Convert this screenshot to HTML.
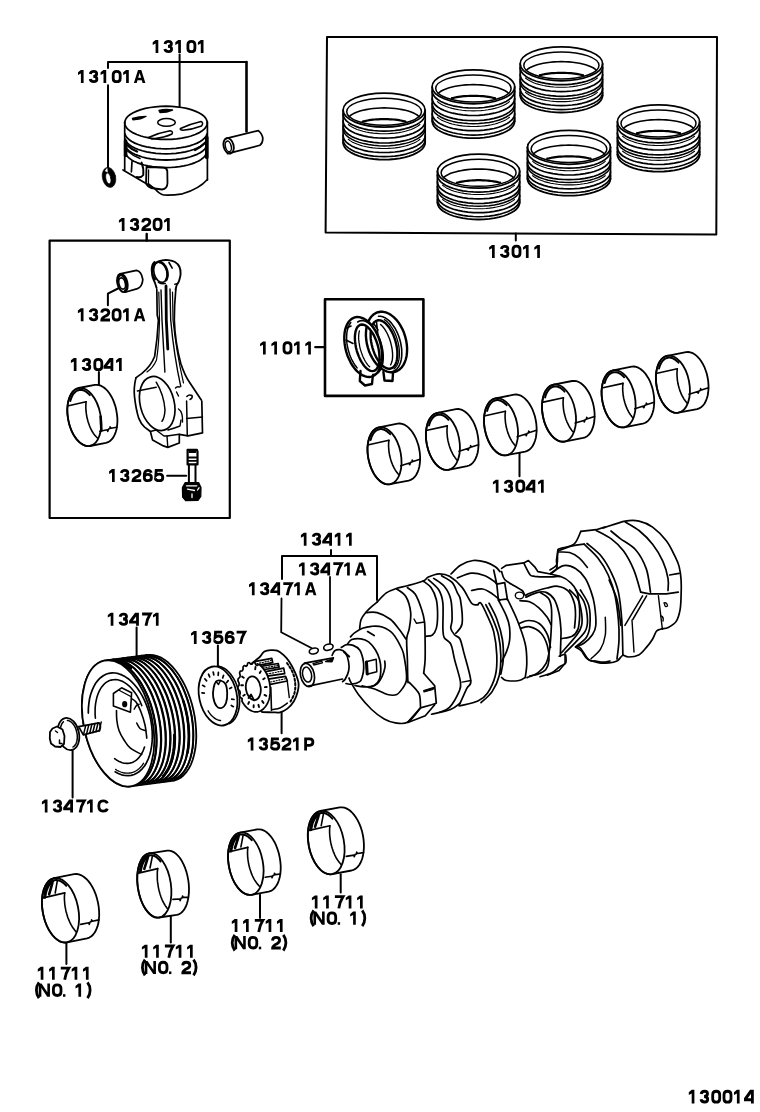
<!DOCTYPE html>
<html><head><meta charset="utf-8"><style>
html,body{margin:0;padding:0;background:#fff;width:760px;height:1112px;overflow:hidden}
svg{display:block}
</style></head><body>
<svg width="760" height="1112" viewBox="0 0 760 1112">
<rect width="760" height="1112" fill="#fff"/>
<g fill="none" fill-rule="evenodd" stroke="#000" stroke-width="1.7" stroke-linecap="round" stroke-linejoin="round">
<path d="M108,68 L108,62 L246.5,62" stroke-width="2"/>
<path d="M246.5,62 L246.5,131.5" stroke-width="2.6"/>
<path d="M108,85.2 L108,168" stroke-width="2"/>
<path d="M179.6,54.5 L179.6,106.6" stroke-width="2"/>
<path d="M327,37 L717,37 L716.3,234.5 L325.6,232.4 Z" stroke-width="2"/>
<path d="M515.8,233.5 L515.8,240.5" stroke-width="2"/>
<path d="M49.6,240.6 L229.8,240.6 L229.8,518 L49.6,518 Z" stroke-width="2.2"/>
<path d="M146.7,234 L146.7,240.5" stroke-width="2.4"/>
<path d="M325,299.3 L423.4,299.3 L423.4,395.9 L325,395.9 Z" stroke-width="2.6"/>
<path d="M315.3,347.2 L325,347.2" stroke-width="2.3"/>
<path d="M107.9,305.3 L107.9,293.6 L119,288" stroke-width="2"/>
<path d="M98.9,372 L98.9,387.3" stroke-width="2"/>
<path d="M167.1,475.7 L186.2,475.7" stroke-width="2"/>
<path d="M519.5,453.2 L519.5,476.3" stroke-width="2"/>
<path d="M331,550 L331,556" stroke-width="2"/>
<path d="M282,579 L282,556 L377,556 L377,600" stroke-width="2"/>
<path d="M281.5,598.5 L281.2,632.2 L311.4,648" stroke-width="1.8"/>
<path d="M330,577 L330,643.3" stroke-width="1.8"/>
<path d="M136.6,627.6 L136.6,655.3" stroke-width="2"/>
<path d="M217.9,645.4 L217.9,668" stroke-width="2"/>
<path d="M281.6,712.6 L281.6,733.3" stroke-width="2"/>
<path d="M72.6,750 L72.6,797.4" stroke-width="2"/>
<path d="M66.4,943 L66.4,963.9" stroke-width="2"/>
<path d="M170.8,916.3 L170.8,942.6" stroke-width="2"/>
<path d="M260,894.7 L260,918" stroke-width="2"/>
<path d="M340.7,874.2 L340.7,892.6" stroke-width="2"/>
<ellipse cx="384.1" cy="110.1" rx="41.0" ry="17.0"/>
<ellipse cx="384.1" cy="111.7" rx="37.4" ry="13.5" stroke-width="1.5"/>
<path d="M349.2,116.6 L350.7,115.3 L352.6,114.1 L354.7,113.0 L357.2,112.0 L360.0,111.1 L362.9,110.3 L366.1,109.6 L369.5,109.0 L373.0,108.5 L376.7,108.2 L380.4,108.0 L384.1,107.9 L387.9,108.0 L391.6,108.2 L395.3,108.5 L398.8,109.0 L402.2,109.6 L405.4,110.3 L408.3,111.1 L411.1,112.0 L413.6,113.0 L415.7,114.1 L417.6,115.3 L419.1,116.6" stroke-width="1.6"/>
<path d="M362.7,121.5 L364.3,121.2 L365.9,120.8 L367.6,120.5 L369.3,120.2 L371.1,119.9 L372.9,119.7 L374.7,119.5 L376.6,119.4 L378.5,119.3 L380.3,119.2 L382.2,119.1 L384.1,119.1 L386.1,119.1 L388.0,119.2 L389.8,119.3 L391.7,119.4 L393.6,119.5 L395.4,119.7 L397.2,119.9 L399.0,120.2 L400.7,120.5 L402.4,120.8 L404.0,121.2 L405.6,121.5" stroke-width="2.2"/>
<path d="M425.2,114.1 L424.8,116.3 L423.8,118.5 L422.1,120.6 L419.7,122.6 L416.7,124.5 L413.2,126.1 L409.1,127.6 L404.7,128.8 L399.9,129.8 L394.8,130.5 L389.5,131.0 L384.1,131.1 L378.8,131.0 L373.5,130.5 L368.4,129.8 L363.6,128.8 L359.2,127.6 L355.1,126.1 L351.6,124.5 L348.6,122.6 L346.2,120.6 L344.5,118.5 L343.5,116.3 L343.1,114.1" stroke-width="1.7"/>
<path d="M425.2,121.2 L424.8,123.4 L423.8,125.6 L422.1,127.7 L419.7,129.7 L416.7,131.5 L413.2,133.2 L409.1,134.6 L404.7,135.9 L399.9,136.9 L394.8,137.6 L389.5,138.0 L384.1,138.2 L378.8,138.0 L373.5,137.6 L368.4,136.9 L363.6,135.9 L359.2,134.6 L355.1,133.2 L351.6,131.5 L348.6,129.7 L346.2,127.7 L344.5,125.6 L343.5,123.4 L343.1,121.2" stroke-width="1.7"/>
<path d="M425.2,126.0 L424.8,128.2 L423.8,130.4 L422.1,132.5 L419.7,134.5 L416.7,136.4 L413.2,138.0 L409.1,139.5 L404.7,140.7 L399.9,141.7 L394.8,142.4 L389.5,142.9 L384.1,143.0 L378.8,142.9 L373.5,142.4 L368.4,141.7 L363.6,140.7 L359.2,139.5 L355.1,138.0 L351.6,136.4 L348.6,134.5 L346.2,132.5 L344.5,130.4 L343.5,128.2 L343.1,126.0" stroke-width="1.7"/>
<path d="M425.2,128.9 L424.8,131.1 L423.8,133.3 L422.1,135.4 L419.7,137.4 L416.7,139.2 L413.2,140.9 L409.1,142.4 L404.7,143.6 L399.9,144.6 L394.8,145.3 L389.5,145.7 L384.1,145.9 L378.8,145.7 L373.5,145.3 L368.4,144.6 L363.6,143.6 L359.2,142.4 L355.1,140.9 L351.6,139.2 L348.6,137.4 L346.2,135.4 L344.5,133.3 L343.5,131.1 L343.1,128.9" stroke-width="1.5"/>
<path d="M425.2,135.5 L424.8,137.8 L423.8,139.9 L422.1,142.1 L419.7,144.0 L416.7,145.9 L413.2,147.6 L409.1,149.0 L404.7,150.3 L399.9,151.3 L394.8,152.0 L389.5,152.4 L384.1,152.5 L378.8,152.4 L373.5,152.0 L368.4,151.3 L363.6,150.3 L359.2,149.0 L355.1,147.6 L351.6,145.9 L348.6,144.0 L346.2,142.1 L344.5,139.9 L343.5,137.8 L343.1,135.5" stroke-width="1.7"/>
<path d="M425.2,139.6 L424.8,141.9 L423.8,144.0 L422.1,146.2 L419.7,148.1 L416.7,150.0 L413.2,151.7 L409.1,153.1 L404.7,154.4 L399.9,155.4 L394.8,156.1 L389.5,156.5 L384.1,156.6 L378.8,156.5 L373.5,156.1 L368.4,155.4 L363.6,154.4 L359.2,153.1 L355.1,151.7 L351.6,150.0 L348.6,148.1 L346.2,146.2 L344.5,144.0 L343.5,141.9 L343.1,139.6" stroke-width="1.6"/>
<path d="M425.2,142.6 L424.8,144.8 L423.8,147.0 L422.1,149.1 L419.7,151.1 L416.7,152.9 L413.2,154.6 L409.1,156.1 L404.7,157.3 L399.9,158.3 L394.8,159.0 L389.5,159.5 L384.1,159.6 L378.8,159.5 L373.5,159.0 L368.4,158.3 L363.6,157.3 L359.2,156.1 L355.1,154.6 L351.6,152.9 L348.6,151.1 L346.2,149.1 L344.5,147.0 L343.5,144.8 L343.1,142.6" stroke-width="1.8"/>
<path d="M420.0,124.5 L418.3,125.8 L416.2,127.1 L413.9,128.3 L411.3,129.4 L408.5,130.3 L405.4,131.2 L402.2,132.0 L398.8,132.6 L395.2,133.1 L391.6,133.4 L387.9,133.7 L384.1,133.7 L380.4,133.7 L376.7,133.4 L373.1,133.1 L369.5,132.6 L366.1,132.0 L362.9,131.2 L359.8,130.3 L357.0,129.4 L354.4,128.3 L352.1,127.1 L350.0,125.8 L348.3,124.5" stroke-width="1.1"/>
<path d="M420.0,139.3 L418.3,140.6 L416.2,141.9 L413.9,143.0 L411.3,144.1 L408.5,145.1 L405.4,146.0 L402.2,146.7 L398.8,147.4 L395.2,147.9 L391.6,148.2 L387.9,148.4 L384.1,148.5 L380.4,148.4 L376.7,148.2 L373.1,147.9 L369.5,147.4 L366.1,146.7 L362.9,146.0 L359.8,145.1 L357.0,144.1 L354.4,143.0 L352.1,141.9 L350.0,140.6 L348.3,139.3" stroke-width="1.1"/>
<path d="M343.09999999999997,110.1 L343.09999999999997,142.6"/>
<path d="M425.2,110.1 L425.2,142.6"/>
<ellipse cx="473.4" cy="86.8" rx="41.3" ry="17.0"/>
<ellipse cx="473.4" cy="88.4" rx="37.7" ry="13.5" stroke-width="1.5"/>
<path d="M438.3,93.3 L439.8,92.0 L441.7,90.8 L443.9,89.7 L446.4,88.7 L449.1,87.8 L452.1,87.0 L455.3,86.3 L458.7,85.7 L462.3,85.2 L465.9,84.9 L469.7,84.7 L473.4,84.6 L477.2,84.7 L481.0,84.9 L484.6,85.2 L488.2,85.7 L491.6,86.3 L494.8,87.0 L497.8,87.8 L500.5,88.7 L503.0,89.7 L505.2,90.8 L507.1,92.0 L508.6,93.3" stroke-width="1.6"/>
<path d="M451.9,98.2 L453.5,97.9 L455.1,97.5 L456.8,97.2 L458.5,96.9 L460.3,96.6 L462.1,96.4 L464.0,96.2 L465.8,96.1 L467.7,96.0 L469.6,95.9 L471.5,95.8 L473.4,95.8 L475.4,95.8 L477.3,95.9 L479.2,96.0 L481.1,96.1 L482.9,96.2 L484.8,96.4 L486.6,96.6 L488.4,96.9 L490.1,97.2 L491.8,97.5 L493.4,97.9 L495.0,98.2" stroke-width="2.2"/>
<path d="M514.7,91.0 L514.3,93.3 L513.3,95.4 L511.6,97.5 L509.2,99.5 L506.2,101.4 L502.6,103.1 L498.6,104.5 L494.1,105.8 L489.2,106.7 L484.1,107.5 L478.8,107.9 L473.4,108.0 L468.1,107.9 L462.8,107.5 L457.7,106.7 L452.8,105.8 L448.3,104.5 L444.3,103.1 L440.7,101.4 L437.7,99.5 L435.3,97.5 L433.6,95.4 L432.6,93.3 L432.2,91.0" stroke-width="1.7"/>
<path d="M514.7,98.5 L514.3,100.7 L513.3,102.9 L511.6,105.0 L509.2,107.0 L506.2,108.9 L502.6,110.5 L498.6,112.0 L494.1,113.2 L489.2,114.2 L484.1,114.9 L478.8,115.4 L473.4,115.5 L468.1,115.4 L462.8,114.9 L457.7,114.2 L452.8,113.2 L448.3,112.0 L444.3,110.5 L440.7,108.9 L437.7,107.0 L435.3,105.0 L433.6,102.9 L432.6,100.7 L432.2,98.5" stroke-width="1.7"/>
<path d="M514.7,103.6 L514.3,105.9 L513.3,108.0 L511.6,110.2 L509.2,112.1 L506.2,114.0 L502.6,115.7 L498.6,117.1 L494.1,118.4 L489.2,119.4 L484.1,120.1 L478.8,120.5 L473.4,120.6 L468.1,120.5 L462.8,120.1 L457.7,119.4 L452.8,118.4 L448.3,117.1 L444.3,115.7 L440.7,114.0 L437.7,112.1 L435.3,110.2 L433.6,108.0 L432.6,105.9 L432.2,103.6" stroke-width="1.7"/>
<path d="M514.7,106.7 L514.3,108.9 L513.3,111.1 L511.6,113.2 L509.2,115.2 L506.2,117.0 L502.6,118.7 L498.6,120.2 L494.1,121.4 L489.2,122.4 L484.1,123.1 L478.8,123.5 L473.4,123.7 L468.1,123.5 L462.8,123.1 L457.7,122.4 L452.8,121.4 L448.3,120.2 L444.3,118.7 L440.7,117.0 L437.7,115.2 L435.3,113.2 L433.6,111.1 L432.6,108.9 L432.2,106.7" stroke-width="1.5"/>
<path d="M514.7,113.7 L514.3,116.0 L513.3,118.1 L511.6,120.2 L509.2,122.2 L506.2,124.1 L502.6,125.8 L498.6,127.2 L494.1,128.5 L489.2,129.4 L484.1,130.2 L478.8,130.6 L473.4,130.7 L468.1,130.6 L462.8,130.2 L457.7,129.4 L452.8,128.5 L448.3,127.2 L444.3,125.8 L440.7,124.1 L437.7,122.2 L435.3,120.2 L433.6,118.1 L432.6,116.0 L432.2,113.7" stroke-width="1.7"/>
<path d="M514.7,118.1 L514.3,120.3 L513.3,122.5 L511.6,124.6 L509.2,126.6 L506.2,128.4 L502.6,130.1 L498.6,131.6 L494.1,132.8 L489.2,133.8 L484.1,134.5 L478.8,134.9 L473.4,135.1 L468.1,134.9 L462.8,134.5 L457.7,133.8 L452.8,132.8 L448.3,131.6 L444.3,130.1 L440.7,128.4 L437.7,126.6 L435.3,124.6 L433.6,122.5 L432.6,120.3 L432.2,118.1" stroke-width="1.6"/>
<path d="M514.7,121.2 L514.3,123.4 L513.3,125.6 L511.6,127.7 L509.2,129.7 L506.2,131.5 L502.6,133.2 L498.6,134.7 L494.1,135.9 L489.2,136.9 L484.1,137.6 L478.8,138.1 L473.4,138.2 L468.1,138.1 L462.8,137.6 L457.7,136.9 L452.8,135.9 L448.3,134.7 L444.3,133.2 L440.7,131.5 L437.7,129.7 L435.3,127.7 L433.6,125.6 L432.6,123.4 L432.2,121.2" stroke-width="1.8"/>
<path d="M509.5,101.6 L507.7,103.0 L505.7,104.2 L503.3,105.4 L500.7,106.5 L497.9,107.5 L494.8,108.4 L491.5,109.1 L488.1,109.7 L484.6,110.2 L480.9,110.6 L477.2,110.8 L473.4,110.9 L469.7,110.8 L466.0,110.6 L462.3,110.2 L458.8,109.7 L455.4,109.1 L452.1,108.4 L449.0,107.5 L446.2,106.5 L443.6,105.4 L441.2,104.2 L439.2,103.0 L437.4,101.6" stroke-width="1.1"/>
<path d="M509.5,117.3 L507.7,118.6 L505.7,119.9 L503.3,121.1 L500.7,122.1 L497.9,123.1 L494.8,124.0 L491.5,124.8 L488.1,125.4 L484.6,125.9 L480.9,126.2 L477.2,126.4 L473.4,126.5 L469.7,126.4 L466.0,126.2 L462.3,125.9 L458.8,125.4 L455.4,124.8 L452.1,124.0 L449.0,123.1 L446.2,122.1 L443.6,121.1 L441.2,119.9 L439.2,118.6 L437.4,117.3" stroke-width="1.1"/>
<path d="M432.2,86.8 L432.2,121.19999999999999"/>
<path d="M514.7,86.8 L514.7,121.19999999999999"/>
<ellipse cx="561.4" cy="63.8" rx="41.2" ry="17.0"/>
<ellipse cx="561.4" cy="65.4" rx="37.6" ry="13.5" stroke-width="1.5"/>
<path d="M526.3,70.3 L527.8,69.0 L529.7,67.8 L531.9,66.7 L534.4,65.7 L537.1,64.8 L540.1,64.0 L543.3,63.3 L546.7,62.7 L550.3,62.2 L553.9,61.9 L557.6,61.7 L561.4,61.6 L565.2,61.7 L568.9,61.9 L572.5,62.2 L576.1,62.7 L579.5,63.3 L582.7,64.0 L585.7,64.8 L588.4,65.7 L590.9,66.7 L593.1,67.8 L595.0,69.0 L596.5,70.3" stroke-width="1.6"/>
<path d="M539.8,75.2 L541.4,74.9 L543.1,74.5 L544.8,74.2 L546.5,73.9 L548.3,73.6 L550.1,73.4 L551.9,73.2 L553.8,73.1 L555.7,73.0 L557.6,72.9 L559.5,72.8 L561.4,72.8 L563.3,72.8 L565.2,72.9 L567.1,73.0 L569.0,73.1 L570.9,73.2 L572.7,73.4 L574.5,73.6 L576.3,73.9 L578.0,74.2 L579.7,74.5 L581.4,74.9 L583.0,75.2" stroke-width="2.2"/>
<path d="M602.6,67.7 L602.2,69.9 L601.2,72.1 L599.5,74.2 L597.1,76.2 L594.1,78.1 L590.5,79.7 L586.5,81.2 L582.0,82.4 L577.2,83.4 L572.1,84.1 L566.8,84.6 L561.4,84.7 L556.0,84.6 L550.7,84.1 L545.6,83.4 L540.8,82.4 L536.3,81.2 L532.3,79.7 L528.7,78.1 L525.7,76.2 L523.3,74.2 L521.6,72.1 L520.6,69.9 L520.2,67.7" stroke-width="1.7"/>
<path d="M602.6,74.6 L602.2,76.8 L601.2,79.0 L599.5,81.1 L597.1,83.1 L594.1,84.9 L590.5,86.6 L586.5,88.1 L582.0,89.3 L577.2,90.3 L572.1,91.0 L566.8,91.4 L561.4,91.6 L556.0,91.4 L550.7,91.0 L545.6,90.3 L540.8,89.3 L536.3,88.1 L532.3,86.6 L528.7,84.9 L525.7,83.1 L523.3,81.1 L521.6,79.0 L520.6,76.8 L520.2,74.6" stroke-width="1.7"/>
<path d="M602.6,79.3 L602.2,81.5 L601.2,83.7 L599.5,85.8 L597.1,87.8 L594.1,89.7 L590.5,91.3 L586.5,92.8 L582.0,94.0 L577.2,95.0 L572.1,95.7 L566.8,96.2 L561.4,96.3 L556.0,96.2 L550.7,95.7 L545.6,95.0 L540.8,94.0 L536.3,92.8 L532.3,91.3 L528.7,89.7 L525.7,87.8 L523.3,85.8 L521.6,83.7 L520.6,81.5 L520.2,79.3" stroke-width="1.7"/>
<path d="M602.6,82.1 L602.2,84.3 L601.2,86.5 L599.5,88.6 L597.1,90.6 L594.1,92.5 L590.5,94.1 L586.5,95.6 L582.0,96.8 L577.2,97.8 L572.1,98.5 L566.8,99.0 L561.4,99.1 L556.0,99.0 L550.7,98.5 L545.6,97.8 L540.8,96.8 L536.3,95.6 L532.3,94.1 L528.7,92.5 L525.7,90.6 L523.3,88.6 L521.6,86.5 L520.6,84.3 L520.2,82.1" stroke-width="1.5"/>
<path d="M602.6,88.6 L602.2,90.8 L601.2,93.0 L599.5,95.1 L597.1,97.1 L594.1,99.0 L590.5,100.6 L586.5,102.1 L582.0,103.3 L577.2,104.3 L572.1,105.0 L566.8,105.5 L561.4,105.6 L556.0,105.5 L550.7,105.0 L545.6,104.3 L540.8,103.3 L536.3,102.1 L532.3,100.6 L528.7,99.0 L525.7,97.1 L523.3,95.1 L521.6,93.0 L520.6,90.8 L520.2,88.6" stroke-width="1.7"/>
<path d="M602.6,92.6 L602.2,94.8 L601.2,97.0 L599.5,99.1 L597.1,101.1 L594.1,103.0 L590.5,104.6 L586.5,106.1 L582.0,107.3 L577.2,108.3 L572.1,109.0 L566.8,109.5 L561.4,109.6 L556.0,109.5 L550.7,109.0 L545.6,108.3 L540.8,107.3 L536.3,106.1 L532.3,104.6 L528.7,103.0 L525.7,101.1 L523.3,99.1 L521.6,97.0 L520.6,94.8 L520.2,92.6" stroke-width="1.6"/>
<path d="M602.6,95.5 L602.2,97.7 L601.2,99.9 L599.5,102.0 L597.1,104.0 L594.1,105.8 L590.5,107.5 L586.5,109.0 L582.0,110.2 L577.2,111.2 L572.1,111.9 L566.8,112.4 L561.4,112.5 L556.0,112.4 L550.7,111.9 L545.6,111.2 L540.8,110.2 L536.3,109.0 L532.3,107.5 L528.7,105.8 L525.7,104.0 L523.3,102.0 L521.6,99.9 L520.6,97.7 L520.2,95.5" stroke-width="1.8"/>
<path d="M597.4,78.0 L595.6,79.3 L593.6,80.6 L591.2,81.8 L588.6,82.9 L585.8,83.9 L582.7,84.7 L579.5,85.5 L576.1,86.1 L572.5,86.6 L568.9,87.0 L565.1,87.2 L561.4,87.2 L557.7,87.2 L553.9,87.0 L550.3,86.6 L546.7,86.1 L543.3,85.5 L540.1,84.7 L537.0,83.9 L534.2,82.9 L531.6,81.8 L529.2,80.6 L527.2,79.3 L525.4,78.0" stroke-width="1.1"/>
<path d="M597.4,92.4 L595.6,93.7 L593.6,95.0 L591.2,96.2 L588.6,97.3 L585.8,98.3 L582.7,99.1 L579.5,99.9 L576.1,100.5 L572.5,101.0 L568.9,101.4 L565.1,101.6 L561.4,101.6 L557.7,101.6 L553.9,101.4 L550.3,101.0 L546.7,100.5 L543.3,99.9 L540.1,99.1 L537.0,98.3 L534.2,97.3 L531.6,96.2 L529.2,95.0 L527.2,93.7 L525.4,92.4" stroke-width="1.1"/>
<path d="M520.1999999999999,63.8 L520.1999999999999,95.5"/>
<path d="M602.6,63.8 L602.6,95.5"/>
<ellipse cx="658.5" cy="121.8" rx="41.1" ry="17.0"/>
<ellipse cx="658.5" cy="123.4" rx="37.5" ry="13.5" stroke-width="1.5"/>
<path d="M623.5,128.3 L625.0,127.0 L626.9,125.8 L629.1,124.7 L631.5,123.7 L634.3,122.8 L637.3,122.0 L640.5,121.3 L643.9,120.7 L647.4,120.2 L651.1,119.9 L654.8,119.7 L658.5,119.6 L662.3,119.7 L666.0,119.9 L669.7,120.2 L673.2,120.7 L676.6,121.3 L679.8,122.0 L682.8,122.8 L685.6,123.7 L688.0,124.7 L690.2,125.8 L692.1,127.0 L693.6,128.3" stroke-width="1.6"/>
<path d="M637.0,133.2 L638.6,132.9 L640.2,132.5 L641.9,132.2 L643.7,131.9 L645.5,131.6 L647.3,131.4 L649.1,131.2 L651.0,131.1 L652.8,131.0 L654.7,130.9 L656.6,130.8 L658.5,130.8 L660.5,130.8 L662.4,130.9 L664.3,131.0 L666.1,131.1 L668.0,131.2 L669.8,131.4 L671.6,131.6 L673.4,131.9 L675.2,132.2 L676.9,132.5 L678.5,132.9 L680.1,133.2" stroke-width="2.2"/>
<path d="M699.7,125.8 L699.3,128.1 L698.3,130.2 L696.6,132.3 L694.2,134.3 L691.2,136.2 L687.6,137.9 L683.6,139.3 L679.1,140.6 L674.3,141.5 L669.2,142.3 L663.9,142.7 L658.5,142.8 L653.2,142.7 L647.9,142.3 L642.8,141.5 L638.0,140.6 L633.5,139.3 L629.5,137.9 L625.9,136.2 L622.9,134.3 L620.5,132.3 L618.8,130.2 L617.8,128.1 L617.4,125.8" stroke-width="1.7"/>
<path d="M699.7,133.0 L699.3,135.2 L698.3,137.4 L696.6,139.5 L694.2,141.5 L691.2,143.3 L687.6,145.0 L683.6,146.4 L679.1,147.7 L674.3,148.7 L669.2,149.4 L663.9,149.8 L658.5,150.0 L653.2,149.8 L647.9,149.4 L642.8,148.7 L638.0,147.7 L633.5,146.4 L629.5,145.0 L625.9,143.3 L622.9,141.5 L620.5,139.5 L618.8,137.4 L617.8,135.2 L617.4,133.0" stroke-width="1.7"/>
<path d="M699.7,137.9 L699.3,140.1 L698.3,142.3 L696.6,144.4 L694.2,146.4 L691.2,148.2 L687.6,149.9 L683.6,151.4 L679.1,152.6 L674.3,153.6 L669.2,154.3 L663.9,154.7 L658.5,154.9 L653.2,154.7 L647.9,154.3 L642.8,153.6 L638.0,152.6 L633.5,151.4 L629.5,149.9 L625.9,148.2 L622.9,146.4 L620.5,144.4 L618.8,142.3 L617.8,140.1 L617.4,137.9" stroke-width="1.7"/>
<path d="M699.7,140.7 L699.3,143.0 L698.3,145.1 L696.6,147.3 L694.2,149.2 L691.2,151.1 L687.6,152.8 L683.6,154.2 L679.1,155.5 L674.3,156.5 L669.2,157.2 L663.9,157.6 L658.5,157.7 L653.2,157.6 L647.9,157.2 L642.8,156.5 L638.0,155.5 L633.5,154.2 L629.5,152.8 L625.9,151.1 L622.9,149.2 L620.5,147.3 L618.8,145.1 L617.8,143.0 L617.4,140.7" stroke-width="1.5"/>
<path d="M699.7,147.5 L699.3,149.7 L698.3,151.9 L696.6,154.0 L694.2,156.0 L691.2,157.8 L687.6,159.5 L683.6,161.0 L679.1,162.2 L674.3,163.2 L669.2,163.9 L663.9,164.3 L658.5,164.5 L653.2,164.3 L647.9,163.9 L642.8,163.2 L638.0,162.2 L633.5,161.0 L629.5,159.5 L625.9,157.8 L622.9,156.0 L620.5,154.0 L618.8,151.9 L617.8,149.7 L617.4,147.5" stroke-width="1.7"/>
<path d="M699.7,151.6 L699.3,153.8 L698.3,156.0 L696.6,158.1 L694.2,160.1 L691.2,162.0 L687.6,163.6 L683.6,165.1 L679.1,166.3 L674.3,167.3 L669.2,168.0 L663.9,168.5 L658.5,168.6 L653.2,168.5 L647.9,168.0 L642.8,167.3 L638.0,166.3 L633.5,165.1 L629.5,163.6 L625.9,162.0 L622.9,160.1 L620.5,158.1 L618.8,156.0 L617.8,153.8 L617.4,151.6" stroke-width="1.6"/>
<path d="M699.7,154.6 L699.3,156.8 L698.3,159.0 L696.6,161.1 L694.2,163.1 L691.2,164.9 L687.6,166.6 L683.6,168.1 L679.1,169.3 L674.3,170.3 L669.2,171.0 L663.9,171.5 L658.5,171.6 L653.2,171.5 L647.9,171.0 L642.8,170.3 L638.0,169.3 L633.5,168.1 L629.5,166.6 L625.9,164.9 L622.9,163.1 L620.5,161.1 L618.8,159.0 L617.8,156.8 L617.4,154.6" stroke-width="1.8"/>
<path d="M694.5,136.3 L692.7,137.6 L690.7,138.9 L688.4,140.0 L685.8,141.1 L682.9,142.1 L679.9,143.0 L676.6,143.7 L673.2,144.4 L669.6,144.9 L666.0,145.2 L662.3,145.4 L658.5,145.5 L654.8,145.4 L651.1,145.2 L647.5,144.9 L643.9,144.4 L640.5,143.7 L637.2,143.0 L634.2,142.1 L631.3,141.1 L628.7,140.0 L626.4,138.9 L624.4,137.6 L622.6,136.3" stroke-width="1.1"/>
<path d="M694.5,151.2 L692.7,152.5 L690.7,153.8 L688.4,155.0 L685.8,156.0 L682.9,157.0 L679.9,157.9 L676.6,158.6 L673.2,159.3 L669.6,159.8 L666.0,160.1 L662.3,160.3 L658.5,160.4 L654.8,160.3 L651.1,160.1 L647.5,159.8 L643.9,159.3 L640.5,158.6 L637.2,157.9 L634.2,157.0 L631.3,156.0 L628.7,155.0 L626.4,153.8 L624.4,152.5 L622.6,151.2" stroke-width="1.1"/>
<path d="M617.4,121.8 L617.4,154.6"/>
<path d="M699.6999999999999,121.8 L699.6999999999999,154.6"/>
<ellipse cx="478.6" cy="171.2" rx="41.1" ry="17.0"/>
<ellipse cx="478.6" cy="172.8" rx="37.5" ry="13.5" stroke-width="1.5"/>
<path d="M443.5,177.7 L445.0,176.4 L446.9,175.2 L449.1,174.1 L451.5,173.1 L454.3,172.2 L457.3,171.4 L460.5,170.7 L463.9,170.1 L467.4,169.6 L471.1,169.3 L474.8,169.1 L478.6,169.0 L482.3,169.1 L486.0,169.3 L489.7,169.6 L493.2,170.1 L496.6,170.7 L499.8,171.4 L502.8,172.2 L505.6,173.1 L508.0,174.1 L510.2,175.2 L512.1,176.4 L513.6,177.7" stroke-width="1.6"/>
<path d="M457.0,182.6 L458.6,182.3 L460.2,181.9 L461.9,181.6 L463.7,181.3 L465.5,181.0 L467.3,180.8 L469.1,180.6 L471.0,180.5 L472.8,180.4 L474.7,180.3 L476.6,180.2 L478.6,180.2 L480.5,180.2 L482.4,180.3 L484.3,180.4 L486.1,180.5 L488.0,180.6 L489.8,180.8 L491.6,181.0 L493.4,181.3 L495.2,181.6 L496.9,181.9 L498.5,182.3 L500.1,182.6" stroke-width="2.2"/>
<path d="M519.7,175.1 L519.3,177.3 L518.3,179.5 L516.6,181.6 L514.2,183.6 L511.2,185.4 L507.6,187.1 L503.6,188.5 L499.1,189.8 L494.3,190.8 L489.2,191.5 L483.9,191.9 L478.6,192.1 L473.2,191.9 L467.9,191.5 L462.8,190.8 L458.0,189.8 L453.5,188.5 L449.5,187.1 L445.9,185.4 L442.9,183.6 L440.5,181.6 L438.8,179.5 L437.8,177.3 L437.4,175.1" stroke-width="1.7"/>
<path d="M519.7,181.8 L519.3,184.1 L518.3,186.2 L516.6,188.4 L514.2,190.3 L511.2,192.2 L507.6,193.9 L503.6,195.3 L499.1,196.6 L494.3,197.6 L489.2,198.3 L483.9,198.7 L478.6,198.8 L473.2,198.7 L467.9,198.3 L462.8,197.6 L458.0,196.6 L453.5,195.3 L449.5,193.9 L445.9,192.2 L442.9,190.3 L440.5,188.4 L438.8,186.2 L437.8,184.1 L437.4,181.8" stroke-width="1.7"/>
<path d="M519.7,186.5 L519.3,188.7 L518.3,190.9 L516.6,193.0 L514.2,195.0 L511.2,196.9 L507.6,198.5 L503.6,200.0 L499.1,201.3 L494.3,202.2 L489.2,202.9 L483.9,203.4 L478.6,203.5 L473.2,203.4 L467.9,202.9 L462.8,202.2 L458.0,201.3 L453.5,200.0 L449.5,198.5 L445.9,196.9 L442.9,195.0 L440.5,193.0 L438.8,190.9 L437.8,188.7 L437.4,186.5" stroke-width="1.7"/>
<path d="M519.7,189.3 L519.3,191.5 L518.3,193.7 L516.6,195.8 L514.2,197.8 L511.2,199.6 L507.6,201.3 L503.6,202.8 L499.1,204.0 L494.3,205.0 L489.2,205.7 L483.9,206.1 L478.6,206.3 L473.2,206.1 L467.9,205.7 L462.8,205.0 L458.0,204.0 L453.5,202.8 L449.5,201.3 L445.9,199.6 L442.9,197.8 L440.5,195.8 L438.8,193.7 L437.8,191.5 L437.4,189.3" stroke-width="1.5"/>
<path d="M519.7,195.7 L519.3,197.9 L518.3,200.1 L516.6,202.2 L514.2,204.2 L511.2,206.1 L507.6,207.7 L503.6,209.2 L499.1,210.4 L494.3,211.4 L489.2,212.1 L483.9,212.6 L478.6,212.7 L473.2,212.6 L467.9,212.1 L462.8,211.4 L458.0,210.4 L453.5,209.2 L449.5,207.7 L445.9,206.1 L442.9,204.2 L440.5,202.2 L438.8,200.1 L437.8,197.9 L437.4,195.7" stroke-width="1.7"/>
<path d="M519.7,199.7 L519.3,201.9 L518.3,204.1 L516.6,206.2 L514.2,208.2 L511.2,210.0 L507.6,211.7 L503.6,213.1 L499.1,214.4 L494.3,215.4 L489.2,216.1 L483.9,216.5 L478.6,216.7 L473.2,216.5 L467.9,216.1 L462.8,215.4 L458.0,214.4 L453.5,213.1 L449.5,211.7 L445.9,210.0 L442.9,208.2 L440.5,206.2 L438.8,204.1 L437.8,201.9 L437.4,199.7" stroke-width="1.6"/>
<path d="M519.7,202.5 L519.3,204.7 L518.3,206.9 L516.6,209.0 L514.2,211.0 L511.2,212.8 L507.6,214.5 L503.6,216.0 L499.1,217.2 L494.3,218.2 L489.2,218.9 L483.9,219.4 L478.6,219.5 L473.2,219.4 L467.9,218.9 L462.8,218.2 L458.0,217.2 L453.5,216.0 L449.5,214.5 L445.9,212.8 L442.9,211.0 L440.5,209.0 L438.8,206.9 L437.8,204.7 L437.4,202.5" stroke-width="1.8"/>
<path d="M514.5,185.3 L512.7,186.6 L510.7,187.9 L508.4,189.1 L505.8,190.2 L502.9,191.2 L499.9,192.0 L496.6,192.8 L493.2,193.4 L489.6,193.9 L486.0,194.3 L482.3,194.5 L478.6,194.5 L474.8,194.5 L471.1,194.3 L467.5,193.9 L463.9,193.4 L460.5,192.8 L457.2,192.0 L454.2,191.2 L451.3,190.2 L448.7,189.1 L446.4,187.9 L444.4,186.6 L442.6,185.3" stroke-width="1.1"/>
<path d="M514.5,199.5 L512.7,200.9 L510.7,202.1 L508.4,203.3 L505.8,204.4 L502.9,205.4 L499.9,206.3 L496.6,207.0 L493.2,207.6 L489.6,208.1 L486.0,208.5 L482.3,208.7 L478.6,208.8 L474.8,208.7 L471.1,208.5 L467.5,208.1 L463.9,207.6 L460.5,207.0 L457.2,206.3 L454.2,205.4 L451.3,204.4 L448.7,203.3 L446.4,202.1 L444.4,200.9 L442.6,199.5" stroke-width="1.1"/>
<path d="M437.40000000000003,171.20000000000002 L437.40000000000003,202.5"/>
<path d="M519.7,171.20000000000002 L519.7,202.5"/>
<ellipse cx="569.0" cy="147.3" rx="41.5" ry="17.0"/>
<ellipse cx="569.0" cy="148.9" rx="37.9" ry="13.5" stroke-width="1.5"/>
<path d="M533.5,153.8 L535.1,152.5 L536.9,151.3 L539.1,150.2 L541.7,149.2 L544.4,148.3 L547.5,147.5 L550.7,146.8 L554.1,146.2 L557.7,145.7 L561.4,145.4 L565.1,145.2 L569.0,145.1 L572.8,145.2 L576.5,145.4 L580.2,145.7 L583.8,146.2 L587.2,146.8 L590.4,147.5 L593.5,148.3 L596.2,149.2 L598.8,150.2 L601.0,151.3 L602.8,152.5 L604.4,153.8" stroke-width="1.6"/>
<path d="M547.2,158.7 L548.8,158.4 L550.5,158.0 L552.2,157.7 L553.9,157.4 L555.7,157.1 L557.5,156.9 L559.4,156.7 L561.3,156.6 L563.2,156.5 L565.1,156.4 L567.0,156.3 L569.0,156.3 L570.9,156.3 L572.8,156.4 L574.7,156.5 L576.6,156.6 L578.5,156.7 L580.4,156.9 L582.2,157.1 L584.0,157.4 L585.7,157.7 L587.4,158.0 L589.1,158.4 L590.7,158.7" stroke-width="2.2"/>
<path d="M610.5,151.2 L610.1,153.4 L609.1,155.6 L607.3,157.7 L604.9,159.7 L601.9,161.5 L598.3,163.2 L594.2,164.7 L589.7,165.9 L584.9,166.9 L579.7,167.6 L574.4,168.0 L569.0,168.2 L563.5,168.0 L558.2,167.6 L553.0,166.9 L548.2,165.9 L543.7,164.7 L539.6,163.2 L536.0,161.5 L533.0,159.7 L530.6,157.7 L528.8,155.6 L527.8,153.4 L527.4,151.2" stroke-width="1.7"/>
<path d="M610.5,158.0 L610.1,160.2 L609.1,162.4 L607.3,164.5 L604.9,166.5 L601.9,168.3 L598.3,170.0 L594.2,171.5 L589.7,172.7 L584.9,173.7 L579.7,174.4 L574.4,174.8 L569.0,175.0 L563.5,174.8 L558.2,174.4 L553.0,173.7 L548.2,172.7 L543.7,171.5 L539.6,170.0 L536.0,168.3 L533.0,166.5 L530.6,164.5 L528.8,162.4 L527.8,160.2 L527.4,158.0" stroke-width="1.7"/>
<path d="M610.5,162.7 L610.1,164.9 L609.1,167.1 L607.3,169.2 L604.9,171.2 L601.9,173.0 L598.3,174.7 L594.2,176.2 L589.7,177.4 L584.9,178.4 L579.7,179.1 L574.4,179.5 L569.0,179.7 L563.5,179.5 L558.2,179.1 L553.0,178.4 L548.2,177.4 L543.7,176.2 L539.6,174.7 L536.0,173.0 L533.0,171.2 L530.6,169.2 L528.8,167.1 L527.8,164.9 L527.4,162.7" stroke-width="1.7"/>
<path d="M610.5,165.4 L610.1,167.7 L609.1,169.8 L607.3,171.9 L604.9,173.9 L601.9,175.8 L598.3,177.5 L594.2,178.9 L589.7,180.2 L584.9,181.1 L579.7,181.9 L574.4,182.3 L569.0,182.4 L563.5,182.3 L558.2,181.9 L553.0,181.1 L548.2,180.2 L543.7,178.9 L539.6,177.5 L536.0,175.8 L533.0,173.9 L530.6,171.9 L528.8,169.8 L527.8,167.7 L527.4,165.4" stroke-width="1.5"/>
<path d="M610.5,171.9 L610.1,174.1 L609.1,176.3 L607.3,178.4 L604.9,180.4 L601.9,182.2 L598.3,183.9 L594.2,185.4 L589.7,186.6 L584.9,187.6 L579.7,188.3 L574.4,188.7 L569.0,188.9 L563.5,188.7 L558.2,188.3 L553.0,187.6 L548.2,186.6 L543.7,185.4 L539.6,183.9 L536.0,182.2 L533.0,180.4 L530.6,178.4 L528.8,176.3 L527.8,174.1 L527.4,171.9" stroke-width="1.7"/>
<path d="M610.5,175.8 L610.1,178.1 L609.1,180.2 L607.3,182.4 L604.9,184.3 L601.9,186.2 L598.3,187.9 L594.2,189.3 L589.7,190.6 L584.9,191.6 L579.7,192.3 L574.4,192.7 L569.0,192.8 L563.5,192.7 L558.2,192.3 L553.0,191.6 L548.2,190.6 L543.7,189.3 L539.6,187.9 L536.0,186.2 L533.0,184.3 L530.6,182.4 L528.8,180.2 L527.8,178.1 L527.4,175.8" stroke-width="1.6"/>
<path d="M610.5,178.7 L610.1,180.9 L609.1,183.1 L607.3,185.2 L604.9,187.2 L601.9,189.0 L598.3,190.7 L594.2,192.2 L589.7,193.4 L584.9,194.4 L579.7,195.1 L574.4,195.6 L569.0,195.7 L563.5,195.6 L558.2,195.1 L553.0,194.4 L548.2,193.4 L543.7,192.2 L539.6,190.7 L536.0,189.0 L533.0,187.2 L530.6,185.2 L528.8,183.1 L527.8,180.9 L527.4,178.7" stroke-width="1.8"/>
<path d="M605.2,161.4 L603.5,162.8 L601.4,164.0 L599.1,165.2 L596.4,166.3 L593.6,167.3 L590.5,168.2 L587.2,168.9 L583.7,169.5 L580.2,170.0 L576.5,170.4 L572.7,170.6 L569.0,170.7 L565.2,170.6 L561.4,170.4 L557.7,170.0 L554.2,169.5 L550.7,168.9 L547.4,168.2 L544.3,167.3 L541.5,166.3 L538.8,165.2 L536.5,164.0 L534.4,162.8 L532.7,161.4" stroke-width="1.1"/>
<path d="M605.2,175.7 L603.5,177.0 L601.4,178.3 L599.1,179.5 L596.4,180.6 L593.6,181.6 L590.5,182.4 L587.2,183.2 L583.7,183.8 L580.2,184.3 L576.5,184.7 L572.7,184.9 L569.0,184.9 L565.2,184.9 L561.4,184.7 L557.7,184.3 L554.2,183.8 L550.7,183.2 L547.4,182.4 L544.3,181.6 L541.5,180.6 L538.8,179.5 L536.5,178.3 L534.4,177.0 L532.7,175.7" stroke-width="1.1"/>
<path d="M527.4000000000001,147.3 L527.4000000000001,178.7"/>
<path d="M610.5,147.3 L610.5,178.7"/>
<path d="M390.0,484.2 L387.9,484.4 L385.7,484.1 L383.5,483.2 L381.3,482.0 L379.1,480.2 L377.0,478.1 L375.1,475.6 L373.3,472.7 L371.8,469.5 L370.4,466.1 L369.3,462.6 L368.4,458.9 L367.8,455.1 L367.5,451.4 L367.5,447.7 L367.8,444.2 L368.4,440.9 L369.2,437.8 L370.3,435.1 L371.7,432.7 L373.2,430.6 L375.0,429.1 L376.9,427.9 L379.0,427.3 L397.6,423.7 L399.8,423.5 L402.0,423.8 L404.2,424.6 L406.4,425.9 L408.5,427.6 L410.6,429.8 L412.5,432.3 L414.3,435.2 L415.9,438.3 L417.2,441.7 L418.4,445.3 L419.2,449.0 L419.8,452.7 L420.1,456.5 L420.1,460.1 L419.8,463.7 L419.3,467.0 L418.4,470.0 L417.3,472.8 L416.0,475.2 L414.4,477.2 L412.7,478.8 L410.7,479.9 L408.7,480.6 Z" stroke-width="1.8" fill="#fff"/>
<ellipse cx="384.5" cy="455.8" rx="16.4" ry="29.0" transform="rotate(-11 384.5 455.75)" stroke-width="1.8"/>
<path d="M388.9,440.3 L388.8,441.4 L388.7,442.5 L388.6,443.6 L388.6,444.7 L388.6,445.9 L388.6,447.0 L388.7,448.2 L388.8,449.4 L388.9,450.6 L389.0,451.8 L389.2,452.9 L389.4,454.1 L389.6,455.3 L389.9,456.5 L390.2,457.6 L390.5,458.8 L390.8,459.9 L391.2,461.1 L391.5,462.2 L392.0,463.3 L392.4,464.3 L392.8,465.4 L393.3,466.4 L393.8,467.4 L394.3,468.3 L394.8,469.2 L395.3,470.1 L395.9,471.0 L396.5,471.8 L397.0,472.6 L397.6,473.3 L398.2,474.0 L398.9,474.7" stroke-width="1.6"/>
<path d="M370.6,440.1 L371.0,438.7 L371.4,437.4 L371.9,436.2 L372.5,435.0 L373.1,434.0 L373.8,433.0 L374.5,432.1 L375.2,431.4 L376.0,430.7 L376.9,430.2 L377.7,429.8 L378.6,429.4 L379.5,429.2 L380.5,429.1 L381.4,429.1 L382.4,429.3 L383.4,429.5 L384.4,429.9 L385.3,430.3 L386.3,430.9 L387.3,431.6 L388.2,432.4 L389.2,433.2 L390.1,434.2" stroke-width="2.0"/>
<path d="M368.8,444.8 L388.9,440.3" stroke-width="1.6"/>
<path d="M400.7,465.8 L409.4,463.1 L409.8,464.7 L410.7,462.3 L412.0,461.9 L412.2,460.1 L413.0,461.5 L420.1,459.2" stroke-width="1.6"/>
<path d="M448.4,469.8 L446.3,469.9 L444.1,469.6 L441.9,468.8 L439.7,467.5 L437.5,465.8 L435.4,463.6 L433.5,461.1 L431.7,458.2 L430.2,455.1 L428.8,451.7 L427.7,448.1 L426.8,444.4 L426.2,440.7 L425.9,437.0 L425.9,433.3 L426.2,429.8 L426.8,426.4 L427.6,423.4 L428.7,420.6 L430.1,418.2 L431.6,416.2 L433.4,414.6 L435.3,413.5 L437.4,412.8 L456.0,409.2 L458.2,409.0 L460.4,409.4 L462.6,410.2 L464.8,411.5 L466.9,413.2 L469.0,415.3 L470.9,417.9 L472.7,420.7 L474.3,423.9 L475.6,427.3 L476.8,430.9 L477.6,434.6 L478.2,438.3 L478.5,442.0 L478.5,445.7 L478.2,449.2 L477.7,452.5 L476.8,455.6 L475.7,458.4 L474.4,460.8 L472.8,462.8 L471.1,464.4 L469.1,465.5 L467.1,466.1 Z" stroke-width="1.8" fill="#fff"/>
<ellipse cx="442.9" cy="441.3" rx="16.4" ry="29.0" transform="rotate(-11 442.9 441.29999999999995)" stroke-width="1.8"/>
<path d="M447.3,425.9 L447.2,426.9 L447.1,428.0 L447.0,429.2 L447.0,430.3 L447.0,431.4 L447.0,432.6 L447.1,433.8 L447.2,434.9 L447.3,436.1 L447.4,437.3 L447.6,438.5 L447.8,439.7 L448.0,440.9 L448.3,442.0 L448.6,443.2 L448.9,444.3 L449.2,445.5 L449.6,446.6 L449.9,447.7 L450.4,448.8 L450.8,449.9 L451.2,450.9 L451.7,451.9 L452.2,452.9 L452.7,453.9 L453.2,454.8 L453.7,455.7 L454.3,456.5 L454.9,457.4 L455.4,458.1 L456.0,458.9 L456.6,459.6 L457.3,460.2" stroke-width="1.6"/>
<path d="M429.0,425.6 L429.4,424.2 L429.8,422.9 L430.3,421.7 L430.9,420.6 L431.5,419.5 L432.2,418.6 L432.9,417.7 L433.6,416.9 L434.4,416.3 L435.3,415.7 L436.1,415.3 L437.0,415.0 L437.9,414.8 L438.9,414.7 L439.8,414.7 L440.8,414.8 L441.8,415.0 L442.8,415.4 L443.7,415.9 L444.7,416.4 L445.7,417.1 L446.6,417.9 L447.6,418.8 L448.5,419.8" stroke-width="2.0"/>
<path d="M427.2,430.3 L447.3,425.9" stroke-width="1.6"/>
<path d="M459.1,451.3 L467.8,448.6 L468.2,450.2 L469.1,447.8 L470.4,447.4 L470.6,445.6 L471.4,447.0 L478.5,444.7" stroke-width="1.6"/>
<path d="M506.5,455.2 L504.4,455.4 L502.2,455.1 L500.0,454.2 L497.8,453.0 L495.6,451.2 L493.5,449.1 L491.6,446.6 L489.8,443.7 L488.3,440.5 L486.9,437.1 L485.8,433.6 L484.9,429.9 L484.3,426.1 L484.0,422.4 L484.0,418.7 L484.3,415.2 L484.9,411.9 L485.7,408.8 L486.8,406.1 L488.2,403.7 L489.7,401.6 L491.5,400.1 L493.4,398.9 L495.5,398.3 L514.1,394.7 L516.3,394.5 L518.5,394.8 L520.7,395.6 L522.9,396.9 L525.0,398.6 L527.1,400.8 L529.0,403.3 L530.8,406.2 L532.4,409.3 L533.7,412.7 L534.9,416.3 L535.7,420.0 L536.3,423.7 L536.6,427.5 L536.6,431.1 L536.3,434.7 L535.8,438.0 L534.9,441.0 L533.8,443.8 L532.5,446.2 L530.9,448.2 L529.2,449.8 L527.2,450.9 L525.2,451.6 Z" stroke-width="1.8" fill="#fff"/>
<ellipse cx="501.0" cy="426.8" rx="16.4" ry="29.0" transform="rotate(-11 501 426.75)" stroke-width="1.8"/>
<path d="M505.4,411.3 L505.3,412.4 L505.2,413.5 L505.1,414.6 L505.1,415.7 L505.1,416.9 L505.1,418.0 L505.2,419.2 L505.3,420.4 L505.4,421.6 L505.5,422.8 L505.7,423.9 L505.9,425.1 L506.1,426.3 L506.4,427.5 L506.7,428.6 L507.0,429.8 L507.3,430.9 L507.7,432.1 L508.0,433.2 L508.5,434.3 L508.9,435.3 L509.3,436.4 L509.8,437.4 L510.3,438.4 L510.8,439.3 L511.3,440.2 L511.8,441.1 L512.4,442.0 L513.0,442.8 L513.5,443.6 L514.1,444.3 L514.7,445.0 L515.4,445.7" stroke-width="1.6"/>
<path d="M487.1,411.1 L487.5,409.7 L487.9,408.4 L488.4,407.2 L489.0,406.0 L489.6,405.0 L490.3,404.0 L491.0,403.1 L491.7,402.4 L492.5,401.7 L493.4,401.2 L494.2,400.8 L495.1,400.4 L496.0,400.2 L497.0,400.1 L497.9,400.1 L498.9,400.3 L499.9,400.5 L500.9,400.9 L501.8,401.3 L502.8,401.9 L503.8,402.6 L504.7,403.4 L505.7,404.2 L506.6,405.2" stroke-width="2.0"/>
<path d="M485.3,415.8 L505.4,411.3" stroke-width="1.6"/>
<path d="M517.2,436.8 L525.9,434.1 L526.3,435.7 L527.2,433.3 L528.5,432.9 L528.7,431.1 L529.5,432.5 L536.6,430.2" stroke-width="1.6"/>
<path d="M564.5,441.6 L562.4,441.7 L560.2,441.4 L558.0,440.6 L555.8,439.3 L553.6,437.6 L551.5,435.4 L549.6,432.9 L547.8,430.0 L546.3,426.9 L544.9,423.5 L543.8,419.9 L542.9,416.2 L542.3,412.5 L542.0,408.8 L542.0,405.1 L542.3,401.6 L542.9,398.2 L543.7,395.2 L544.8,392.4 L546.2,390.0 L547.7,388.0 L549.5,386.4 L551.4,385.3 L553.5,384.6 L572.1,381.0 L574.3,380.8 L576.5,381.2 L578.7,382.0 L580.9,383.3 L583.0,385.0 L585.1,387.1 L587.0,389.7 L588.8,392.5 L590.4,395.7 L591.7,399.1 L592.9,402.7 L593.7,406.4 L594.3,410.1 L594.6,413.8 L594.6,417.5 L594.3,421.0 L593.8,424.3 L592.9,427.4 L591.8,430.2 L590.5,432.6 L588.9,434.6 L587.2,436.2 L585.2,437.3 L583.2,437.9 Z" stroke-width="1.8" fill="#fff"/>
<ellipse cx="559.0" cy="413.1" rx="16.4" ry="29.0" transform="rotate(-11 559 413.1)" stroke-width="1.8"/>
<path d="M563.4,397.7 L563.3,398.7 L563.2,399.8 L563.1,401.0 L563.1,402.1 L563.1,403.2 L563.1,404.4 L563.2,405.6 L563.3,406.7 L563.4,407.9 L563.5,409.1 L563.7,410.3 L563.9,411.5 L564.1,412.7 L564.4,413.8 L564.7,415.0 L565.0,416.1 L565.3,417.3 L565.7,418.4 L566.0,419.5 L566.5,420.6 L566.9,421.7 L567.3,422.7 L567.8,423.7 L568.3,424.7 L568.8,425.7 L569.3,426.6 L569.8,427.5 L570.4,428.3 L571.0,429.2 L571.5,429.9 L572.1,430.7 L572.7,431.4 L573.4,432.0" stroke-width="1.6"/>
<path d="M545.1,397.4 L545.5,396.0 L545.9,394.7 L546.4,393.5 L547.0,392.4 L547.6,391.3 L548.3,390.4 L549.0,389.5 L549.7,388.7 L550.5,388.1 L551.4,387.5 L552.2,387.1 L553.1,386.8 L554.0,386.6 L555.0,386.5 L555.9,386.5 L556.9,386.6 L557.9,386.8 L558.9,387.2 L559.8,387.7 L560.8,388.2 L561.8,388.9 L562.7,389.7 L563.7,390.6 L564.6,391.6" stroke-width="2.0"/>
<path d="M543.3,402.1 L563.4,397.7" stroke-width="1.6"/>
<path d="M575.2,423.1 L583.9,420.4 L584.3,422.0 L585.2,419.6 L586.5,419.2 L586.7,417.4 L587.5,418.8 L594.6,416.5" stroke-width="1.6"/>
<path d="M624.1,427.3 L622.0,427.4 L619.8,427.1 L617.6,426.3 L615.4,425.0 L613.2,423.3 L611.1,421.1 L609.2,418.6 L607.4,415.7 L605.9,412.6 L604.5,409.2 L603.4,405.6 L602.5,401.9 L601.9,398.2 L601.6,394.5 L601.6,390.8 L601.9,387.3 L602.5,383.9 L603.3,380.9 L604.4,378.1 L605.8,375.7 L607.3,373.7 L609.1,372.1 L611.0,371.0 L613.1,370.3 L631.7,366.7 L633.9,366.5 L636.1,366.9 L638.3,367.7 L640.5,369.0 L642.6,370.7 L644.7,372.8 L646.6,375.4 L648.4,378.2 L650.0,381.4 L651.3,384.8 L652.5,388.4 L653.3,392.1 L653.9,395.8 L654.2,399.5 L654.2,403.2 L653.9,406.7 L653.4,410.0 L652.5,413.1 L651.4,415.9 L650.1,418.3 L648.5,420.3 L646.8,421.9 L644.8,423.0 L642.8,423.6 Z" stroke-width="1.8" fill="#fff"/>
<ellipse cx="618.6" cy="398.8" rx="16.4" ry="29.0" transform="rotate(-11 618.6 398.8)" stroke-width="1.8"/>
<path d="M623.0,383.4 L622.9,384.4 L622.8,385.5 L622.7,386.7 L622.7,387.8 L622.7,388.9 L622.7,390.1 L622.8,391.3 L622.9,392.4 L623.0,393.6 L623.1,394.8 L623.3,396.0 L623.5,397.2 L623.7,398.4 L624.0,399.5 L624.3,400.7 L624.6,401.8 L624.9,403.0 L625.3,404.1 L625.6,405.2 L626.1,406.3 L626.5,407.4 L626.9,408.4 L627.4,409.4 L627.9,410.4 L628.4,411.4 L628.9,412.3 L629.4,413.2 L630.0,414.0 L630.6,414.9 L631.1,415.6 L631.7,416.4 L632.3,417.1 L633.0,417.7" stroke-width="1.6"/>
<path d="M604.7,383.1 L605.1,381.7 L605.5,380.4 L606.0,379.2 L606.6,378.1 L607.2,377.0 L607.9,376.1 L608.6,375.2 L609.3,374.4 L610.1,373.8 L611.0,373.2 L611.8,372.8 L612.7,372.5 L613.6,372.3 L614.6,372.2 L615.5,372.2 L616.5,372.3 L617.5,372.5 L618.5,372.9 L619.4,373.4 L620.4,373.9 L621.4,374.6 L622.3,375.4 L623.3,376.3 L624.2,377.3" stroke-width="2.0"/>
<path d="M602.9,387.8 L623.0,383.4" stroke-width="1.6"/>
<path d="M634.8,408.8 L643.5,406.1 L643.9,407.7 L644.8,405.3 L646.1,404.9 L646.3,403.1 L647.1,404.5 L654.2,402.2" stroke-width="1.6"/>
<path d="M678.4,412.7 L676.3,412.9 L674.1,412.6 L671.9,411.7 L669.7,410.5 L667.5,408.7 L665.4,406.6 L663.5,404.1 L661.7,401.2 L660.2,398.0 L658.8,394.6 L657.7,391.1 L656.8,387.4 L656.2,383.6 L655.9,379.9 L655.9,376.2 L656.2,372.7 L656.8,369.4 L657.6,366.3 L658.7,363.6 L660.1,361.2 L661.6,359.1 L663.4,357.6 L665.3,356.4 L667.4,355.8 L686.0,352.2 L688.2,352.0 L690.4,352.3 L692.6,353.1 L694.8,354.4 L696.9,356.1 L699.0,358.3 L700.9,360.8 L702.7,363.7 L704.3,366.8 L705.6,370.2 L706.8,373.8 L707.6,377.5 L708.2,381.2 L708.5,385.0 L708.5,388.6 L708.2,392.2 L707.7,395.5 L706.8,398.5 L705.7,401.3 L704.4,403.7 L702.8,405.7 L701.1,407.3 L699.1,408.4 L697.1,409.1 Z" stroke-width="1.8" fill="#fff"/>
<ellipse cx="672.9" cy="384.2" rx="16.4" ry="29.0" transform="rotate(-11 672.9 384.25)" stroke-width="1.8"/>
<path d="M677.3,368.8 L677.2,369.9 L677.1,371.0 L677.0,372.1 L677.0,373.2 L677.0,374.4 L677.0,375.5 L677.1,376.7 L677.2,377.9 L677.3,379.1 L677.4,380.3 L677.6,381.4 L677.8,382.6 L678.0,383.8 L678.3,385.0 L678.6,386.1 L678.9,387.3 L679.2,388.4 L679.6,389.6 L679.9,390.7 L680.4,391.8 L680.8,392.8 L681.2,393.9 L681.7,394.9 L682.2,395.9 L682.7,396.8 L683.2,397.7 L683.7,398.6 L684.3,399.5 L684.9,400.3 L685.4,401.1 L686.0,401.8 L686.6,402.5 L687.3,403.2" stroke-width="1.6"/>
<path d="M659.0,368.6 L659.4,367.2 L659.8,365.9 L660.3,364.7 L660.9,363.5 L661.5,362.5 L662.2,361.5 L662.9,360.6 L663.6,359.9 L664.4,359.2 L665.3,358.7 L666.1,358.3 L667.0,357.9 L667.9,357.7 L668.9,357.6 L669.8,357.6 L670.8,357.8 L671.8,358.0 L672.8,358.4 L673.7,358.8 L674.7,359.4 L675.7,360.1 L676.6,360.9 L677.6,361.7 L678.5,362.7" stroke-width="2.0"/>
<path d="M657.2,373.2 L677.3,368.8" stroke-width="1.6"/>
<path d="M689.1,394.2 L697.8,391.6 L698.2,393.2 L699.1,390.8 L700.4,390.4 L700.6,388.6 L701.4,390.0 L708.5,387.7" stroke-width="1.6"/>
<path d="M89.9,446.0 L87.8,446.1 L85.6,445.8 L83.4,444.9 L81.2,443.6 L79.0,441.9 L76.9,439.7 L75.0,437.1 L73.2,434.2 L71.6,431.0 L70.3,427.5 L69.1,423.9 L68.3,420.1 L67.7,416.3 L67.3,412.5 L67.3,408.8 L67.6,405.2 L68.1,401.8 L69.0,398.7 L70.1,395.9 L71.4,393.5 L73.0,391.4 L74.7,389.8 L76.6,388.7 L78.7,388.0 L94.8,384.9 L96.9,384.8 L99.1,385.1 L101.3,385.9 L103.5,387.2 L105.7,389.0 L107.8,391.2 L109.7,393.8 L111.5,396.7 L113.1,399.9 L114.4,403.4 L115.6,407.0 L116.4,410.8 L117.0,414.6 L117.4,418.4 L117.4,422.1 L117.1,425.6 L116.6,429.0 L115.7,432.1 L114.6,434.9 L113.3,437.4 L111.7,439.4 L110.0,441.0 L108.1,442.2 L106.0,442.8 Z" stroke-width="1.8" fill="#fff"/>
<ellipse cx="84.3" cy="417.0" rx="16.3" ry="29.5" transform="rotate(-11 84.3 417)" stroke-width="1.8"/>
<path d="M86.1,401.8 L86.0,402.9 L85.9,404.0 L85.9,405.1 L85.8,406.3 L85.8,407.5 L85.9,408.6 L85.9,409.8 L86.0,411.0 L86.2,412.2 L86.3,413.4 L86.5,414.6 L86.7,415.9 L86.9,417.1 L87.2,418.2 L87.5,419.4 L87.8,420.6 L88.1,421.8 L88.5,422.9 L88.9,424.0 L89.3,425.2 L89.7,426.2 L90.1,427.3 L90.6,428.3 L91.1,429.3 L91.6,430.3 L92.1,431.3 L92.7,432.2 L93.2,433.0 L93.8,433.9 L94.4,434.7 L95.0,435.4 L95.6,436.1 L96.2,436.8 L96.8,437.4 L97.5,438.0 L98.1,438.5" stroke-width="1.6"/>
<path d="M70.3,401.0 L70.7,399.6 L71.2,398.3 L71.7,397.0 L72.2,395.9 L72.8,394.8 L73.5,393.8 L74.2,392.9 L75.0,392.2 L75.7,391.5 L76.6,391.0 L77.4,390.5 L78.3,390.2 L79.2,390.0 L80.2,389.9 L81.1,389.9 L82.1,390.0 L83.1,390.3 L84.1,390.6 L85.0,391.1 L86.0,391.7 L87.0,392.4 L87.9,393.2 L88.9,394.1 L89.8,395.1" stroke-width="2.0"/>
<path d="M68.6,405.8 L86.1,401.8" stroke-width="1.6"/>
<path d="M99.8,431.2 L107.3,429.8 L107.7,431.4 L108.6,429.0 L109.9,428.6 L110.1,426.8 L110.9,428.2 L116.9,427.2" stroke-width="1.6"/>
<path d="M100.6,416.5 L101.4,430.5" stroke-width="2.6"/>
<path d="M67.0,942.4 L64.6,942.5 L62.2,942.2 L59.8,941.3 L57.4,939.8 L55.0,937.9 L52.7,935.5 L50.6,932.6 L48.6,929.4 L46.9,925.8 L45.3,922.0 L44.1,918.0 L43.1,913.8 L42.4,909.6 L42.0,905.4 L41.9,901.3 L42.2,897.3 L42.7,893.6 L43.6,890.1 L44.8,887.0 L46.2,884.3 L47.9,882.0 L49.7,880.2 L51.8,879.0 L54.0,878.2 L74.1,874.2 L76.5,874.0 L78.9,874.4 L81.3,875.3 L83.7,876.7 L86.1,878.7 L88.4,881.1 L90.5,883.9 L92.5,887.2 L94.2,890.7 L95.8,894.6 L97.0,898.6 L98.0,902.7 L98.7,906.9 L99.1,911.1 L99.2,915.3 L98.9,919.2 L98.4,923.0 L97.5,926.4 L96.3,929.5 L94.9,932.3 L93.2,934.5 L91.4,936.3 L89.3,937.6 L87.1,938.3 Z" stroke-width="1.8" fill="#fff"/>
<ellipse cx="60.5" cy="910.3" rx="17.8" ry="32.7" transform="rotate(-11.4 60.5 910.3)" stroke-width="1.8"/>
<path d="M64.7,892.9 L64.6,894.1 L64.5,895.3 L64.4,896.6 L64.4,897.9 L64.4,899.2 L64.5,900.5 L64.6,901.8 L64.7,903.2 L64.8,904.5 L65.0,905.8 L65.2,907.2 L65.5,908.5 L65.7,909.9 L66.0,911.2 L66.4,912.5 L66.7,913.8 L67.1,915.1 L67.5,916.4 L67.9,917.7 L68.4,918.9 L68.9,920.1 L69.4,921.3 L69.9,922.4 L70.5,923.6 L71.0,924.7 L71.6,925.7 L72.2,926.7 L72.9,927.7 L73.5,928.6 L74.2,929.5 L74.8,930.3 L75.5,931.1 L76.2,931.9" stroke-width="1.6"/>
<path d="M44.9,892.5 L45.4,890.9 L45.8,889.4 L46.4,888.1 L47.0,886.8 L47.6,885.6 L48.4,884.5 L49.1,883.5 L49.9,882.6 L50.8,881.9 L51.7,881.3 L52.7,880.8 L53.6,880.4 L54.6,880.2 L55.7,880.1 L56.7,880.1 L57.8,880.2 L58.9,880.5 L59.9,880.9 L61.0,881.4 L62.1,882.1 L63.2,882.8 L64.3,883.7 L65.3,884.7 L66.3,885.8" stroke-width="2.0"/>
<path d="M43.3,897.9 L64.7,892.9" stroke-width="1.6"/>
<path d="M44.7,897.2 L44.8,896.3 L45.0,895.3 L45.1,894.4 L45.3,893.5 L45.5,892.6 L45.7,891.8 L45.9,890.9 L46.2,890.1 L46.5,889.4 L46.8,888.6 L47.1,887.9 L47.4,887.2 L47.7,886.5 L48.1,885.9 L48.5,885.3 L48.9,884.7 L49.3,884.2 L49.7,883.7 L50.2,883.3 L50.6,882.8 L51.1,882.4 L51.5,882.1 L52.0,881.8 L52.5,881.5" stroke-width="3.2"/>
<path d="M49.1,894.3 L52.3,883.3" stroke-width="2.6"/>
<path d="M55.2,893.0 L57.3,880.9" stroke-width="1.6"/>
<path d="M80.7,924.4 L88.8,922.8 L89.2,924.4 L90.1,922.0 L91.4,921.6 L91.6,919.8 L92.4,921.2 L98.9,919.9" stroke-width="1.6"/>
<path d="M159.1,917.5 L156.9,917.6 L154.7,917.1 L152.5,916.0 L150.3,914.5 L148.1,912.4 L146.1,909.9 L144.2,906.9 L142.5,903.6 L141.0,900.0 L139.7,896.1 L138.7,892.0 L137.9,887.9 L137.4,883.6 L137.2,879.4 L137.3,875.4 L137.7,871.5 L138.4,867.8 L139.3,864.4 L140.5,861.4 L141.9,858.8 L143.6,856.6 L145.4,855.0 L147.4,853.9 L149.5,853.3 L167.1,850.6 L169.3,850.6 L171.5,851.1 L173.7,852.1 L175.9,853.7 L178.1,855.8 L180.1,858.3 L182.0,861.3 L183.7,864.6 L185.2,868.2 L186.5,872.1 L187.5,876.1 L188.3,880.3 L188.8,884.5 L189.0,888.7 L188.9,892.8 L188.5,896.7 L187.8,900.4 L186.9,903.8 L185.7,906.8 L184.3,909.4 L182.6,911.5 L180.8,913.2 L178.8,914.3 L176.7,914.9 Z" stroke-width="1.8" fill="#fff"/>
<ellipse cx="154.3" cy="885.4" rx="16.6" ry="32.5" transform="rotate(-8.5 154.3 885.4)" stroke-width="1.8"/>
<path d="M157.7,868.6 L157.6,869.8 L157.4,871.0 L157.3,872.2 L157.3,873.5 L157.3,874.8 L157.3,876.1 L157.3,877.4 L157.3,878.7 L157.4,880.1 L157.5,881.4 L157.7,882.8 L157.9,884.1 L158.1,885.5 L158.3,886.8 L158.5,888.1 L158.8,889.4 L159.1,890.7 L159.5,892.0 L159.8,893.3 L160.2,894.6 L160.6,895.8 L161.0,897.0 L161.5,898.2 L161.9,899.3 L162.4,900.4 L162.9,901.5 L163.5,902.5 L164.0,903.5 L164.6,904.5 L165.1,905.4 L165.7,906.3 L166.3,907.1 L166.9,907.9 L167.5,908.6" stroke-width="1.6"/>
<path d="M140.6,866.8 L141.0,865.3 L141.5,863.9 L142.1,862.5 L142.7,861.3 L143.3,860.1 L144.0,859.1 L144.8,858.2 L145.6,857.4 L146.4,856.7 L147.2,856.1 L148.1,855.7 L149.0,855.4 L150.0,855.2 L150.9,855.2 L151.9,855.2 L152.9,855.4 L153.9,855.8 L154.9,856.2 L155.9,856.8 L156.8,857.5 L157.8,858.4 L158.8,859.3 L159.7,860.4 L160.6,861.5" stroke-width="2.0"/>
<path d="M138.5,873.1 L157.7,868.6" stroke-width="1.6"/>
<path d="M140.2,871.5 L140.4,870.5 L140.5,869.6 L140.7,868.7 L140.9,867.8 L141.1,867.0 L141.3,866.1 L141.6,865.3 L141.8,864.6 L142.1,863.8 L142.4,863.1 L142.7,862.4 L143.1,861.7 L143.4,861.1 L143.8,860.5 L144.1,859.9 L144.5,859.4 L144.9,858.9 L145.3,858.4 L145.7,858.0 L146.2,857.6 L146.6,857.2 L147.1,856.9 L147.5,856.6 L148.0,856.4" stroke-width="3.2"/>
<path d="M144.3,868.8 L147.7,858.1" stroke-width="2.6"/>
<path d="M150.0,868.0 L152.4,856.1" stroke-width="1.6"/>
<path d="M172.9,899.4 L179.7,899.0 L180.1,900.6 L181.0,898.2 L182.3,897.8 L182.5,896.0 L183.3,897.4 L188.4,897.4" stroke-width="1.6"/>
<path d="M251.6,894.8 L249.4,894.9 L247.1,894.5 L244.7,893.6 L242.4,892.2 L240.2,890.3 L238.0,887.9 L236.0,885.1 L234.1,882.0 L232.5,878.5 L231.1,874.8 L229.9,870.9 L229.0,866.8 L228.4,862.8 L228.0,858.7 L228.0,854.7 L228.3,850.9 L228.9,847.3 L229.8,844.0 L230.9,841.0 L232.4,838.4 L234.0,836.2 L235.8,834.5 L237.8,833.3 L240.0,832.6 L257.1,829.4 L259.3,829.3 L261.6,829.7 L264.0,830.6 L266.3,832.0 L268.5,833.9 L270.7,836.3 L272.7,839.1 L274.6,842.2 L276.2,845.7 L277.6,849.4 L278.8,853.3 L279.7,857.4 L280.3,861.4 L280.7,865.5 L280.7,869.5 L280.4,873.3 L279.8,876.9 L278.9,880.2 L277.8,883.2 L276.3,885.8 L274.7,888.0 L272.9,889.7 L270.9,890.9 L268.7,891.6 Z" stroke-width="1.8" fill="#fff"/>
<ellipse cx="245.8" cy="863.7" rx="17.1" ry="31.6" transform="rotate(-10.6 245.8 863.7)" stroke-width="1.8"/>
<path d="M247.8,847.4 L247.7,848.5 L247.6,849.7 L247.6,851.0 L247.5,852.2 L247.5,853.4 L247.6,854.7 L247.6,856.0 L247.7,857.3 L247.9,858.6 L248.0,859.9 L248.2,861.2 L248.4,862.5 L248.6,863.8 L248.9,865.1 L249.2,866.3 L249.5,867.6 L249.9,868.9 L250.3,870.1 L250.7,871.3 L251.1,872.5 L251.5,873.7 L252.0,874.8 L252.5,876.0 L253.0,877.0 L253.6,878.1 L254.1,879.1 L254.7,880.1 L255.3,881.0 L255.9,881.9 L256.5,882.8 L257.1,883.6 L257.7,884.4 L258.4,885.1 L259.0,885.8 L259.7,886.4" stroke-width="1.6"/>
<path d="M231.1,846.3 L231.5,844.8 L232.0,843.4 L232.5,842.1 L233.1,840.8 L233.8,839.7 L234.5,838.6 L235.2,837.7 L236.0,836.9 L236.9,836.2 L237.7,835.6 L238.6,835.1 L239.6,834.8 L240.5,834.6 L241.5,834.5 L242.5,834.5 L243.6,834.7 L244.6,834.9 L245.6,835.3 L246.7,835.9 L247.7,836.5 L248.7,837.3 L249.7,838.1 L250.7,839.1 L251.7,840.2" stroke-width="2.0"/>
<path d="M229.4,851.7 L247.8,847.4" stroke-width="1.6"/>
<path d="M230.9,850.9 L231.0,849.9 L231.1,849.0 L231.3,848.1 L231.5,847.3 L231.7,846.4 L231.9,845.6 L232.1,844.8 L232.4,844.1 L232.6,843.3 L232.9,842.6 L233.2,841.9 L233.6,841.2 L233.9,840.6 L234.2,840.0 L234.6,839.4 L235.0,838.9 L235.4,838.4 L235.8,837.9 L236.2,837.5 L236.7,837.1 L237.1,836.7 L237.6,836.4 L238.0,836.1 L238.5,835.8" stroke-width="3.2"/>
<path d="M235.0,848.0 L238.3,837.5" stroke-width="2.6"/>
<path d="M240.9,846.9 L243.1,835.3" stroke-width="1.6"/>
<path d="M265.2,877.3 L271.7,876.2 L272.1,877.8 L273.0,875.4 L274.3,875.0 L274.5,873.2 L275.3,874.6 L280.3,874.0" stroke-width="1.6"/>
<path d="M332.1,874.2 L329.8,874.3 L327.4,873.9 L325.0,873.0 L322.6,871.6 L320.3,869.6 L318.1,867.2 L316.0,864.4 L314.1,861.2 L312.4,857.7 L310.9,853.9 L309.7,850.0 L308.8,845.9 L308.2,841.7 L307.8,837.6 L307.8,833.5 L308.2,829.6 L308.8,826.0 L309.7,822.6 L310.9,819.6 L312.4,816.9 L314.1,814.7 L316.0,813.0 L318.1,811.7 L320.3,811.0 L339.7,807.4 L342.0,807.3 L344.4,807.7 L346.8,808.6 L349.2,810.0 L351.5,812.0 L353.7,814.4 L355.8,817.2 L357.7,820.4 L359.4,823.9 L360.9,827.7 L362.1,831.6 L363.0,835.7 L363.6,839.9 L363.9,844.0 L363.9,848.0 L363.6,851.9 L363.0,855.6 L362.1,859.0 L360.9,862.0 L359.4,864.7 L357.7,866.9 L355.8,868.6 L353.7,869.8 L351.5,870.5 Z" stroke-width="1.8" fill="#fff"/>
<ellipse cx="326.2" cy="842.6" rx="17.7" ry="32.1" transform="rotate(-10.6 326.2 842.6)" stroke-width="1.8"/>
<path d="M329.9,825.7 L329.8,826.9 L329.7,828.1 L329.6,829.3 L329.6,830.6 L329.6,831.9 L329.6,833.2 L329.7,834.5 L329.8,835.8 L329.9,837.1 L330.1,838.4 L330.2,839.7 L330.5,841.1 L330.7,842.4 L331.0,843.7 L331.3,845.0 L331.6,846.3 L332.0,847.5 L332.4,848.8 L332.8,850.0 L333.2,851.3 L333.7,852.4 L334.2,853.6 L334.7,854.8 L335.2,855.9 L335.7,856.9 L336.3,858.0 L336.9,859.0 L337.5,859.9 L338.1,860.8 L338.8,861.7 L339.4,862.5 L340.1,863.3 L340.8,864.1 L341.4,864.7" stroke-width="1.6"/>
<path d="M311.0,825.0 L311.4,823.4 L311.9,822.0 L312.5,820.6 L313.1,819.4 L313.8,818.2 L314.5,817.1 L315.3,816.2 L316.2,815.4 L317.0,814.6 L317.9,814.0 L318.9,813.6 L319.9,813.2 L320.9,813.0 L321.9,812.9 L322.9,812.9 L324.0,813.1 L325.1,813.3 L326.1,813.7 L327.2,814.3 L328.3,814.9 L329.3,815.7 L330.4,816.6 L331.4,817.6 L332.4,818.7" stroke-width="2.0"/>
<path d="M309.2,830.4 L329.9,825.7" stroke-width="1.6"/>
<path d="M310.7,829.6 L310.8,828.7 L311.0,827.7 L311.2,826.8 L311.4,826.0 L311.6,825.1 L311.8,824.3 L312.0,823.5 L312.3,822.7 L312.6,821.9 L312.9,821.2 L313.2,820.5 L313.5,819.8 L313.9,819.2 L314.3,818.5 L314.7,818.0 L315.1,817.4 L315.5,816.9 L315.9,816.4 L316.4,816.0 L316.8,815.6 L317.3,815.2 L317.8,814.8 L318.3,814.5 L318.8,814.3" stroke-width="3.2"/>
<path d="M315.1,826.7 L318.5,816.0" stroke-width="2.6"/>
<path d="M321.2,825.6 L323.5,813.7" stroke-width="1.6"/>
<path d="M346.2,856.4 L353.9,855.1 L354.3,856.7 L355.2,854.3 L356.5,853.9 L356.7,852.1 L357.5,853.5 L363.5,852.6" stroke-width="1.6"/>
<path d="M124.7,122.8 L125.1,120.6 L126.1,118.5 L127.8,116.4 L130.2,114.5 L133.2,112.7 L136.8,111.1 L140.9,109.6 L145.3,108.4 L150.2,107.5 L155.3,106.8 L160.6,106.3 L166.0,106.2 L171.4,106.3 L176.7,106.8 L181.8,107.5 L186.7,108.4 L191.1,109.6 L195.2,111.1 L198.8,112.7 L201.8,114.5 L204.2,116.4 L205.9,118.5 L206.9,120.6 L207.3,122.8"/>
<path d="M207.3,122.8 L206.9,125.0 L205.9,127.1 L204.2,129.2 L201.8,131.1 L198.8,132.9 L195.2,134.5 L191.1,136.0 L186.7,137.2 L181.8,138.1 L176.7,138.8 L171.4,139.3 L166.0,139.4 L160.6,139.3 L155.3,138.8 L150.2,138.1 L145.4,137.2 L140.9,136.0 L136.8,134.5 L133.2,132.9 L130.2,131.1 L127.8,129.2 L126.1,127.1 L125.1,125.0 L124.7,122.8"/>
<path d="M207.1,133.9 L206.2,135.9 L204.8,137.9 L202.8,139.7 L200.2,141.5 L197.2,143.1 L193.6,144.5 L189.7,145.8 L185.4,146.9 L180.8,147.7 L176.0,148.3 L171.0,148.7 L166.0,148.8 L161.0,148.7 L156.0,148.3 L151.2,147.7 L146.6,146.9 L142.3,145.8 L138.4,144.5 L134.8,143.1 L131.8,141.5 L129.2,139.7 L127.2,137.9 L125.8,135.9 L124.9,133.9" stroke-width="1.8"/>
<path d="M207.1,138.9 L206.2,140.9 L204.8,142.9 L202.8,144.7 L200.2,146.5 L197.2,148.1 L193.6,149.5 L189.7,150.8 L185.4,151.9 L180.8,152.7 L176.0,153.3 L171.0,153.7 L166.0,153.8 L161.0,153.7 L156.0,153.3 L151.2,152.7 L146.6,151.9 L142.3,150.8 L138.4,149.5 L134.8,148.1 L131.8,146.5 L129.2,144.7 L127.2,142.9 L125.8,140.9 L124.9,138.9" stroke-width="1.7"/>
<path d="M207.1,145.1 L206.2,147.1 L204.8,149.1 L202.8,150.9 L200.2,152.7 L197.2,154.3 L193.6,155.7 L189.7,157.0 L185.4,158.1 L180.8,158.9 L176.0,159.5 L171.0,159.9 L166.0,160.0 L161.0,159.9 L156.0,159.5 L151.2,158.9 L146.6,158.1 L142.3,157.0 L138.4,155.7 L134.8,154.3 L131.8,152.7 L129.2,150.9 L127.2,149.1 L125.8,147.1 L124.9,145.1" stroke-width="1.8"/>
<path d="M205.9,154.5 L204.7,156.3 L203.0,158.0 L200.8,159.7 L198.2,161.2 L195.1,162.6 L191.7,163.9 L187.9,165.0 L183.9,165.9 L179.6,166.6 L175.2,167.2 L170.6,167.5 L166.0,167.6 L161.4,167.5 L156.8,167.2 L152.4,166.6 L148.1,165.9 L144.1,165.0 L140.3,163.9 L136.9,162.6 L133.8,161.2 L131.2,159.7 L129.0,158.0 L127.3,156.3 L126.1,154.5" stroke-width="1.7"/>
<path d="M125.6,141 L125.6,155.5" stroke-width="3.6"/>
<path d="M206.8,137.5 L206.8,157.5" stroke-width="3.6"/>
<path d="M127,145 Q131,149 137,151.5" stroke-width="2.4"/>
<path d="M205,143 Q201,147 195,150" stroke-width="2.2"/>
<path d="M127.5,151 Q133,156 140,158.5" stroke-width="1.5"/>
<path d="M124.7,122 L124.7,170"/>
<path d="M207.4,122 L207.4,180"/>
<path d="M123,170 L155,188.8 Q159,194 163.8,195 Q172,195.5 182.5,193.8 Q199,189 207.4,179.5"/>
<path d="M132,161.5 L131.4,171.8" stroke-width="1.7"/>
<path d="M141.5,162.5 Q143.9,168 143.3,175 Q141,178.2 136.8,177" stroke-width="1.9"/>
<path d="M146.5,167 L146,183 Q147,186.5 151,188 L162,189.5 Q167.3,189 167.5,183 L167.3,171 Q166.5,167.5 163.5,167.5 Z" stroke-width="1.8"/>
<path d="M148.6,170 L148.4,183.5 L153.5,187.8" stroke-width="1.3"/>
<path d="M159,110.5 Q165,108.5 172.5,110 Q167,112.5 160,112.5 Z" stroke-width="1.4" fill="#000"/>
<path d="M132.5,118.5 Q139,116.5 146,116.5 Q141,119.5 133,119.8 Z" stroke-width="1.4" fill="#000"/>
<ellipse cx="166.5" cy="122.4" rx="8.8" ry="3.8" stroke-width="1.5"/>
<path d="M180.5,128.5 Q190,124 201,121.5 Q204,122.8 201.5,126 Q192,129.6 183,130.3 Q179.5,129.8 180.5,128.5 Z" stroke-width="1.5"/>
<path d="M148.5,137.5 Q158,133 170,130.8 Q173.5,131.2 172,134 Q165,137.5 152,139 Z" stroke-width="1.5"/>
<path d="M226.5,138.4 L258.4,130.6 Q262.8,134.5 262.8,139 Q262.6,143.5 259.9,145.3 L227.5,153.6"/>
<ellipse cx="228.6" cy="145.9" rx="5.0" ry="7.9" transform="rotate(-14 228.6 145.9)" stroke-width="1.9"/>
<ellipse cx="228.3" cy="146.4" rx="2.9" ry="5.4" transform="rotate(-14 228.3 146.4)" stroke-width="1.5"/>
<path d="M115.5,176.0 L115.7,177.6 L115.8,179.1 L115.7,180.7 L115.5,182.1 L115.0,183.4 L114.5,184.6 L113.8,185.6 L113.0,186.4 L112.1,186.9 L111.1,187.3 L110.1,187.4 L109.0,187.2 L107.9,186.8 L106.9,186.2 L105.9,185.4 L105.0,184.3 L104.2,183.1 L103.5,181.8 L103.0,180.3 L102.5,178.8 L102.3,177.2 L102.2,175.7 L102.3,174.1 L102.5,172.7 L103.0,171.4 L103.5,170.2 L104.2,169.2 L105.0,168.4 L105.9,167.9 L106.9,167.5 L107.9,167.4 L109.0,167.6 L110.1,168.0 L111.1,168.6 L112.1,169.4 L113.0,170.5 L113.8,171.7 L114.5,173.0 L115.0,174.5 L115.5,176.0 Z M110.6,177.9 L110.8,179.0 L110.9,180.1 L110.9,181.1 L110.7,182.0 L110.4,182.7 L110.1,183.3 L109.7,183.6 L109.2,183.7 L108.6,183.6 L108.1,183.2 L107.6,182.7 L107.1,181.9 L106.6,181.0 L106.2,180.0 L106.0,178.9 L105.8,177.8 L105.7,176.7 L105.7,175.7 L105.9,174.8 L106.2,174.1 L106.5,173.5 L106.9,173.2 L107.4,173.1 L108.0,173.2 L108.5,173.6 L109.0,174.1 L109.5,174.9 L110.0,175.8 L110.4,176.8 L110.6,177.9 Z" stroke-width="0.6" fill="#000"/>
<path d="M104.8,171 L107.2,167.8 L107.8,172.4 Z" fill="#fff" stroke="none"/>
<path d="M156.6,288.0 C156.3,287.2 155.7,285.0 155.0,283.0 C154.3,281.0 152.8,278.5 152.4,276.0 C152.0,273.5 152.0,270.2 152.6,268.0 C153.2,265.8 154.4,264.1 156.0,262.8 C157.6,261.5 159.9,260.8 162.0,260.4 C164.1,259.9 166.1,259.8 168.3,260.1 C170.5,260.4 173.1,260.9 175.0,262.0 C176.9,263.1 178.6,265.0 179.5,267.0 C180.4,269.0 180.7,271.7 180.6,274.0 C180.5,276.3 179.6,279.2 179.0,281.0 C178.4,282.8 177.4,283.6 176.8,285.0 C176.2,286.4 175.8,288.8 175.6,289.5" stroke-width="1.9"/>
<ellipse cx="160.6" cy="272.2" rx="6.6" ry="10.4" transform="rotate(-15 160.6 272.2)" stroke-width="1.7"/>
<path d="M159.1,262.0 L159.7,262.1 L160.5,262.2 L161.2,262.5 L161.9,262.9 L162.5,263.3 L163.2,263.9 L163.8,264.5 L164.4,265.3 L165.0,266.0 L165.5,266.9 L166.0,267.8 L166.4,268.8 L166.8,269.8 L167.1,270.8 L167.3,271.8 L167.4,272.9 L167.5,273.9 L167.5,274.9 L167.5,275.9 L167.3,276.8 L167.1,277.7 L166.8,278.6 L166.5,279.3 L166.1,280.0" stroke-width="2.6"/>
<path d="M154.9,279.3 L154.5,278.7 L154.1,278.0 L153.7,277.2 L153.3,276.5 L153.0,275.7 L152.7,274.9 L152.5,274.1 L152.3,273.3 L152.1,272.5 L152.0,271.7 L151.9,270.8 L151.9,270.0 L151.9,269.2 L151.9,268.4 L152.0,267.6 L152.1,266.9 L152.3,266.2 L152.5,265.5 L152.7,264.8 L153.0,264.2 L153.3,263.6 L153.7,263.1 L154.1,262.6 L154.5,262.1" stroke-width="2.2"/>
<path d="M158.4,282.3 Q162,284.5 165.3,283.4" stroke-width="1.5"/>
<path d="M169,262.5 L172.2,268.1" stroke-width="1.6"/>
<path d="M174.8,284.3 L177.5,283.6" stroke-width="1.4"/>
<path d="M156.8,289.5 L157.2,315 L158.4,320 Q157.5,338 154.7,356.2 Q151,366 141.7,373.6 Q138,376 135.9,377.9"/>
<path d="M175.8,289.5 Q174.3,305 174.3,320 Q175,342 180.8,363.4 Q185,376 189.5,382.2 Q196,392 201.3,400"/>
<path d="M161,290 L162,320 Q163.5,345 164.9,372.1" stroke-width="1.4"/>
<path d="M166,286 L166.3,320 L167.8,349" stroke-width="2.8"/>
<path d="M170,289 L170.7,320 Q174,356 180.8,386.6" stroke-width="1.4"/>
<path d="M172.5,292 L173,320 Q176,350 183.5,383" stroke-width="1.2"/>
<path d="M158.8,292 L159.5,320 Q159,345 156.5,360 Q153,368 147,372" stroke-width="1.2"/>
<path d="M135.9,377.9 Q133.5,388 134.5,396.7 Q136,410 138.8,418.4 Q141,424 144.6,427.1 L150.4,431.5 L152.6,440.1 L163.4,445.9 L167.8,447.4 L179.3,443 L179.3,434.3 L188,435.8 L202.5,432.9 L201.8,401"/>
<ellipse cx="157.2" cy="403.5" rx="17.0" ry="27.5" transform="rotate(-14 157.2 403.5)"/>
<path d="M156.2,382.2 Q164,395 165,410 Q164.5,418 162,421.3" stroke-width="1.5"/>
<path d="M137.4,390.9 L156.2,387.3" stroke-width="1.5"/>
<path d="M186.6,418.4 L202.5,417" stroke-width="1.5"/>
<path d="M186.6,401 L187.3,435.8" stroke-width="1.5"/>
<path d="M168,430 Q175,428 180,426 L181,420" stroke-width="1.4"/>
<path d="M175.5,388 Q177,386 179.5,387 M176.5,392 L178.5,396" stroke-width="1.4"/>
<path d="M186.8,396.5 Q189,394 192,395.5 Q193,398 190,399.5" stroke-width="1.5"/>
<path d="M167.8,447.4 L167,436 L179.3,434.3" stroke-width="1.4"/>
<path d="M150.4,431.5 L156,430 L164,436 L167,436" stroke-width="1.4"/>
<path d="M178.5,409 Q183,412 182.5,422" stroke-width="1.4"/>
<path d="M120,273.9 L136.5,270.3 Q141.5,271.2 142.8,279.5 Q142.4,286.5 137.5,288.6 L125,292.2" fill="#fff"/>
<ellipse cx="122.4" cy="283.0" rx="5.0" ry="9.3" transform="rotate(-14 122.4 283.0)" stroke-width="1.9" fill="#fff"/>
<ellipse cx="122.1" cy="283.5" rx="3.2" ry="5.7" transform="rotate(-14 122.1 283.5)" stroke-width="1.7"/>
<path d="M121.1,275.0 L121.6,275.1 L122.1,275.3 L122.6,275.6 L123.1,276.0 L123.6,276.5 L124.1,277.1 L124.6,277.8 L125.0,278.6 L125.4,279.4 L125.7,280.2 L126.0,281.1 L126.3,282.0 L126.5,283.0 L126.6,283.9 L126.7,284.8 L126.8,285.7 L126.7,286.6 L126.6,287.4 L126.5,288.1 L126.3,288.8 L126.1,289.4 L125.8,289.9 L125.4,290.3 L125.0,290.7" stroke-width="2.4"/>
<path d="M118.1,281.2 L118.1,280.8 L118.0,280.5 L118.0,280.2 L118.0,279.9 L118.1,279.5 L118.1,279.2 L118.1,278.9 L118.2,278.6 L118.2,278.3 L118.3,278.1 L118.3,277.8 L118.4,277.5 L118.5,277.3 L118.5,277.0 L118.6,276.8 L118.7,276.6 L118.8,276.4 L119.0,276.2 L119.1,276.0 L119.2,275.9 L119.3,275.7 L119.5,275.6 L119.6,275.4 L119.8,275.3" stroke-width="2.4"/>
<path d="M187.6,449.8 L196.9,449.8 L197.5,451.5 L197.5,464.4 L187.6,464.4 Z" stroke-width="2.2" fill="#fff"/>
<path d="M189.2,452 L195.5,452 M188.6,457.5 L196.2,457.5 M188.6,460.8 L196.2,460.8" stroke-width="1.8"/>
<path d="M188.9,464.4 L188.9,483.5 M195.5,464.4 L195.5,483.5" stroke-width="2.0"/>
<path d="M185.2,482.5 L198.6,482.5 L201,487.5 L200.8,496.5 L198,500.5 L185.6,500.6 L182.6,497 L182.4,487.5 Z" stroke-width="1.2" fill="#000"/>
<path d="M186.5,485.8 L196.8,485.8 M187.5,489.2 L194.5,490.5 M197.5,490 L199,487.8 M192,494 L192,497.5" stroke="#fff" stroke-width="1.3" fill="none"/>
<ellipse cx="307.4" cy="675.0" rx="6.9" ry="11.8" transform="rotate(-12 307.4 675)"/>
<ellipse cx="307.1" cy="674.6" rx="4.4" ry="7.6" transform="rotate(-12 307.1 674.6)" stroke-width="1.5"/>
<path d="M304.5,663.2 L333.4,657.9"/>
<path d="M308.4,686.2 L342.6,679.0"/>
<path d="M313,663.6 L321.8,661.2 L322.4,662.8 L313.8,665 Z" stroke-width="1.3"/>
<path d="M325.5,661.5 L333.4,658.5 L332,661.8 Z" stroke-width="1.3" fill="#000"/>
<path d="M332.1,655.3 C332.5,654.5 333.4,651.6 334.7,650.7 C336.0,649.8 338.2,649.4 340.0,649.7 C341.8,650.0 343.9,650.6 345.3,652.6 C346.7,654.6 348.1,658.7 348.6,661.8 C349.2,664.9 349.2,668.1 348.6,671.0 C348.1,673.9 346.3,677.2 345.3,679.0 C344.3,680.8 343.1,681.2 342.6,681.6"/>
<path d="M341.3,647.4 C342.2,647.0 344.6,645.0 346.6,644.7 C348.6,644.4 351.0,644.5 353.2,645.4 C355.4,646.3 358.1,647.7 359.7,650.0 C361.3,652.3 362.3,656.1 363.0,659.2 C363.7,662.3 363.8,665.5 363.7,668.4 C363.6,671.2 363.1,674.1 362.4,676.3 C361.7,678.5 361.5,680.3 359.7,681.6 C357.9,682.9 354.1,683.9 351.8,684.2 C349.5,684.5 347.0,683.6 346.0,683.5"/>
<path d="M344,652 L349.2,656.6" stroke-width="2"/>
<path d="M347.9,643.4 C348.5,642.8 349.6,640.3 351.8,639.5 C354.0,638.7 358.1,638.4 361.0,638.8 C363.9,639.2 366.5,640.2 368.9,642.1 C371.3,644.0 373.7,647.1 375.5,650.0 C377.3,652.9 378.6,656.1 379.5,659.2 C380.4,662.3 380.8,665.1 380.8,668.4 C380.8,671.7 380.6,676.1 379.5,679.0 C378.4,681.9 376.8,684.2 374.2,685.5 C371.6,686.8 366.9,686.8 363.7,686.8 C360.5,686.8 356.4,685.7 355.0,685.5"/>
<path d="M367.6,631.6 L374.2,635.5" stroke-width="1.8"/>
<path d="M350.5,636.8 C351.2,636.1 352.5,634.3 354.5,632.9 C356.5,631.5 359.5,629.4 362.4,628.3 C365.2,627.2 368.3,626.5 371.6,626.3 C374.9,626.1 378.6,625.8 382.1,627.0 C385.7,628.2 389.6,630.0 392.9,633.7 C396.2,637.5 400.1,645.1 402.1,649.5 C404.1,653.9 404.0,656.3 404.7,660.0 C405.4,663.7 406.0,668.1 406.3,671.6 C406.6,675.1 406.8,678.4 406.3,681.0 C405.8,683.6 404.8,685.1 403.2,687.4 C401.6,689.6 399.4,693.3 396.8,694.5 C394.2,695.7 391.1,695.4 387.4,694.5 C383.7,693.6 378.9,690.5 374.7,689.0 C370.5,687.5 364.2,686.3 362.1,685.8"/>
<path d="M384.7,661.0 C384.8,662.0 385.4,664.6 385.0,667.1 C384.6,669.6 383.5,673.4 382.1,676.3 C380.7,679.1 379.0,682.3 376.8,684.2 C374.6,686.1 370.3,687.0 369.0,687.5"/>
<path d="M366,661.8 L376.2,659.2 L376.8,671.7 L367,674.3 Z" stroke-width="1.5"/>
<path d="M366.5,662 L367.2,674" stroke-width="3"/>
<path d="M359.7,628.3 C359.9,626.9 360.0,622.3 361.0,619.7 C362.0,617.1 363.9,614.7 365.7,612.5 C367.5,610.3 369.7,608.3 371.6,606.6 C373.5,604.9 376.2,602.9 377.1,602.1"/>
<path d="M377.1,602.1 C378.6,600.6 383.0,595.2 386.3,592.9 C389.6,590.6 393.3,589.5 396.8,588.3 C400.3,587.1 403.0,586.9 407.4,585.7 C411.8,584.5 419.7,582.4 423.2,581.0 C426.7,579.6 425.8,578.3 428.4,577.1 C431.0,575.9 435.5,573.9 439.0,573.8 C442.5,573.7 445.6,574.0 449.5,576.3 C453.4,578.6 458.4,582.9 462.1,587.4 C465.8,591.9 469.0,600.3 471.6,603.2 C474.2,606.1 476.8,604.5 477.9,604.7"/>
<path d="M366.6,612.6 C368.4,612.6 373.2,611.5 377.1,612.6 C381.1,613.7 386.6,616.4 390.3,619.2 C394.0,622.1 396.9,626.4 399.5,629.7 C402.1,633.0 404.9,637.5 406.0,639.0"/>
<path d="M396.8,589.0 C398.3,590.3 403.7,592.9 406.0,596.8 C408.3,600.7 410.1,607.3 410.7,612.6 C411.2,617.9 410.0,624.0 409.3,628.4 C408.6,632.8 407.0,633.7 406.7,639.0 C406.4,644.3 407.2,653.0 407.4,660.0 C407.6,667.0 407.5,677.2 407.9,681.0 C408.2,684.8 407.6,680.5 409.5,682.6 C411.4,684.7 417.2,689.8 419.0,693.7 C420.8,697.7 420.2,704.2 420.5,706.3"/>
<path d="M407.4,587.6 C408.7,588.7 412.9,590.5 415.3,594.2 C417.7,597.9 420.3,605.4 421.8,610.0 C423.3,614.6 423.9,616.8 424.5,621.8 C425.1,626.8 425.0,633.6 425.1,640.0 C425.2,646.4 425.3,654.5 425.1,660.0 C424.9,665.5 423.9,671.0 423.7,673.2"/>
<path d="M423.7,673.2 L434.7,685.8 L436.3,703.2 L431.6,704.7 L420.5,707.9 L407.9,722.1"/>
<path d="M434.7,704.7 L425.3,715.8 L407.9,722.5"/>
<path d="M414,619 L416.5,623.3 L424.5,622" stroke-width="1.4"/>
<path d="M423.7,690.5 L434,687.4 L433,689.5 L424,692 Z" stroke-width="1.2" fill="#000"/>
<path d="M349.0,678.0 C349.3,678.8 349.3,679.7 351.0,682.6 C352.7,685.5 355.6,690.8 359.0,695.3 C362.4,699.8 367.4,705.5 371.6,709.5 C375.8,713.5 380.2,716.8 384.2,719.0 C388.1,721.2 391.4,722.4 395.3,722.9 C399.2,723.4 403.7,724.6 407.9,722.1 C412.1,719.6 418.4,710.3 420.5,707.9"/>
<path d="M431.6,714.2 C434.8,713.4 445.8,711.3 450.5,709.5 C455.2,707.7 458.4,704.2 460.0,703.2"/>
<path d="M423.2,581.0 C424.5,582.1 428.8,584.5 431.0,587.6 C433.2,590.7 435.2,594.9 436.3,599.5 C437.4,604.1 437.6,610.5 437.6,615.3 C437.6,620.1 437.2,625.1 436.3,628.4 C435.4,631.7 434.1,633.7 432.4,635.0 C430.6,636.3 426.9,636.1 425.8,636.3"/>
<path d="M428.4,579.7 C430.2,581.5 436.6,586.3 439.0,590.3 C441.4,594.2 442.2,597.0 442.9,603.4 C443.5,609.8 442.7,622.7 442.9,628.4 C443.1,634.1 442.9,635.0 444.2,637.6 C445.5,640.2 449.1,640.5 450.8,644.2 C452.6,647.9 453.1,653.7 454.7,660.0 C456.3,666.3 459.8,676.8 460.5,682.1 C461.2,687.4 460.8,687.4 459.0,691.6 C457.2,695.8 452.7,704.0 449.5,707.4 C446.3,710.8 441.6,711.3 440.0,712.1"/>
<path d="M433.7,578.4 C435.4,579.7 441.3,582.8 444.2,586.3 C447.1,589.8 449.5,594.0 450.8,599.5 C452.1,605.0 452.1,614.4 452.1,619.2 C452.1,624.0 450.4,625.8 450.8,628.4 C451.2,631.0 453.2,633.2 454.7,635.0 C456.2,636.8 458.5,636.1 460.0,639.0 C461.5,641.9 461.9,645.2 463.7,652.1 C465.5,659.0 470.3,674.5 470.8,680.5 C471.3,686.5 468.8,684.2 466.8,688.4 C464.8,692.6 460.3,702.9 459.0,705.8"/>
<path d="M441.6,575.8 C443.4,576.9 449.5,579.5 452.1,582.4 C454.7,585.2 456.0,590.0 457.4,592.9 C458.8,595.8 459.7,594.9 460.5,600.0 C461.3,605.1 462.9,618.2 462.1,623.7 C461.3,629.2 456.9,631.6 455.8,633.2"/>
<path d="M462.1,682.1 L470.8,680.5" stroke-width="1.4"/>
<path d="M451.0,574.0 C452.6,572.5 456.8,567.5 460.5,565.3 C464.2,563.0 469.0,561.0 473.2,560.5 C477.4,560.0 482.1,561.1 485.8,562.1 C489.5,563.1 492.9,565.2 495.3,566.8 C497.7,568.4 499.2,570.8 500.0,571.6"/>
<path d="M457.4,577.9 C459.8,577.1 467.1,573.6 471.6,573.2 C476.1,572.8 480.5,574.2 484.2,575.5 C487.9,576.8 491.6,579.5 493.7,581.0 C495.8,582.5 496.3,583.7 496.8,584.2"/>
<path d="M471.6,590.5 C473.4,590.2 479.2,588.5 482.6,589.0 C486.0,589.5 489.2,591.9 492.1,593.7 C495.0,595.5 498.7,599.0 500.0,600.0"/>
<path d="M493.7,570 L496.8,584.2 L504.7,582.6 M496.8,584.2 L498.4,600 L506.3,599.2 M504.7,582.6 L507.5,600"/>
<path d="M477.9,604.7 C478.4,604.5 479.4,601.4 481.0,603.2 C482.6,605.1 485.3,611.1 487.4,615.8 C489.5,620.5 492.1,625.0 493.7,631.6 C495.3,638.2 496.5,647.9 496.8,655.3 C497.1,662.7 496.9,669.5 495.3,675.8 C493.7,682.1 490.3,689.0 487.4,693.2 C484.5,697.4 482.4,699.0 477.9,701.1 C473.4,703.2 463.4,705.0 460.5,705.8"/>
<path d="M485.8,604.7 C486.9,606.8 490.0,612.4 492.1,617.4 C494.2,622.4 496.9,628.4 498.4,634.7 C499.8,641.0 500.7,648.4 500.8,655.3 C500.9,662.1 500.6,669.8 499.2,675.8 C497.8,681.8 495.1,687.1 492.1,691.6 C489.1,696.1 482.9,700.8 481.0,702.6"/>
<path d="M489.0,603.2 C490.3,605.8 494.6,613.0 496.8,619.0 C499.0,625.0 501.3,632.7 502.4,639.5 C503.5,646.3 503.5,654.2 503.2,660.0 C502.9,665.8 501.2,671.8 500.8,674.2"/>
<path d="M498.4,600.0 C499.7,602.6 504.4,611.3 506.3,615.8 C508.2,620.3 509.0,622.6 509.5,626.8 C510.0,631.0 510.0,636.8 509.5,641.0 C509.0,645.2 507.6,648.7 506.3,652.1 C505.0,655.5 502.4,660.0 501.6,661.6"/>
<path d="M501.6,677.4 C502.4,677.9 503.4,680.0 506.3,680.5 C509.2,681.0 515.8,681.0 519.0,680.5 C522.2,680.0 524.2,677.9 525.3,677.4"/>
<path d="M507.9,600.0 C509.5,603.4 514.5,613.1 517.4,620.5 C520.3,627.9 523.7,637.1 525.3,644.2 C526.9,651.3 526.8,657.7 526.8,663.2 C526.8,668.7 525.5,675.0 525.3,677.4"/>
<path d="M519.0,623.7 C520.6,623.2 525.0,620.5 528.4,620.5 C531.8,620.5 536.3,621.3 539.5,623.7 C542.7,626.1 545.6,630.8 547.4,634.7 C549.2,638.7 550.0,645.3 550.5,647.4"/>
<path d="M520.5,628.4 C522.1,628.1 526.6,626.0 530.0,626.8 C533.4,627.6 538.2,630.0 541.1,633.2 C544.0,636.4 546.1,641.3 547.4,645.8 C548.7,650.3 549.3,656.0 549.0,660.0 C548.7,664.0 547.6,667.1 545.8,669.5 C543.9,671.9 540.5,673.2 537.9,674.2 C535.3,675.2 531.3,675.5 530.0,675.8"/>
<path d="M501.6,568.4 L506.3,565.3 L523.7,562.9 L528.4,560.5 L534.7,566.8 L537.9,571.6 L550.5,574 L560,576.3"/>
<path d="M523.7,562.9 C524.8,564.9 528.2,572.5 530.0,574.7 C531.8,576.9 533.0,575.9 534.7,576.3 C536.4,576.6 537.1,576.7 540.0,576.8 C542.9,576.9 548.2,576.8 551.8,576.8 C555.3,576.8 558.1,575.8 561.3,576.8 C564.5,577.8 568.2,580.4 570.8,582.8 C573.4,585.2 575.3,587.8 576.7,591.1 C578.1,594.5 578.6,598.9 579.1,602.9 C579.6,606.9 579.9,610.6 579.7,615.0 C579.5,619.4 579.3,625.6 578.0,629.1 C576.7,632.6 574.9,634.6 572.1,636.2 C569.3,637.8 563.2,638.2 561.4,638.6"/>
<path d="M501.6,571.6 C502.1,572.9 502.6,577.1 504.7,579.5 C506.8,581.9 511.3,584.0 514.2,585.8 C517.1,587.6 520.2,588.9 522.1,590.5 C524.0,592.1 524.2,594.8 525.3,595.3 C526.3,595.8 526.3,594.5 528.4,593.7 C530.5,592.9 534.8,591.5 537.9,590.5 C541.0,589.5 543.7,588.7 547.0,588.0 C550.3,587.3 554.2,585.8 557.8,586.3 C561.4,586.8 565.6,588.3 568.4,591.1 C571.1,593.9 573.1,598.9 574.3,602.9 C575.5,606.9 575.5,610.8 575.5,615.0 C575.5,619.2 574.7,625.8 574.5,628.0"/>
<ellipse cx="519.5" cy="595.5" rx="4.2" ry="3.4" stroke-width="1.4"/>
<path d="M558.4,549.5 C558.1,551.2 556.8,556.9 556.5,560.0 C556.2,563.1 557.8,566.1 556.8,568.4 C555.8,570.7 551.5,573.1 550.5,574.0"/>
<path d="M603.0,528.0 C606.7,526.9 619.3,522.2 625.3,521.1 C631.3,520.0 634.5,520.1 639.0,521.1 C643.5,522.1 648.1,523.8 652.6,527.1 C657.1,530.4 662.6,535.9 666.3,540.8 C670.0,545.6 672.8,551.9 674.9,556.2 C677.0,560.5 678.1,562.4 679.1,566.4 C680.1,570.4 680.8,575.1 681.1,580.0 C681.4,584.9 681.3,590.9 681.1,595.8 C680.9,600.7 680.9,605.3 680.1,609.6 C679.3,613.9 678.2,618.4 676.2,621.4 C674.2,624.4 670.9,626.1 668.3,627.4 C665.7,628.7 662.4,628.6 660.4,629.3 C658.4,629.9 657.7,629.6 656.4,631.3 C655.1,632.9 654.1,636.6 652.5,639.2 C650.9,641.8 648.9,644.5 646.6,647.1 C644.3,649.7 641.7,653.4 638.7,655.0 C635.7,656.6 631.4,657.0 628.8,657.0 C626.2,657.0 623.9,655.3 622.9,655.0"/>
<path d="M580.8,531.4 L596.2,529.7 L604.7,527.1"/>
<path d="M580.8,531.4 C579.7,533.5 577.4,541.4 574.0,544.2 C570.6,547.1 563.0,547.4 560.3,548.5 C557.6,549.6 558.3,548.4 557.7,551.1 C557.1,553.8 558.1,561.6 556.8,564.7 C555.5,567.8 551.1,569.0 550.0,569.9"/>
<path d="M557.7,551.1 C560.1,550.2 567.8,547.0 572.2,545.9 C576.6,544.8 582.2,544.5 584.2,544.2"/>
<path d="M584.2,544.2 C586.5,546.5 593.9,552.8 597.9,557.9 C601.9,563.0 605.4,568.7 608.2,575.0 C611.1,581.3 613.3,588.0 615.0,595.5 C616.7,603.0 617.7,612.6 618.4,620.0 C619.1,627.4 619.2,633.5 619.0,640.0 C618.8,646.5 617.3,655.8 617.0,659.0"/>
<path d="M596.2,530.5 C598.8,531.9 607.0,535.7 611.6,539.1 C616.2,542.5 619.9,546.0 623.6,551.1 C627.3,556.2 630.9,563.1 633.8,569.9 C636.6,576.7 639.6,588.4 640.7,592.1"/>
<path d="M611.0,531.0 C612.5,532.2 615.9,535.2 620.0,538.4 C624.1,541.6 631.4,544.9 635.8,550.0 C640.2,555.1 643.8,561.9 646.3,568.9 C648.8,575.9 649.8,588.2 650.5,592.1"/>
<path d="M625.3,522.0 C627.6,523.4 634.5,526.8 639.0,530.5 C643.5,534.2 648.6,539.1 652.6,544.2 C656.6,549.3 660.3,555.6 662.9,561.3 C665.5,567.0 667.1,573.5 668.0,578.4 C668.9,583.2 668.0,588.4 668.0,590.4"/>
<path d="M587.0,543.5 C589.4,545.6 597.2,551.2 601.3,556.2 C605.4,561.2 608.8,567.3 611.6,573.3 C614.5,579.3 616.7,584.3 618.4,592.1 C620.1,599.9 621.0,609.5 621.8,620.0 C622.5,630.5 622.7,649.2 622.9,655.0"/>
<path d="M550.7,573.3 C552.9,572.0 559.6,566.4 563.7,565.6 C567.8,564.8 572.0,566.5 575.5,568.6 C579.0,570.7 582.4,574.2 585.0,578.0 C587.6,581.8 589.3,586.6 590.9,591.1 C592.5,595.6 593.7,599.3 594.5,605.0 C595.3,610.7 596.2,620.5 595.8,625.5 C595.4,630.5 594.2,632.0 592.2,635.0 C590.2,638.0 586.6,641.3 583.9,643.3 C581.1,645.3 577.1,646.2 575.7,646.8"/>
<path d="M558.9,552.0 C560.7,552.1 566.2,551.6 569.6,552.6 C573.0,553.6 576.1,555.4 579.1,557.9 C582.1,560.4 586.0,565.8 587.4,567.4" stroke-width="1.6"/>
<path d="M640.7,592.1 L649.2,593.8 L666.3,593.8 L678.3,592.1 M669.7,575 L679.1,573.3"/>
<path d="M642.6,595.8 L624.9,625.4 M646.6,595.8 L632.8,619.5" stroke-width="1.5"/>
<path d="M575.5,647.1 C576.5,647.8 579.4,649.0 581.4,651.0 C583.4,653.0 584.4,656.9 587.4,658.9 C590.4,660.9 595.6,662.2 599.2,662.9 C602.8,663.6 606.1,663.2 609.1,662.9 C612.1,662.6 615.0,661.9 617.0,660.9 C619.0,659.9 619.9,658.0 620.9,657.0 C621.9,656.0 622.6,655.3 622.9,655.0"/>
<path d="M540.0,676.7 C542.0,676.1 548.5,674.4 551.8,672.8 C555.1,671.1 557.4,668.4 559.7,666.8 C562.0,665.1 564.7,664.9 565.7,662.9 C566.7,660.9 565.7,656.3 565.7,655.0"/>
<path d="M658.4,595.8 L662.4,629.3" stroke-width="1.4"/>
<path d="M664,603 Q667,602 667.5,606 Q665,608 664.5,604 M661,616 Q664,617 663,621" stroke-width="1.4"/>
<path d="M632,620 L634,652" stroke-width="1.4"/>
<path d="M520.0,600.7 C521.6,600.9 526.4,600.6 529.5,601.8 C532.6,603.0 535.9,605.2 538.9,607.8 C541.9,610.4 545.2,614.5 547.2,617.2 C549.2,620.0 550.2,623.1 550.8,624.3"/>
<path d="M525.9,597.1 C527.9,596.3 534.4,593.2 537.8,592.4 C541.2,591.6 543.4,591.2 546.1,592.4 C548.9,593.6 552.1,596.0 554.3,599.5 C556.5,603.0 558.0,608.8 559.1,613.7 C560.2,618.6 560.6,625.2 560.9,629.1 C561.2,633.0 561.0,632.9 560.9,637.4 C560.8,641.9 560.4,653.1 560.3,656.3"/>
<path d="M540.1,592.4 C541.5,593.4 546.5,595.7 548.4,598.3 C550.3,600.9 550.9,603.3 551.4,607.8 C551.9,612.3 551.7,618.6 551.4,625.5 C551.1,632.4 550.5,642.9 549.6,649.2 C548.7,655.5 548.1,659.5 546.1,663.4 C544.1,667.3 541.0,670.5 537.8,672.9 C534.6,675.3 528.9,676.8 527.1,677.6"/>
<path d="M569.7,590.0 C571.1,591.6 576.0,595.5 578.0,599.5 C580.0,603.5 581.0,609.4 581.6,613.7 C582.2,618.0 582.4,622.0 581.6,625.5 C580.8,629.0 580.2,630.5 576.8,635.0 C573.4,639.5 564.0,649.8 561.4,652.8"/>
<path d="M575.7,590.0 C577.1,592.0 582.0,596.9 584.0,601.8 C586.0,606.7 587.3,614.7 587.5,619.6 C587.7,624.5 587.3,627.5 585.1,631.4 C582.9,635.3 577.9,639.7 574.5,643.3 C571.1,646.9 566.6,651.2 565.0,652.8"/>
<path d="M580.4,590.0 C581.8,592.6 587.1,599.5 588.7,605.4 C590.3,611.3 590.3,620.2 589.9,625.5 C589.5,630.8 588.7,633.9 586.3,637.4 C583.9,640.9 577.5,645.2 575.7,646.8"/>
<path d="M605.3,617.2 C605.3,620.2 606.1,629.7 605.3,635.0 C604.5,640.3 602.9,645.2 600.5,649.2 C598.1,653.2 592.7,657.1 591.1,658.7" stroke-width="1.5"/>
<path d="M559.1,656.3 L565,654 L565,663.4 L559.1,670.5 L547.2,675.3" stroke-width="1.5"/>
<path d="M575.7,646.8 C576.5,647.0 578.2,645.8 580.4,648.0 C582.6,650.2 586.1,657.7 588.7,659.9 C591.3,662.1 593.4,660.6 595.8,661.0 C598.2,661.4 600.5,662.2 602.9,662.2 C605.3,662.2 608.8,661.2 610.0,661.0"/>
<path d="M609.1,580.0 C610.4,583.3 615.0,592.1 617.0,599.7 C619.0,607.3 620.2,621.1 620.9,625.4"/>
<ellipse cx="313.8" cy="651.0" rx="4.6" ry="2.9" transform="rotate(-15 313.8 651)" stroke-width="1.6"/>
<ellipse cx="328.4" cy="647.2" rx="4.8" ry="3.0" transform="rotate(-15 328.4 647.2)" stroke-width="1.6"/>
<path d="M132.0,786.1 L128.4,786.5 L124.7,786.2 L121.0,785.3 L117.2,783.7 L113.4,781.4 L109.7,778.5 L106.1,774.9 L102.6,770.8 L99.3,766.2 L96.1,761.1 L93.2,755.7 L90.6,749.8 L88.3,743.7 L86.3,737.3 L84.7,730.8 L83.4,724.2 L82.6,717.6 L82.1,711.1 L81.9,704.7 L82.2,698.5 L82.9,692.5 L84.0,687.0 L85.4,681.8 L87.2,677.0 L89.4,672.8 L91.8,669.2 L94.6,666.1 L97.6,663.6 L100.8,661.8 L104.2,660.7 L146.2,655.2 L149.8,654.8 L153.5,655.1 L157.2,656.0 L161.0,657.6 L164.8,659.9 L168.5,662.8 L172.1,666.4 L175.6,670.5 L178.9,675.1 L182.1,680.2 L185.0,685.6 L187.6,691.5 L189.9,697.6 L191.9,704.0 L193.5,710.5 L194.8,717.1 L195.6,723.7 L196.1,730.2 L196.3,736.6 L196.0,742.8 L195.3,748.8 L194.2,754.3 L192.8,759.5 L191.0,764.3 L188.8,768.5 L186.4,772.1 L183.6,775.2 L180.6,777.7 L177.4,779.5 L174.0,780.6 Z" stroke-width="1.8" fill="#fff"/>
<path d="M108.7,660.1 L112.1,660.1 L115.7,660.7 L119.3,662.0 L122.9,663.9 L126.5,666.4 L130.0,669.4 L133.5,673.0 L136.8,677.1 L139.9,681.6 L142.8,686.6 L145.5,691.9 L148.0,697.5 L150.2,703.4 L152.0,709.5 L153.6,715.7 L154.8,722.0 L155.7,728.3 L156.2,734.6 L156.4,740.7 L156.2,746.7 L155.6,752.4 L154.7,757.9 L153.4,763.0 L151.8,767.6 L149.9,771.9 L147.7,775.7 L145.2,778.9 L142.5,781.6 L139.5,783.6 L136.4,785.1" stroke-width="2.0"/>
<path d="M111.0,661.4 L114.3,661.4 L117.7,662.1 L121.2,663.3 L124.6,665.2 L128.1,667.6 L131.5,670.6 L134.7,674.1 L137.9,678.1 L140.9,682.5 L143.7,687.3 L146.3,692.5 L148.7,698.0 L150.8,703.8 L152.6,709.7 L154.1,715.8 L155.3,721.9 L156.2,728.1 L156.7,734.2 L156.9,740.2 L156.7,746.0 L156.2,751.6 L155.4,756.8 L154.2,761.8 L152.7,766.4 L150.9,770.5 L148.8,774.1 L146.4,777.3 L143.8,779.9 L141.0,781.9 L138.0,783.3" stroke-width="1.5"/>
<path d="M113.3,659.5 L116.8,659.5 L120.3,660.1 L123.9,661.4 L127.6,663.3 L131.1,665.8 L134.7,668.8 L138.1,672.4 L141.4,676.5 L144.5,681.0 L147.5,686.0 L150.2,691.3 L152.6,696.9 L154.8,702.8 L156.7,708.9 L158.2,715.1 L159.4,721.4 L160.3,727.7 L160.8,734.0 L161.0,740.1 L160.8,746.1 L160.2,751.8 L159.3,757.3 L158.0,762.4 L156.4,767.0 L154.5,771.3 L152.3,775.0 L149.8,778.3 L147.1,781.0 L144.2,783.0 L141.0,784.5" stroke-width="2.0"/>
<path d="M115.6,660.8 L118.9,660.8 L122.3,661.5 L125.8,662.7 L129.3,664.6 L132.7,667.0 L136.1,670.0 L139.4,673.5 L142.5,677.5 L145.5,681.9 L148.3,686.7 L151.0,691.9 L153.3,697.4 L155.4,703.2 L157.2,709.1 L158.7,715.2 L159.9,721.3 L160.8,727.5 L161.3,733.6 L161.5,739.6 L161.3,745.4 L160.8,751.0 L160.0,756.2 L158.8,761.2 L157.3,765.8 L155.5,769.9 L153.4,773.5 L151.1,776.7 L148.5,779.3 L145.7,781.3 L142.7,782.7" stroke-width="1.5"/>
<path d="M117.9,658.9 L121.4,658.9 L125.0,659.5 L128.6,660.8 L132.2,662.7 L135.8,665.2 L139.3,668.2 L142.7,671.8 L146.0,675.9 L149.1,680.4 L152.1,685.4 L154.8,690.7 L157.2,696.3 L159.4,702.2 L161.3,708.3 L162.8,714.5 L164.1,720.8 L164.9,727.1 L165.4,733.4 L165.6,739.5 L165.4,745.5 L164.8,751.2 L163.9,756.7 L162.7,761.7 L161.1,766.4 L159.2,770.7 L157.0,774.4 L154.5,777.7 L151.7,780.3 L148.8,782.4 L145.6,783.9" stroke-width="2.0"/>
<path d="M120.2,660.2 L123.6,660.2 L127.0,660.9 L130.4,662.1 L133.9,664.0 L137.3,666.4 L140.7,669.4 L144.0,672.9 L147.1,676.9 L150.1,681.3 L153.0,686.1 L155.6,691.3 L157.9,696.8 L160.0,702.6 L161.9,708.5 L163.4,714.6 L164.6,720.7 L165.4,726.9 L166.0,733.0 L166.1,739.0 L166.0,744.8 L165.5,750.3 L164.6,755.6 L163.4,760.6 L161.9,765.2 L160.1,769.3 L158.0,772.9 L155.7,776.1 L153.1,778.7 L150.3,780.7 L147.3,782.1" stroke-width="1.5"/>
<path d="M122.5,658.3 L126.0,658.3 L129.6,658.9 L133.2,660.2 L136.8,662.1 L140.4,664.6 L143.9,667.6 L147.3,671.2 L150.6,675.3 L153.8,679.8 L156.7,684.7 L159.4,690.1 L161.8,695.7 L164.0,701.6 L165.9,707.7 L167.4,713.9 L168.7,720.2 L169.5,726.5 L170.1,732.8 L170.2,738.9 L170.0,744.9 L169.5,750.6 L168.5,756.1 L167.3,761.1 L165.7,765.8 L163.8,770.1 L161.6,773.8 L159.1,777.1 L156.4,779.7 L153.4,781.8 L150.3,783.3" stroke-width="2.0"/>
<path d="M124.9,659.6 L128.2,659.6 L131.6,660.3 L135.0,661.5 L138.5,663.4 L141.9,665.8 L145.3,668.8 L148.6,672.3 L151.8,676.2 L154.8,680.7 L157.6,685.5 L160.2,690.7 L162.6,696.2 L164.7,702.0 L166.5,707.9 L168.0,714.0 L169.2,720.1 L170.0,726.3 L170.6,732.4 L170.8,738.4 L170.6,744.2 L170.1,749.7 L169.2,755.0 L168.0,760.0 L166.5,764.5 L164.7,768.7 L162.7,772.3 L160.3,775.5 L157.7,778.1 L154.9,780.1 L151.9,781.5" stroke-width="1.5"/>
<path d="M127.1,657.7 L130.6,657.7 L134.2,658.3 L137.8,659.6 L141.4,661.5 L145.0,663.9 L148.5,667.0 L152.0,670.6 L155.3,674.6 L158.4,679.2 L161.3,684.1 L164.0,689.5 L166.5,695.1 L168.6,701.0 L170.5,707.1 L172.1,713.3 L173.3,719.6 L174.2,725.9 L174.7,732.2 L174.8,738.3 L174.6,744.3 L174.1,750.0 L173.2,755.4 L171.9,760.5 L170.3,765.2 L168.4,769.5 L166.2,773.2 L163.7,776.5 L161.0,779.1 L158.0,781.2 L154.9,782.7" stroke-width="2.0"/>
<path d="M129.5,659.0 L132.8,659.0 L136.2,659.6 L139.7,660.9 L143.1,662.7 L146.6,665.2 L149.9,668.2 L153.2,671.7 L156.4,675.6 L159.4,680.1 L162.2,684.9 L164.8,690.1 L167.2,695.6 L169.3,701.4 L171.1,707.3 L172.6,713.4 L173.8,719.5 L174.7,725.7 L175.2,731.8 L175.4,737.7 L175.2,743.6 L174.7,749.1 L173.8,754.4 L172.7,759.4 L171.2,763.9 L169.4,768.1 L167.3,771.7 L164.9,774.9 L162.3,777.5 L159.5,779.5 L156.5,780.9" stroke-width="1.5"/>
<path d="M131.8,657.1 L135.2,657.1 L138.8,657.7 L142.4,659.0 L146.0,660.9 L149.6,663.3 L153.1,666.4 L156.6,670.0 L159.9,674.0 L163.0,678.6 L165.9,683.5 L168.6,688.9 L171.1,694.5 L173.3,700.4 L175.1,706.5 L176.7,712.7 L177.9,719.0 L178.8,725.3 L179.3,731.6 L179.5,737.7 L179.3,743.7 L178.7,749.4 L177.8,754.8 L176.5,759.9 L174.9,764.6 L173.0,768.9 L170.8,772.6 L168.3,775.9 L165.6,778.5 L162.6,780.6 L159.5,782.1" stroke-width="2.0"/>
<path d="M134.1,658.4 L137.4,658.4 L140.8,659.0 L144.3,660.3 L147.7,662.1 L151.2,664.6 L154.6,667.5 L157.8,671.0 L161.0,675.0 L164.0,679.5 L166.8,684.3 L169.4,689.5 L171.8,695.0 L173.9,700.8 L175.7,706.7 L177.2,712.8 L178.4,718.9 L179.3,725.1 L179.8,731.2 L180.0,737.1 L179.8,743.0 L179.3,748.5 L178.5,753.8 L177.3,758.8 L175.8,763.3 L174.0,767.5 L171.9,771.1 L169.5,774.3 L166.9,776.8 L164.1,778.9 L161.1,780.3" stroke-width="1.5"/>
<path d="M136.4,656.5 L139.9,656.5 L143.4,657.1 L147.0,658.4 L150.7,660.3 L154.2,662.7 L157.8,665.8 L161.2,669.4 L164.5,673.4 L167.6,678.0 L170.6,682.9 L173.3,688.3 L175.7,693.9 L177.9,699.8 L179.8,705.9 L181.3,712.1 L182.5,718.4 L183.4,724.7 L183.9,731.0 L184.1,737.1 L183.9,743.1 L183.3,748.8 L182.4,754.2 L181.1,759.3 L179.5,764.0 L177.6,768.3 L175.4,772.0 L172.9,775.3 L170.2,777.9 L167.3,780.0 L164.1,781.5" stroke-width="2.0"/>
<path d="M138.7,657.8 L142.0,657.8 L145.4,658.4 L148.9,659.7 L152.4,661.5 L155.8,664.0 L159.2,666.9 L162.5,670.4 L165.6,674.4 L168.6,678.9 L171.4,683.7 L174.1,688.9 L176.4,694.4 L178.5,700.2 L180.3,706.1 L181.8,712.2 L183.0,718.3 L183.9,724.5 L184.4,730.6 L184.6,736.5 L184.4,742.3 L183.9,747.9 L183.1,753.2 L181.9,758.2 L180.4,762.7 L178.6,766.9 L176.5,770.5 L174.2,773.6 L171.6,776.2 L168.8,778.3 L165.8,779.7" stroke-width="1.5"/>
<path d="M141.0,655.8 L144.5,655.9 L148.1,656.5 L151.7,657.8 L155.3,659.7 L158.9,662.1 L162.4,665.2 L165.8,668.8 L169.1,672.8 L172.2,677.4 L175.2,682.3 L177.9,687.6 L180.3,693.3 L182.5,699.2 L184.4,705.3 L185.9,711.5 L187.2,717.8 L188.0,724.1 L188.5,730.4 L188.7,736.5 L188.5,742.5 L187.9,748.2 L187.0,753.6 L185.8,758.7 L184.2,763.4 L182.3,767.7 L180.1,771.4 L177.6,774.6 L174.8,777.3 L171.9,779.4 L168.7,780.9" stroke-width="2.0"/>
<path d="M143.3,657.2 L146.7,657.2 L150.1,657.8 L153.5,659.1 L157.0,660.9 L160.4,663.4 L163.8,666.3 L167.1,669.8 L170.2,673.8 L173.2,678.3 L176.1,683.1 L178.7,688.3 L181.0,693.8 L183.1,699.6 L185.0,705.5 L186.5,711.6 L187.7,717.7 L188.5,723.8 L189.1,729.9 L189.2,735.9 L189.1,741.7 L188.6,747.3 L187.7,752.6 L186.5,757.6 L185.0,762.1 L183.2,766.3 L181.1,769.9 L178.8,773.0 L176.2,775.6 L173.4,777.7 L170.4,779.1" stroke-width="1.5"/>
<path d="M145.6,655.2 L149.1,655.3 L152.7,655.9 L156.3,657.2 L159.9,659.1 L163.5,661.5 L167.0,664.6 L170.4,668.1 L173.7,672.2 L176.9,676.8 L179.8,681.7 L182.5,687.0 L184.9,692.7 L187.1,698.6 L189.0,704.7 L190.5,710.9 L191.8,717.2 L192.6,723.5 L193.2,729.7 L193.3,735.9 L193.1,741.9 L192.6,747.6 L191.6,753.0 L190.4,758.1 L188.8,762.8 L186.9,767.1 L184.7,770.8 L182.2,774.0 L179.5,776.7 L176.5,778.8 L173.4,780.3" stroke-width="2.0"/>
<path d="M147.5,656.6 L150.9,656.6 L154.3,657.3 L157.7,658.5 L161.2,660.4 L164.6,662.8 L168.0,665.8 L171.3,669.3 L174.4,673.3 L177.4,677.7 L180.3,682.6 L182.9,687.8 L185.2,693.3 L187.3,699.0 L189.2,704.9 L190.7,711.0 L191.9,717.1 L192.7,723.3 L193.3,729.4 L193.4,735.4 L193.3,741.2 L192.8,746.8 L191.9,752.1 L190.7,757.0 L189.2,761.6 L187.4,765.7 L185.3,769.4 L183.0,772.5 L180.4,775.1 L177.6,777.1 L174.6,778.5" stroke-width="1.5"/>
<path d="M104.0,663.2 L105.0,662.7 L106.0,662.2 L107.0,661.8 L108.1,661.4 L109.1,661.1 L110.2,660.9 L111.2,660.7 L112.3,660.6 L113.4,660.6 L114.6,660.7 L115.7,660.8 L116.8,660.9 L117.9,661.2 L119.1,661.5 L120.2,661.9 L121.4,662.3 L122.5,662.8 L123.7,663.4 L124.8,664.0 L126.0,664.7 L127.1,665.4 L128.3,666.3 L129.4,667.1 L130.5,668.1" stroke-width="3.5"/>
<path d="M114.2,660.9 L114.8,660.7 L115.4,660.5 L116.0,660.3 L116.6,660.2 L117.1,660.0 L117.7,659.9 L118.3,659.8 L118.9,659.7 L119.5,659.7 L120.1,659.6 L120.8,659.6 L121.4,659.6 L122.0,659.7 L122.6,659.7 L123.2,659.8 L123.9,659.9 L124.5,660.0 L125.1,660.1 L125.7,660.3 L126.4,660.4 L127.0,660.6 L127.7,660.8 L128.3,661.1 L128.9,661.3" stroke-width="2.5"/>
<path d="M174.2,735.0 L174.3,737.2 L174.3,739.4 L174.2,741.5 L174.1,743.6 L174.0,745.7 L173.8,747.7 L173.5,749.8 L173.3,751.7 L172.9,753.7 L172.6,755.6 L172.2,757.4 L171.7,759.2 L171.2,760.9 L170.6,762.6 L170.1,764.3 L169.4,765.9 L168.8,767.4 L168.1,768.8 L167.3,770.2 L166.5,771.5 L165.7,772.8 L164.8,774.0 L164.0,775.1 L163.0,776.2" stroke-width="2.5"/>
<path d="M183.3,700.9 L184.0,703.1 L184.7,705.3 L185.2,707.5 L185.8,709.7 L186.3,712.0 L186.8,714.2 L187.2,716.5 L187.6,718.8 L187.9,721.0 L188.2,723.3 L188.5,725.5 L188.6,727.8 L188.8,730.0 L188.9,732.2 L189.0,734.4 L189.0,736.6 L188.9,738.7 L188.9,740.8 L188.7,742.9 L188.6,745.0 L188.4,747.0 L188.1,749.0 L187.8,751.0 L187.4,752.9" stroke-width="2.5"/>
<ellipse cx="118.1" cy="723.4" rx="34.2" ry="64.2" transform="rotate(-12.5 118.1 723.4)" stroke-width="1.8" fill="#fff"/>
<path d="M88.3,713.1 L88.4,708.1 L88.9,703.2 L89.6,698.5 L90.7,694.2 L92.2,690.1 L93.9,686.4 L95.8,683.0 L98.1,680.1 L100.5,677.7 L103.2,675.7 L106.0,674.3 L109.0,673.3 L112.1,672.9 L115.3,673.0 L118.5,673.7 L121.8,674.9 L125.0,676.6 L128.2,678.7 L131.3,681.4 L134.3,684.5 L137.2,688.0 L139.9,691.9 L142.4,696.1 L144.6,700.6 L146.6,705.4 L148.3,710.3 L149.8,715.4 L150.9,720.6 L151.7,725.9 L152.2,731.1 L152.3,736.2 L152.2,741.2 L151.6,746.1 L150.8,750.7 L149.7,755.0 L148.2,759.1 L146.5,762.7 L144.5,766.0 L142.2,768.8 L139.7,771.2 L137.0,773.1 L134.2,774.5 L131.2,775.4 L128.0,775.7 L124.8,775.5 L121.6,774.8 L118.3,773.5 L115.1,771.8" stroke-width="1.7"/>
<path d="M95.4,718.1 L95.1,714.4 L95.1,710.7 L95.2,707.2 L95.6,703.7 L96.2,700.4 L96.9,697.3 L97.9,694.3 L99.0,691.6 L100.3,689.1 L101.7,686.9 L103.4,684.9 L105.1,683.2 L107.0,681.9 L109.0,680.8 L111.1,680.1 L113.2,679.7 L115.4,679.6 L117.7,679.8 L120.0,680.4 L122.3,681.3 L124.6,682.6 L126.8,684.1 L129.0,685.9 L131.2,688.0 L133.2,690.4 L135.2,693.0 L137.1,695.9 L138.8,699.0 L140.4,702.2 L141.8,705.6" stroke-width="1.6"/>
<path d="M144.5,747.1 L143.8,749.0 L143.1,750.8 L142.3,752.5 L141.4,754.1 L140.5,755.6 L139.4,756.9 L138.4,758.2 L137.2,759.3 L136.0,760.3 L134.8,761.1 L133.5,761.9 L132.2,762.5 L130.8,762.9 L129.4,763.2 L128.0,763.4 L126.5,763.4 L125.1,763.3 L123.6,763.1 L122.1,762.7 L120.6,762.1 L119.1,761.5 L117.6,760.6 L116.1,759.7 L114.6,758.6" stroke-width="1.6"/>
<path d="M143.6,763.2 L142.8,764.5 L141.9,765.7 L141.0,766.8 L140.0,767.8 L139.0,768.7 L137.9,769.6 L136.9,770.3 L135.8,771.0 L134.6,771.6 L133.5,772.1 L132.3,772.5 L131.1,772.8 L129.8,773.0 L128.6,773.2 L127.3,773.2 L126.0,773.2 L124.7,773.0 L123.4,772.8 L122.1,772.4 L120.8,772.0 L119.5,771.5 L118.2,770.9 L116.9,770.2 L115.6,769.4" stroke-width="1.3"/>
<path d="M116.5,710.5 C116.5,712.1 116.4,716.6 116.8,720.0 C117.2,723.4 117.8,727.3 119.0,730.6 C120.2,733.9 122.1,737.1 124.0,740.0 C125.9,742.9 127.5,745.8 130.4,748.2 C133.3,750.6 139.8,753.5 141.7,754.5" stroke-width="1.6"/>
<path d="M130.4,697.9 C131.3,698.6 134.2,699.6 136.0,702.0 C137.8,704.4 139.5,708.2 141.0,712.0 C142.5,715.8 144.0,720.6 145.0,725.0 C146.0,729.4 146.5,736.0 146.8,738.2" stroke-width="1.6"/>
<path d="M134.2,709.2 C134.6,708.6 135.7,706.3 136.5,705.5 C137.3,704.7 138.8,704.4 139.2,704.2" stroke-width="1.5"/>
<path d="M136.7,723.0 C137.2,723.9 138.5,727.2 140.0,728.5 C141.5,729.8 144.6,730.2 145.5,730.6" stroke-width="1.5"/>
<path d="M113.4,693.5 L121.6,687.8 L131.6,692.8 L130.4,712.3 L113.4,706 Z" stroke-width="1.6" fill="#fff"/>
<path d="M119.5,690.5 L130.8,696.5" stroke-width="1.4"/>
<ellipse cx="124.7" cy="704.2" rx="1.8" ry="2.3" stroke-width="1.6" fill="#000"/>
<path d="M78.7,726.6 L99,722.8 Q101.6,726 99.6,730.6 L83.3,734.9 Z" stroke-width="1.7" fill="#fff"/>
<path d="M83.5,734.6 L85.7,725.6" stroke-width="1.5"/>
<path d="M86.6,733.9 L88.8,724.9" stroke-width="1.5"/>
<path d="M89.7,733.2 L91.9,724.2" stroke-width="1.5"/>
<path d="M92.8,732.5 L95.0,723.5" stroke-width="1.5"/>
<path d="M95.9,731.8 L98.1,722.8" stroke-width="1.5"/>
<path d="M99.0,731.1 L101.2,722.1" stroke-width="1.5"/>
<ellipse cx="68.5" cy="734.0" rx="10.5" ry="16.3" transform="rotate(-12 68.5 734)" stroke-width="1.8" fill="#fff"/>
<path d="M67.4,720.4 L68.4,720.6 L69.3,720.9 L70.3,721.5 L71.3,722.2 L72.2,723.0 L73.1,724.0 L73.9,725.2 L74.7,726.4 L75.4,727.8 L75.9,729.2 L76.4,730.7 L76.8,732.3 L77.1,733.9 L77.3,735.5 L77.3,737.0 L77.3,738.5 L77.1,740.0 L76.8,741.4 L76.4,742.6 L75.9,743.8 L75.3,744.8 L74.6,745.7 L73.8,746.4 L73.0,747.0" stroke-width="1.5"/>
<path d="M61.4,738.0 L61.2,737.3 L61.0,736.5 L60.8,735.7 L60.6,734.9 L60.5,734.1 L60.4,733.3 L60.3,732.5 L60.3,731.8 L60.3,731.0 L60.3,730.2 L60.3,729.5 L60.4,728.7 L60.5,728.0 L60.7,727.3 L60.8,726.6 L61.0,726.0 L61.2,725.4 L61.4,724.8 L61.7,724.2 L62.0,723.7 L62.3,723.2 L62.6,722.7 L63.0,722.3 L63.4,721.9" stroke-width="1.5"/>
<path d="M57,726.5 L52.5,728.5 L50,732 L49.8,738.5 L51,743.5 L55,746.5 L60.5,747 L64,744 L64.5,736 L62.5,729.5 Z" stroke-width="1.8" fill="#fff"/>
<path d="M55.5,731 L57.5,732.5 M59.5,740 L59.5,743.5 L62,743.5" stroke-width="1.5"/>
<path d="M217.3,666.0 L219.5,666.4 L221.8,667.1 L224.0,668.2 L226.2,669.7 L228.3,671.5 L230.3,673.7 L232.1,676.2 L233.8,678.9 L235.4,681.8 L236.7,685.0 L237.7,688.2 L238.6,691.6 L239.2,695.0 L239.5,698.4 L239.6,701.8 L239.4,705.1 L239.0,708.3 L238.3,711.3 L237.3,714.1 L236.2,716.6 L234.8,718.9 L233.2,720.8 L231.4,722.4 L229.5,723.6" stroke-width="1.6"/>
<ellipse cx="218.0" cy="696.0" rx="18.8" ry="29.9" transform="rotate(-12 218 696)" stroke-width="1.8" fill="#fff"/>
<path d="M220.5,680.5 C222.1,680.9 224.4,681.9 225.5,684.0 C226.6,686.1 227.1,689.8 227.2,693.0 C227.3,696.2 226.9,700.5 226.0,703.0 C225.1,705.5 223.1,707.5 221.5,708.0 C219.9,708.5 217.9,707.8 216.5,706.0 C215.1,704.2 213.7,700.0 213.2,697.0 C212.7,694.0 213.1,690.6 213.6,688.0 C214.1,685.4 214.8,682.8 216.0,681.5 C217.2,680.2 218.9,680.1 220.5,680.5 Z" stroke-width="1.8"/>
<path d="M216,681.5 L218.5,684.5 L220.5,680.5" stroke-width="1.5"/>
<path d="M202.0,692.9 L204.3,693.2" stroke-width="1.7"/>
<path d="M202.6,685.3 L204.7,686.5" stroke-width="1.7"/>
<path d="M204.8,678.8 L206.6,680.9" stroke-width="1.7"/>
<path d="M208.5,674.2 L209.7,676.9" stroke-width="1.7"/>
<path d="M213.2,672.0 L213.8,674.9" stroke-width="1.7"/>
<path d="M218.4,672.4 L218.2,675.3" stroke-width="1.7"/>
<path d="M223.6,675.3 L222.7,677.9" stroke-width="1.7"/>
<path d="M228.2,680.6 L226.7,682.5" stroke-width="1.7"/>
<path d="M231.6,687.5 L229.7,688.6" stroke-width="1.7"/>
<path d="M234.0,699.5 L231.7,699.1" stroke-width="1.7"/>
<path d="M233.4,706.7 L231.3,705.5" stroke-width="1.7"/>
<path d="M220.6,720.5 L220.0,720.5 L219.5,720.4 L218.9,720.2 L218.4,720.1 L217.8,719.9 L217.2,719.7 L216.7,719.4 L216.1,719.1 L215.6,718.8 L215.0,718.5 L214.5,718.1 L213.9,717.7 L213.4,717.3 L212.9,716.8 L212.3,716.3 L211.8,715.8 L211.3,715.3 L210.8,714.7 L210.3,714.1 L209.9,713.5 L209.4,712.9 L208.9,712.2 L208.5,711.5 L208.1,710.8" stroke-width="1.4"/>
<path d="M259.8,657.0 C260.6,656.1 262.6,652.6 264.4,651.5 C266.2,650.4 268.6,650.2 270.8,650.1 C273.0,650.0 275.2,649.8 277.3,650.6 C279.4,651.5 281.7,653.4 283.7,655.2 C285.7,657.1 287.4,658.9 289.3,661.7 C291.2,664.5 293.3,668.3 294.8,671.8 C296.3,675.3 298.0,679.4 298.5,682.8 C299.0,686.2 298.4,688.9 297.6,692.0 C296.8,695.1 295.6,698.5 293.9,701.3 C292.2,704.1 289.7,706.8 287.4,708.6 C285.1,710.4 282.4,711.7 280.0,712.3 C277.6,712.9 275.7,712.3 272.7,712.3 C269.7,712.2 263.8,712.0 262.0,712.0 L254,700 L246,668 Z" stroke-width="1.8" fill="#fff"/>
<path d="M287.0,663.0 C287.9,664.5 291.1,668.7 292.5,672.0 C293.9,675.3 294.9,679.5 295.2,683.0 C295.5,686.5 295.3,689.9 294.5,693.0 C293.7,696.1 291.2,700.1 290.5,701.5" stroke-width="2" stroke-dasharray="2.2,2.2"/>
<path d="M254.3,661.7 L271.8,658.4 L272.7,662.6 L255.2,665.8 Z" stroke-width="1.7"/>
<path d="M256.8,663.8 L271.2,660.5" stroke-width="1.2" stroke-dasharray="1.2,1.6"/>
<path d="M260.7,666.3 L278.2,663.5 L279.1,667.2 L261.6,670 Z" stroke-width="1.7"/>
<path d="M263.1,668.1 L277.6,665.4" stroke-width="1.2" stroke-dasharray="1.2,1.6"/>
<path d="M264.4,671.8 L283.7,668.1 L284.7,673.6 L265.3,676.4 Z" stroke-width="1.7"/>
<path d="M266.9,674.1 L283.2,670.9" stroke-width="1.2" stroke-dasharray="1.2,1.6"/>
<path d="M268.1,679.2 L285.6,676.4 L287.4,681 L269,684.7 Z" stroke-width="1.7"/>
<path d="M270.6,682.0 L285.5,678.7" stroke-width="1.2" stroke-dasharray="1.2,1.6"/>
<path d="M270.8,687.4 L271.5,710.5" stroke-width="1.6"/>
<path d="M272.7,709.6 C273.9,709.3 277.6,709.1 280.0,708.0 C282.4,706.9 286.2,703.9 287.4,703.1" stroke-width="1.5"/>
<path d="M287.4,682 L289.3,697.6" stroke-width="1.4"/>
<path d="M269.8,684.8 L270.1,686.9 L270.2,689.1 L270.2,691.3 L270.1,693.4 L269.8,695.4 L269.5,697.4 L269.0,699.4 L268.4,701.2 L267.7,702.9 L266.8,704.5 L265.9,706.0 L264.9,707.3 L263.8,708.5 L262.7,709.5 L261.5,710.3 L260.2,711.0 L258.8,711.5 L257.5,711.8 L256.1,711.9 L254.7,711.8 L253.3,711.5 L251.9,711.0 L250.5,710.4 L249.1,709.6 L247.8,708.6 L246.5,707.4 L245.3,706.1 L244.1,704.6 L243.0,703.0 L242.0,701.3 L242.1,698.5 L240.3,697.6 L239.6,695.6 L240.2,693.0 L239.8,691.0 L238.2,689.2 L237.9,687.1 L239.1,685.1 L239.1,683.1 L237.9,680.6 L238.2,678.6 L239.8,677.4 L240.2,675.6 L239.6,672.8 L240.3,671.1 L242.2,670.9 L243.0,669.5 L243.1,666.7 L244.2,665.5 L246.0,666.3 L247.1,665.5 L247.8,663.0 L249.2,662.5 L250.8,664.2 L252.1,664.1 L253.3,662.2 L254.7,662.5 L256.0,664.9 L257.3,665.5 L258.9,664.4 L260.2,665.4 L261.5,666.6 L262.7,667.9 L263.9,669.4 L265.0,671.0 L266.0,672.7 L266.9,674.5 L267.7,676.4 L268.4,678.4 L269.0,680.5 L269.5,682.6 Z" stroke-width="1.7" fill="#fff"/>
<ellipse cx="253.3" cy="688.3" rx="7.4" ry="12.0" transform="rotate(-8 253.3 688.3)" stroke-width="1.8"/>
<path d="M248.5,698 L251,694.5 L254,700.2" stroke-width="1.8"/>
<path d="M255.2,669.3 L255.5,667.0" stroke-width="1.9"/>
<path d="M259.7,673.0 L260.8,671.2" stroke-width="1.9"/>
<path d="M263.2,679.3 L264.7,678.3" stroke-width="1.9"/>
<path d="M264.9,687.1 L266.7,687.0" stroke-width="1.9"/>
<path d="M264.5,694.9 L266.3,695.8" stroke-width="1.9"/>
<path d="M262.2,701.1 L263.5,702.9" stroke-width="1.9"/>
<path d="M258.4,704.8 L259.0,707.0" stroke-width="1.9"/>
<path d="M253.7,705.1 L253.6,707.3" stroke-width="1.9"/>
<path d="M249.1,702.0 L248.2,703.9" stroke-width="1.9"/>
<path d="M244.8,694.7 L243.3,695.7" stroke-width="1.9"/>
<path d="M243.0,685.3 L241.2,685.2" stroke-width="1.9"/>
<path d="M243.8,677.7 L242.1,676.6" stroke-width="1.9"/>
<path d="M405.2,336.6 L406.2,340.6 L406.8,344.5 L407.1,348.4 L407.0,352.2 L406.6,355.9 L405.8,359.3 L404.7,362.4 L403.3,365.1 L401.6,367.5 L399.6,369.4 L397.4,370.8 L395.0,371.8 L392.5,372.2 L389.9,372.2 L387.2,371.6 L384.5,370.5 L381.9,368.9 L379.3,366.9 L376.8,364.4 L374.5,361.6 L372.5,358.4 L370.6,354.9 L369.0,351.2 L367.8,347.4 L366.8,343.4 L366.2,339.5 L365.9,335.6 L366.0,331.8 L366.4,328.1 L367.2,324.7 L368.3,321.6 L369.7,318.9 L371.4,316.5 L373.4,314.6 L375.6,313.2 L378.0,312.2 L380.5,311.8 L383.1,311.8 L385.8,312.4 L388.5,313.5 L391.1,315.1 L393.7,317.1 L396.2,319.6 L398.5,322.4 L400.5,325.6 L402.4,329.1 L404.0,332.8 L405.2,336.6 Z M395.5,341.2 L396.3,344.4 L396.9,347.5 L397.3,350.6 L397.4,353.7 L397.3,356.5 L397.0,359.2 L396.5,361.6 L395.7,363.7 L394.8,365.4 L393.6,366.9 L392.3,367.9 L390.9,368.5 L389.3,368.8 L387.7,368.6 L386.0,368.0 L384.2,367.0 L382.4,365.6 L380.7,363.8 L379.0,361.8 L377.5,359.4 L376.0,356.8 L374.6,353.9 L373.5,350.9 L372.5,347.8 L371.7,344.6 L371.1,341.5 L370.7,338.4 L370.6,335.3 L370.7,332.5 L371.0,329.8 L371.5,327.4 L372.3,325.3 L373.2,323.6 L374.4,322.1 L375.7,321.1 L377.1,320.5 L378.7,320.2 L380.3,320.4 L382.0,321.0 L383.8,322.0 L385.6,323.4 L387.3,325.2 L389.0,327.2 L390.5,329.6 L392.0,332.2 L393.4,335.1 L394.5,338.1 L395.5,341.2 Z" stroke-width="2.4" fill="#fff"/>
<path d="M383.4,372 L384.5,380.5 L392.5,381 L393,373" stroke-width="2.4"/>
<path d="M378.5,316.3 L380.6,316.3 L382.7,316.8 L384.9,317.7 L387.1,319.1 L389.3,320.9 L391.4,323.1 L393.3,325.7 L395.2,328.5 L396.8,331.7 L398.3,335.0 L399.5,338.5 L400.5,342.1 L401.2,345.8 L401.7,349.4 L401.8,352.9 L401.7,356.2 L401.3,359.4 L400.6,362.2 L399.6,364.8 L398.4,367.0 L397.0,368.8 L395.3,370.2 L393.5,371.2 L391.5,371.7" stroke-width="1.6"/>
<path d="M384.4,319.6 L386.0,320.7 L387.5,322.1 L389.0,323.7 L390.4,325.5 L391.8,327.5 L393.1,329.6 L394.3,331.9 L395.4,334.3 L396.4,336.9 L397.2,339.5 L398.0,342.1 L398.6,344.8 L399.0,347.4 L399.3,350.1 L399.4,352.6 L399.4,355.1 L399.2,357.5 L398.9,359.7 L398.4,361.7 L397.8,363.6 L397.0,365.3 L396.1,366.7 L395.1,367.9 L393.9,368.9" stroke-width="1.3"/>
<path d="M380.6,324.5 L381.6,325.5 L382.7,326.6 L383.7,327.8 L384.7,329.2 L385.7,330.8 L386.7,332.5 L387.6,334.3 L388.4,336.2 L389.2,338.1 L389.9,340.1 L390.6,342.2 L391.1,344.3 L391.6,346.4 L392.0,348.5 L392.3,350.6 L392.5,352.6 L392.6,354.5 L392.6,356.4 L392.5,358.1 L392.3,359.8 L392.0,361.3 L391.6,362.6 L391.1,363.8 L390.6,364.9" stroke-width="1.4"/>
<path d="M380.1,342.1 L381.1,346.1 L381.7,350.0 L382.1,353.8 L382.1,357.6 L381.8,361.2 L381.2,364.5 L380.2,367.5 L379.0,370.2 L377.5,372.5 L375.8,374.3 L373.8,375.7 L371.7,376.6 L369.4,377.0 L367.0,376.9 L364.6,376.2 L362.1,375.1 L359.6,373.4 L357.2,371.4 L354.9,368.9 L352.8,366.0 L350.8,362.8 L349.1,359.3 L347.5,355.7 L346.3,351.9 L345.3,347.9 L344.7,344.0 L344.3,340.2 L344.3,336.4 L344.6,332.8 L345.2,329.5 L346.2,326.5 L347.4,323.8 L348.9,321.5 L350.6,319.7 L352.6,318.3 L354.7,317.4 L357.0,317.0 L359.4,317.1 L361.8,317.8 L364.3,318.9 L366.8,320.6 L369.2,322.6 L371.5,325.1 L373.6,328.0 L375.6,331.2 L377.3,334.7 L378.9,338.3 L380.1,342.1 Z M377.6,344.8 L378.4,347.9 L378.9,350.9 L379.3,353.9 L379.5,356.8 L379.5,359.5 L379.2,362.0 L378.8,364.3 L378.1,366.3 L377.3,368.0 L376.3,369.3 L375.1,370.3 L373.8,370.9 L372.4,371.1 L370.9,370.9 L369.3,370.3 L367.7,369.3 L366.1,367.9 L364.5,366.2 L363.0,364.2 L361.5,361.9 L360.1,359.4 L358.9,356.6 L357.8,353.8 L356.8,350.8 L356.0,347.7 L355.5,344.7 L355.1,341.7 L354.9,338.8 L354.9,336.1 L355.2,333.6 L355.6,331.3 L356.3,329.3 L357.1,327.6 L358.1,326.3 L359.3,325.3 L360.6,324.7 L362.0,324.5 L363.5,324.7 L365.1,325.3 L366.7,326.3 L368.3,327.7 L369.9,329.4 L371.4,331.4 L372.9,333.7 L374.3,336.2 L375.5,339.0 L376.6,341.8 L377.6,344.8 Z" stroke-width="2.4" fill="#fff"/>
<path d="M357.7,322.0 L359.5,321.0 L361.6,320.6 L363.7,320.8 L366.0,321.5 L368.2,322.8 L370.5,324.6 L372.7,326.9 L374.8,329.6 L376.7,332.8 L378.5,336.2 L380.0,339.9 L381.2,343.7 L382.2,347.6 L382.9,351.5 L383.2,355.3 L383.2,359.0 L382.9,362.4 L382.2,365.6 L381.3,368.3 L380.0,370.6 L378.5,372.4 L376.8,373.7 L374.9,374.4 L372.8,374.6" stroke-width="1.6"/>
<path d="M357.1,367.9 L355.9,366.3 L354.7,364.7 L353.6,362.9 L352.5,361.0 L351.5,359.1 L350.6,357.0 L349.8,354.9 L349.1,352.8 L348.4,350.6 L347.9,348.4 L347.4,346.1 L347.0,343.9 L346.8,341.7 L346.6,339.6 L346.6,337.4 L346.7,335.4 L346.8,333.4 L347.1,331.5 L347.5,329.7 L348.0,328.0 L348.5,326.5 L349.2,325.0 L350.0,323.7 L350.8,322.6" stroke-width="1.5"/>
<path d="M369.7,366.8 L368.8,366.0 L368.0,365.1 L367.1,364.0 L366.3,362.8 L365.4,361.5 L364.6,360.1 L363.9,358.6 L363.1,357.0 L362.4,355.3 L361.8,353.6 L361.2,351.9 L360.6,350.1 L360.1,348.3 L359.7,346.4 L359.4,344.6 L359.1,342.9 L358.9,341.1 L358.7,339.4 L358.6,337.8 L358.7,336.2 L358.7,334.8 L358.9,333.4 L359.1,332.2 L359.4,331.0" stroke-width="1.3"/>
<path d="M360.5,371 L359.8,381 L365,385.5 L372,384 L372.8,376" stroke-width="2.4"/>
<path d="M346,340 L353,343.5 M346.5,328 L351,326" stroke-width="1.6"/>
<path d="M374,324 L378,330 M376.5,322 L378,336" stroke-width="1.6"/>
</g>
<g>
<path transform="translate(151.80,40.00) scale(1.000,1.000)" d="M3.8,0 L6.5,0 L6.5,13 L3.8,13 L3.8,3.4 L0.9,4.9 L0.9,2.3 Z" fill="#000" fill-rule="evenodd" stroke="none"/>
<path transform="translate(163.10,40.00) scale(1.000,1.000)" d="M1.9,4.0 Q2.4,1.4 5.4,1.4 Q8.3,1.4 8.3,3.8 Q8.3,6.2 4.9,6.3 M4.9,6.3 Q8.5,6.4 8.5,9.0 Q8.5,11.6 5.4,11.6 Q2.2,11.6 1.8,9.0" fill="none" stroke="#000" stroke-width="2.8" stroke-linecap="butt" stroke-linejoin="miter"/>
<path transform="translate(174.40,40.00) scale(1.000,1.000)" d="M3.8,0 L6.5,0 L6.5,13 L3.8,13 L3.8,3.4 L0.9,4.9 L0.9,2.3 Z" fill="#000" fill-rule="evenodd" stroke="none"/>
<path transform="translate(185.70,40.00) scale(1.000,1.000)" d="M2.2,4.6 Q2.2,1.3 5.7,1.3 Q9.2,1.3 9.2,4.6 L9.2,8.4 Q9.2,11.7 5.7,11.7 Q2.2,11.7 2.2,8.4 Z" fill="none" stroke="#000" stroke-width="2.8" stroke-linecap="butt" stroke-linejoin="miter"/>
<path transform="translate(197.00,40.00) scale(1.000,1.000)" d="M3.8,0 L6.5,0 L6.5,13 L3.8,13 L3.8,3.4 L0.9,4.9 L0.9,2.3 Z" fill="#000" fill-rule="evenodd" stroke="none"/>
<path transform="translate(77.10,70.00) scale(1.000,1.000)" d="M3.8,0 L6.5,0 L6.5,13 L3.8,13 L3.8,3.4 L0.9,4.9 L0.9,2.3 Z" fill="#000" fill-rule="evenodd" stroke="none"/>
<path transform="translate(88.40,70.00) scale(1.000,1.000)" d="M1.9,4.0 Q2.4,1.4 5.4,1.4 Q8.3,1.4 8.3,3.8 Q8.3,6.2 4.9,6.3 M4.9,6.3 Q8.5,6.4 8.5,9.0 Q8.5,11.6 5.4,11.6 Q2.2,11.6 1.8,9.0" fill="none" stroke="#000" stroke-width="2.8" stroke-linecap="butt" stroke-linejoin="miter"/>
<path transform="translate(99.70,70.00) scale(1.000,1.000)" d="M3.8,0 L6.5,0 L6.5,13 L3.8,13 L3.8,3.4 L0.9,4.9 L0.9,2.3 Z" fill="#000" fill-rule="evenodd" stroke="none"/>
<path transform="translate(111.00,70.00) scale(1.000,1.000)" d="M2.2,4.6 Q2.2,1.3 5.7,1.3 Q9.2,1.3 9.2,4.6 L9.2,8.4 Q9.2,11.7 5.7,11.7 Q2.2,11.7 2.2,8.4 Z" fill="none" stroke="#000" stroke-width="2.8" stroke-linecap="butt" stroke-linejoin="miter"/>
<path transform="translate(122.30,70.00) scale(1.000,1.000)" d="M3.8,0 L6.5,0 L6.5,13 L3.8,13 L3.8,3.4 L0.9,4.9 L0.9,2.3 Z" fill="#000" fill-rule="evenodd" stroke="none"/>
<path transform="translate(133.60,70.00) scale(1.000,1.000)" d="M0.3,13 L4.4,0 L7.7,0 L11.8,13 L9.0,13 L8.2,10.3 L3.9,10.3 L3.1,13 Z M4.6,7.8 L7.5,7.8 L6.05,3.0 Z" fill="#000" fill-rule="evenodd" stroke="none"/>
<path transform="translate(118.00,217.90) scale(1.000,1.000)" d="M3.8,0 L6.5,0 L6.5,13 L3.8,13 L3.8,3.4 L0.9,4.9 L0.9,2.3 Z" fill="#000" fill-rule="evenodd" stroke="none"/>
<path transform="translate(129.30,217.90) scale(1.000,1.000)" d="M1.9,4.0 Q2.4,1.4 5.4,1.4 Q8.3,1.4 8.3,3.8 Q8.3,6.2 4.9,6.3 M4.9,6.3 Q8.5,6.4 8.5,9.0 Q8.5,11.6 5.4,11.6 Q2.2,11.6 1.8,9.0" fill="none" stroke="#000" stroke-width="2.8" stroke-linecap="butt" stroke-linejoin="miter"/>
<path transform="translate(140.60,217.90) scale(1.000,1.000)" d="M2.1,4.4 Q2.3,1.3 5.7,1.3 Q9.2,1.3 9.2,4.2 Q9.2,6.2 6.6,7.5 Q2.2,9.6 2.2,11.7 L10.4,11.7" fill="none" stroke="#000" stroke-width="2.8" stroke-linecap="butt" stroke-linejoin="miter"/>
<path transform="translate(151.90,217.90) scale(1.000,1.000)" d="M2.2,4.6 Q2.2,1.3 5.7,1.3 Q9.2,1.3 9.2,4.6 L9.2,8.4 Q9.2,11.7 5.7,11.7 Q2.2,11.7 2.2,8.4 Z" fill="none" stroke="#000" stroke-width="2.8" stroke-linecap="butt" stroke-linejoin="miter"/>
<path transform="translate(163.20,217.90) scale(1.000,1.000)" d="M3.8,0 L6.5,0 L6.5,13 L3.8,13 L3.8,3.4 L0.9,4.9 L0.9,2.3 Z" fill="#000" fill-rule="evenodd" stroke="none"/>
<path transform="translate(488.20,244.90) scale(1.000,1.000)" d="M3.8,0 L6.5,0 L6.5,13 L3.8,13 L3.8,3.4 L0.9,4.9 L0.9,2.3 Z" fill="#000" fill-rule="evenodd" stroke="none"/>
<path transform="translate(499.50,244.90) scale(1.000,1.000)" d="M1.9,4.0 Q2.4,1.4 5.4,1.4 Q8.3,1.4 8.3,3.8 Q8.3,6.2 4.9,6.3 M4.9,6.3 Q8.5,6.4 8.5,9.0 Q8.5,11.6 5.4,11.6 Q2.2,11.6 1.8,9.0" fill="none" stroke="#000" stroke-width="2.8" stroke-linecap="butt" stroke-linejoin="miter"/>
<path transform="translate(510.80,244.90) scale(1.000,1.000)" d="M2.2,4.6 Q2.2,1.3 5.7,1.3 Q9.2,1.3 9.2,4.6 L9.2,8.4 Q9.2,11.7 5.7,11.7 Q2.2,11.7 2.2,8.4 Z" fill="none" stroke="#000" stroke-width="2.8" stroke-linecap="butt" stroke-linejoin="miter"/>
<path transform="translate(522.10,244.90) scale(1.000,1.000)" d="M3.8,0 L6.5,0 L6.5,13 L3.8,13 L3.8,3.4 L0.9,4.9 L0.9,2.3 Z" fill="#000" fill-rule="evenodd" stroke="none"/>
<path transform="translate(533.40,244.90) scale(1.000,1.000)" d="M3.8,0 L6.5,0 L6.5,13 L3.8,13 L3.8,3.4 L0.9,4.9 L0.9,2.3 Z" fill="#000" fill-rule="evenodd" stroke="none"/>
<path transform="translate(77.00,308.30) scale(1.000,1.000)" d="M3.8,0 L6.5,0 L6.5,13 L3.8,13 L3.8,3.4 L0.9,4.9 L0.9,2.3 Z" fill="#000" fill-rule="evenodd" stroke="none"/>
<path transform="translate(88.30,308.30) scale(1.000,1.000)" d="M1.9,4.0 Q2.4,1.4 5.4,1.4 Q8.3,1.4 8.3,3.8 Q8.3,6.2 4.9,6.3 M4.9,6.3 Q8.5,6.4 8.5,9.0 Q8.5,11.6 5.4,11.6 Q2.2,11.6 1.8,9.0" fill="none" stroke="#000" stroke-width="2.8" stroke-linecap="butt" stroke-linejoin="miter"/>
<path transform="translate(99.60,308.30) scale(1.000,1.000)" d="M2.1,4.4 Q2.3,1.3 5.7,1.3 Q9.2,1.3 9.2,4.2 Q9.2,6.2 6.6,7.5 Q2.2,9.6 2.2,11.7 L10.4,11.7" fill="none" stroke="#000" stroke-width="2.8" stroke-linecap="butt" stroke-linejoin="miter"/>
<path transform="translate(110.90,308.30) scale(1.000,1.000)" d="M2.2,4.6 Q2.2,1.3 5.7,1.3 Q9.2,1.3 9.2,4.6 L9.2,8.4 Q9.2,11.7 5.7,11.7 Q2.2,11.7 2.2,8.4 Z" fill="none" stroke="#000" stroke-width="2.8" stroke-linecap="butt" stroke-linejoin="miter"/>
<path transform="translate(122.20,308.30) scale(1.000,1.000)" d="M3.8,0 L6.5,0 L6.5,13 L3.8,13 L3.8,3.4 L0.9,4.9 L0.9,2.3 Z" fill="#000" fill-rule="evenodd" stroke="none"/>
<path transform="translate(133.50,308.30) scale(1.000,1.000)" d="M0.3,13 L4.4,0 L7.7,0 L11.8,13 L9.0,13 L8.2,10.3 L3.9,10.3 L3.1,13 Z M4.6,7.8 L7.5,7.8 L6.05,3.0 Z" fill="#000" fill-rule="evenodd" stroke="none"/>
<path transform="translate(70.00,358.00) scale(1.000,1.000)" d="M3.8,0 L6.5,0 L6.5,13 L3.8,13 L3.8,3.4 L0.9,4.9 L0.9,2.3 Z" fill="#000" fill-rule="evenodd" stroke="none"/>
<path transform="translate(81.30,358.00) scale(1.000,1.000)" d="M1.9,4.0 Q2.4,1.4 5.4,1.4 Q8.3,1.4 8.3,3.8 Q8.3,6.2 4.9,6.3 M4.9,6.3 Q8.5,6.4 8.5,9.0 Q8.5,11.6 5.4,11.6 Q2.2,11.6 1.8,9.0" fill="none" stroke="#000" stroke-width="2.8" stroke-linecap="butt" stroke-linejoin="miter"/>
<path transform="translate(92.60,358.00) scale(1.000,1.000)" d="M2.2,4.6 Q2.2,1.3 5.7,1.3 Q9.2,1.3 9.2,4.6 L9.2,8.4 Q9.2,11.7 5.7,11.7 Q2.2,11.7 2.2,8.4 Z" fill="none" stroke="#000" stroke-width="2.8" stroke-linecap="butt" stroke-linejoin="miter"/>
<path transform="translate(103.90,358.00) scale(1.000,1.000)" d="M5.6,0 L9.4,0 L9.4,13 L6.6,13 L6.6,10.8 L-0.4,10.8 L-0.4,8.1 Z M6.6,3.7 L6.6,8.1 L3.3,8.1 Z" fill="#000" fill-rule="evenodd" stroke="none"/>
<path transform="translate(115.20,358.00) scale(1.000,1.000)" d="M3.8,0 L6.5,0 L6.5,13 L3.8,13 L3.8,3.4 L0.9,4.9 L0.9,2.3 Z" fill="#000" fill-rule="evenodd" stroke="none"/>
<path transform="translate(259.20,341.40) scale(1.000,1.000)" d="M3.8,0 L6.5,0 L6.5,13 L3.8,13 L3.8,3.4 L0.9,4.9 L0.9,2.3 Z" fill="#000" fill-rule="evenodd" stroke="none"/>
<path transform="translate(270.50,341.40) scale(1.000,1.000)" d="M3.8,0 L6.5,0 L6.5,13 L3.8,13 L3.8,3.4 L0.9,4.9 L0.9,2.3 Z" fill="#000" fill-rule="evenodd" stroke="none"/>
<path transform="translate(281.80,341.40) scale(1.000,1.000)" d="M2.2,4.6 Q2.2,1.3 5.7,1.3 Q9.2,1.3 9.2,4.6 L9.2,8.4 Q9.2,11.7 5.7,11.7 Q2.2,11.7 2.2,8.4 Z" fill="none" stroke="#000" stroke-width="2.8" stroke-linecap="butt" stroke-linejoin="miter"/>
<path transform="translate(293.10,341.40) scale(1.000,1.000)" d="M3.8,0 L6.5,0 L6.5,13 L3.8,13 L3.8,3.4 L0.9,4.9 L0.9,2.3 Z" fill="#000" fill-rule="evenodd" stroke="none"/>
<path transform="translate(304.40,341.40) scale(1.000,1.000)" d="M3.8,0 L6.5,0 L6.5,13 L3.8,13 L3.8,3.4 L0.9,4.9 L0.9,2.3 Z" fill="#000" fill-rule="evenodd" stroke="none"/>
<path transform="translate(108.20,469.00) scale(1.000,1.000)" d="M3.8,0 L6.5,0 L6.5,13 L3.8,13 L3.8,3.4 L0.9,4.9 L0.9,2.3 Z" fill="#000" fill-rule="evenodd" stroke="none"/>
<path transform="translate(119.50,469.00) scale(1.000,1.000)" d="M1.9,4.0 Q2.4,1.4 5.4,1.4 Q8.3,1.4 8.3,3.8 Q8.3,6.2 4.9,6.3 M4.9,6.3 Q8.5,6.4 8.5,9.0 Q8.5,11.6 5.4,11.6 Q2.2,11.6 1.8,9.0" fill="none" stroke="#000" stroke-width="2.8" stroke-linecap="butt" stroke-linejoin="miter"/>
<path transform="translate(130.80,469.00) scale(1.000,1.000)" d="M2.1,4.4 Q2.3,1.3 5.7,1.3 Q9.2,1.3 9.2,4.2 Q9.2,6.2 6.6,7.5 Q2.2,9.6 2.2,11.7 L10.4,11.7" fill="none" stroke="#000" stroke-width="2.8" stroke-linecap="butt" stroke-linejoin="miter"/>
<path transform="translate(142.10,469.00) scale(1.000,1.000)" d="M9.1,3.8 Q8.6,1.3 5.9,1.3 Q2.2,1.3 2.2,6.6 L2.2,8.4 Q2.2,11.7 5.8,11.7 Q9.3,11.7 9.3,8.5 Q9.3,5.4 5.9,5.4 Q3.1,5.4 2.2,7.6" fill="none" stroke="#000" stroke-width="2.8" stroke-linecap="butt" stroke-linejoin="miter"/>
<path transform="translate(153.40,469.00) scale(1.000,1.000)" d="M9.4,1.3 L2.8,1.3 L2.4,6.6 Q3.8,5.1 5.9,5.1 Q9.4,5.1 9.4,8.4 Q9.4,11.7 5.7,11.7 Q2.4,11.7 1.8,9.4" fill="none" stroke="#000" stroke-width="2.8" stroke-linecap="butt" stroke-linejoin="miter"/>
<path transform="translate(492.00,479.70) scale(1.000,1.000)" d="M3.8,0 L6.5,0 L6.5,13 L3.8,13 L3.8,3.4 L0.9,4.9 L0.9,2.3 Z" fill="#000" fill-rule="evenodd" stroke="none"/>
<path transform="translate(503.30,479.70) scale(1.000,1.000)" d="M1.9,4.0 Q2.4,1.4 5.4,1.4 Q8.3,1.4 8.3,3.8 Q8.3,6.2 4.9,6.3 M4.9,6.3 Q8.5,6.4 8.5,9.0 Q8.5,11.6 5.4,11.6 Q2.2,11.6 1.8,9.0" fill="none" stroke="#000" stroke-width="2.8" stroke-linecap="butt" stroke-linejoin="miter"/>
<path transform="translate(514.60,479.70) scale(1.000,1.000)" d="M2.2,4.6 Q2.2,1.3 5.7,1.3 Q9.2,1.3 9.2,4.6 L9.2,8.4 Q9.2,11.7 5.7,11.7 Q2.2,11.7 2.2,8.4 Z" fill="none" stroke="#000" stroke-width="2.8" stroke-linecap="butt" stroke-linejoin="miter"/>
<path transform="translate(525.90,479.70) scale(1.000,1.000)" d="M5.6,0 L9.4,0 L9.4,13 L6.6,13 L6.6,10.8 L-0.4,10.8 L-0.4,8.1 Z M6.6,3.7 L6.6,8.1 L3.3,8.1 Z" fill="#000" fill-rule="evenodd" stroke="none"/>
<path transform="translate(537.20,479.70) scale(1.000,1.000)" d="M3.8,0 L6.5,0 L6.5,13 L3.8,13 L3.8,3.4 L0.9,4.9 L0.9,2.3 Z" fill="#000" fill-rule="evenodd" stroke="none"/>
<path transform="translate(300.00,532.80) scale(1.000,1.000)" d="M3.8,0 L6.5,0 L6.5,13 L3.8,13 L3.8,3.4 L0.9,4.9 L0.9,2.3 Z" fill="#000" fill-rule="evenodd" stroke="none"/>
<path transform="translate(311.30,532.80) scale(1.000,1.000)" d="M1.9,4.0 Q2.4,1.4 5.4,1.4 Q8.3,1.4 8.3,3.8 Q8.3,6.2 4.9,6.3 M4.9,6.3 Q8.5,6.4 8.5,9.0 Q8.5,11.6 5.4,11.6 Q2.2,11.6 1.8,9.0" fill="none" stroke="#000" stroke-width="2.8" stroke-linecap="butt" stroke-linejoin="miter"/>
<path transform="translate(322.60,532.80) scale(1.000,1.000)" d="M5.6,0 L9.4,0 L9.4,13 L6.6,13 L6.6,10.8 L-0.4,10.8 L-0.4,8.1 Z M6.6,3.7 L6.6,8.1 L3.3,8.1 Z" fill="#000" fill-rule="evenodd" stroke="none"/>
<path transform="translate(333.90,532.80) scale(1.000,1.000)" d="M3.8,0 L6.5,0 L6.5,13 L3.8,13 L3.8,3.4 L0.9,4.9 L0.9,2.3 Z" fill="#000" fill-rule="evenodd" stroke="none"/>
<path transform="translate(345.20,532.80) scale(1.000,1.000)" d="M3.8,0 L6.5,0 L6.5,13 L3.8,13 L3.8,3.4 L0.9,4.9 L0.9,2.3 Z" fill="#000" fill-rule="evenodd" stroke="none"/>
<path transform="translate(298.10,562.40) scale(1.000,1.000)" d="M3.8,0 L6.5,0 L6.5,13 L3.8,13 L3.8,3.4 L0.9,4.9 L0.9,2.3 Z" fill="#000" fill-rule="evenodd" stroke="none"/>
<path transform="translate(309.40,562.40) scale(1.000,1.000)" d="M1.9,4.0 Q2.4,1.4 5.4,1.4 Q8.3,1.4 8.3,3.8 Q8.3,6.2 4.9,6.3 M4.9,6.3 Q8.5,6.4 8.5,9.0 Q8.5,11.6 5.4,11.6 Q2.2,11.6 1.8,9.0" fill="none" stroke="#000" stroke-width="2.8" stroke-linecap="butt" stroke-linejoin="miter"/>
<path transform="translate(320.70,562.40) scale(1.000,1.000)" d="M5.6,0 L9.4,0 L9.4,13 L6.6,13 L6.6,10.8 L-0.4,10.8 L-0.4,8.1 Z M6.6,3.7 L6.6,8.1 L3.3,8.1 Z" fill="#000" fill-rule="evenodd" stroke="none"/>
<path transform="translate(332.00,562.40) scale(1.000,1.000)" d="M1.3,1.3 L9.4,1.3 Q6.2,6.2 5.2,13" fill="none" stroke="#000" stroke-width="2.8" stroke-linecap="butt" stroke-linejoin="miter"/>
<path transform="translate(343.30,562.40) scale(1.000,1.000)" d="M3.8,0 L6.5,0 L6.5,13 L3.8,13 L3.8,3.4 L0.9,4.9 L0.9,2.3 Z" fill="#000" fill-rule="evenodd" stroke="none"/>
<path transform="translate(354.60,562.40) scale(1.000,1.000)" d="M0.3,13 L4.4,0 L7.7,0 L11.8,13 L9.0,13 L8.2,10.3 L3.9,10.3 L3.1,13 Z M4.6,7.8 L7.5,7.8 L6.05,3.0 Z" fill="#000" fill-rule="evenodd" stroke="none"/>
<path transform="translate(248.10,582.30) scale(1.000,1.000)" d="M3.8,0 L6.5,0 L6.5,13 L3.8,13 L3.8,3.4 L0.9,4.9 L0.9,2.3 Z" fill="#000" fill-rule="evenodd" stroke="none"/>
<path transform="translate(259.40,582.30) scale(1.000,1.000)" d="M1.9,4.0 Q2.4,1.4 5.4,1.4 Q8.3,1.4 8.3,3.8 Q8.3,6.2 4.9,6.3 M4.9,6.3 Q8.5,6.4 8.5,9.0 Q8.5,11.6 5.4,11.6 Q2.2,11.6 1.8,9.0" fill="none" stroke="#000" stroke-width="2.8" stroke-linecap="butt" stroke-linejoin="miter"/>
<path transform="translate(270.70,582.30) scale(1.000,1.000)" d="M5.6,0 L9.4,0 L9.4,13 L6.6,13 L6.6,10.8 L-0.4,10.8 L-0.4,8.1 Z M6.6,3.7 L6.6,8.1 L3.3,8.1 Z" fill="#000" fill-rule="evenodd" stroke="none"/>
<path transform="translate(282.00,582.30) scale(1.000,1.000)" d="M1.3,1.3 L9.4,1.3 Q6.2,6.2 5.2,13" fill="none" stroke="#000" stroke-width="2.8" stroke-linecap="butt" stroke-linejoin="miter"/>
<path transform="translate(293.30,582.30) scale(1.000,1.000)" d="M3.8,0 L6.5,0 L6.5,13 L3.8,13 L3.8,3.4 L0.9,4.9 L0.9,2.3 Z" fill="#000" fill-rule="evenodd" stroke="none"/>
<path transform="translate(304.60,582.30) scale(1.000,1.000)" d="M0.3,13 L4.4,0 L7.7,0 L11.8,13 L9.0,13 L8.2,10.3 L3.9,10.3 L3.1,13 Z M4.6,7.8 L7.5,7.8 L6.05,3.0 Z" fill="#000" fill-rule="evenodd" stroke="none"/>
<path transform="translate(106.90,612.70) scale(1.000,1.000)" d="M3.8,0 L6.5,0 L6.5,13 L3.8,13 L3.8,3.4 L0.9,4.9 L0.9,2.3 Z" fill="#000" fill-rule="evenodd" stroke="none"/>
<path transform="translate(118.20,612.70) scale(1.000,1.000)" d="M1.9,4.0 Q2.4,1.4 5.4,1.4 Q8.3,1.4 8.3,3.8 Q8.3,6.2 4.9,6.3 M4.9,6.3 Q8.5,6.4 8.5,9.0 Q8.5,11.6 5.4,11.6 Q2.2,11.6 1.8,9.0" fill="none" stroke="#000" stroke-width="2.8" stroke-linecap="butt" stroke-linejoin="miter"/>
<path transform="translate(129.50,612.70) scale(1.000,1.000)" d="M5.6,0 L9.4,0 L9.4,13 L6.6,13 L6.6,10.8 L-0.4,10.8 L-0.4,8.1 Z M6.6,3.7 L6.6,8.1 L3.3,8.1 Z" fill="#000" fill-rule="evenodd" stroke="none"/>
<path transform="translate(140.80,612.70) scale(1.000,1.000)" d="M1.3,1.3 L9.4,1.3 Q6.2,6.2 5.2,13" fill="none" stroke="#000" stroke-width="2.8" stroke-linecap="butt" stroke-linejoin="miter"/>
<path transform="translate(152.10,612.70) scale(1.000,1.000)" d="M3.8,0 L6.5,0 L6.5,13 L3.8,13 L3.8,3.4 L0.9,4.9 L0.9,2.3 Z" fill="#000" fill-rule="evenodd" stroke="none"/>
<path transform="translate(190.10,630.90) scale(1.000,1.000)" d="M3.8,0 L6.5,0 L6.5,13 L3.8,13 L3.8,3.4 L0.9,4.9 L0.9,2.3 Z" fill="#000" fill-rule="evenodd" stroke="none"/>
<path transform="translate(201.40,630.90) scale(1.000,1.000)" d="M1.9,4.0 Q2.4,1.4 5.4,1.4 Q8.3,1.4 8.3,3.8 Q8.3,6.2 4.9,6.3 M4.9,6.3 Q8.5,6.4 8.5,9.0 Q8.5,11.6 5.4,11.6 Q2.2,11.6 1.8,9.0" fill="none" stroke="#000" stroke-width="2.8" stroke-linecap="butt" stroke-linejoin="miter"/>
<path transform="translate(212.70,630.90) scale(1.000,1.000)" d="M9.4,1.3 L2.8,1.3 L2.4,6.6 Q3.8,5.1 5.9,5.1 Q9.4,5.1 9.4,8.4 Q9.4,11.7 5.7,11.7 Q2.4,11.7 1.8,9.4" fill="none" stroke="#000" stroke-width="2.8" stroke-linecap="butt" stroke-linejoin="miter"/>
<path transform="translate(224.00,630.90) scale(1.000,1.000)" d="M9.1,3.8 Q8.6,1.3 5.9,1.3 Q2.2,1.3 2.2,6.6 L2.2,8.4 Q2.2,11.7 5.8,11.7 Q9.3,11.7 9.3,8.5 Q9.3,5.4 5.9,5.4 Q3.1,5.4 2.2,7.6" fill="none" stroke="#000" stroke-width="2.8" stroke-linecap="butt" stroke-linejoin="miter"/>
<path transform="translate(235.30,630.90) scale(1.000,1.000)" d="M1.3,1.3 L9.4,1.3 Q6.2,6.2 5.2,13" fill="none" stroke="#000" stroke-width="2.8" stroke-linecap="butt" stroke-linejoin="miter"/>
<path transform="translate(246.90,737.50) scale(1.000,1.000)" d="M3.8,0 L6.5,0 L6.5,13 L3.8,13 L3.8,3.4 L0.9,4.9 L0.9,2.3 Z" fill="#000" fill-rule="evenodd" stroke="none"/>
<path transform="translate(258.20,737.50) scale(1.000,1.000)" d="M1.9,4.0 Q2.4,1.4 5.4,1.4 Q8.3,1.4 8.3,3.8 Q8.3,6.2 4.9,6.3 M4.9,6.3 Q8.5,6.4 8.5,9.0 Q8.5,11.6 5.4,11.6 Q2.2,11.6 1.8,9.0" fill="none" stroke="#000" stroke-width="2.8" stroke-linecap="butt" stroke-linejoin="miter"/>
<path transform="translate(269.50,737.50) scale(1.000,1.000)" d="M9.4,1.3 L2.8,1.3 L2.4,6.6 Q3.8,5.1 5.9,5.1 Q9.4,5.1 9.4,8.4 Q9.4,11.7 5.7,11.7 Q2.4,11.7 1.8,9.4" fill="none" stroke="#000" stroke-width="2.8" stroke-linecap="butt" stroke-linejoin="miter"/>
<path transform="translate(280.80,737.50) scale(1.000,1.000)" d="M2.1,4.4 Q2.3,1.3 5.7,1.3 Q9.2,1.3 9.2,4.2 Q9.2,6.2 6.6,7.5 Q2.2,9.6 2.2,11.7 L10.4,11.7" fill="none" stroke="#000" stroke-width="2.8" stroke-linecap="butt" stroke-linejoin="miter"/>
<path transform="translate(292.10,737.50) scale(1.000,1.000)" d="M3.8,0 L6.5,0 L6.5,13 L3.8,13 L3.8,3.4 L0.9,4.9 L0.9,2.3 Z" fill="#000" fill-rule="evenodd" stroke="none"/>
<path transform="translate(303.40,737.50) scale(1.000,1.000)" d="M2.2,13 L2.2,1.3 L6.4,1.3 Q9.5,1.3 9.5,4.6 Q9.5,7.8 6.4,7.8 L2.2,7.8" fill="none" stroke="#000" stroke-width="2.8" stroke-linecap="butt" stroke-linejoin="miter"/>
<path transform="translate(41.00,799.50) scale(1.000,1.000)" d="M3.8,0 L6.5,0 L6.5,13 L3.8,13 L3.8,3.4 L0.9,4.9 L0.9,2.3 Z" fill="#000" fill-rule="evenodd" stroke="none"/>
<path transform="translate(52.30,799.50) scale(1.000,1.000)" d="M1.9,4.0 Q2.4,1.4 5.4,1.4 Q8.3,1.4 8.3,3.8 Q8.3,6.2 4.9,6.3 M4.9,6.3 Q8.5,6.4 8.5,9.0 Q8.5,11.6 5.4,11.6 Q2.2,11.6 1.8,9.0" fill="none" stroke="#000" stroke-width="2.8" stroke-linecap="butt" stroke-linejoin="miter"/>
<path transform="translate(63.60,799.50) scale(1.000,1.000)" d="M5.6,0 L9.4,0 L9.4,13 L6.6,13 L6.6,10.8 L-0.4,10.8 L-0.4,8.1 Z M6.6,3.7 L6.6,8.1 L3.3,8.1 Z" fill="#000" fill-rule="evenodd" stroke="none"/>
<path transform="translate(74.90,799.50) scale(1.000,1.000)" d="M1.3,1.3 L9.4,1.3 Q6.2,6.2 5.2,13" fill="none" stroke="#000" stroke-width="2.8" stroke-linecap="butt" stroke-linejoin="miter"/>
<path transform="translate(86.20,799.50) scale(1.000,1.000)" d="M3.8,0 L6.5,0 L6.5,13 L3.8,13 L3.8,3.4 L0.9,4.9 L0.9,2.3 Z" fill="#000" fill-rule="evenodd" stroke="none"/>
<path transform="translate(97.50,799.50) scale(1.000,1.000)" d="M9.8,3.9 Q9.2,1.4 5.5,1.4 Q1.3,1.4 1.3,6.5 Q1.3,11.6 5.5,11.6 Q9.2,11.6 9.8,9.1" fill="none" stroke="#000" stroke-width="2.8" stroke-linecap="butt" stroke-linejoin="miter"/>
<path transform="translate(36.90,966.80) scale(1.000,1.000)" d="M3.8,0 L6.5,0 L6.5,13 L3.8,13 L3.8,3.4 L0.9,4.9 L0.9,2.3 Z" fill="#000" fill-rule="evenodd" stroke="none"/>
<path transform="translate(48.20,966.80) scale(1.000,1.000)" d="M3.8,0 L6.5,0 L6.5,13 L3.8,13 L3.8,3.4 L0.9,4.9 L0.9,2.3 Z" fill="#000" fill-rule="evenodd" stroke="none"/>
<path transform="translate(59.50,966.80) scale(1.000,1.000)" d="M1.3,1.3 L9.4,1.3 Q6.2,6.2 5.2,13" fill="none" stroke="#000" stroke-width="2.8" stroke-linecap="butt" stroke-linejoin="miter"/>
<path transform="translate(70.80,966.80) scale(1.000,1.000)" d="M3.8,0 L6.5,0 L6.5,13 L3.8,13 L3.8,3.4 L0.9,4.9 L0.9,2.3 Z" fill="#000" fill-rule="evenodd" stroke="none"/>
<path transform="translate(82.10,966.80) scale(1.000,1.000)" d="M3.8,0 L6.5,0 L6.5,13 L3.8,13 L3.8,3.4 L0.9,4.9 L0.9,2.3 Z" fill="#000" fill-rule="evenodd" stroke="none"/>
<path transform="translate(141.00,944.70) scale(1.000,1.000)" d="M3.8,0 L6.5,0 L6.5,13 L3.8,13 L3.8,3.4 L0.9,4.9 L0.9,2.3 Z" fill="#000" fill-rule="evenodd" stroke="none"/>
<path transform="translate(152.30,944.70) scale(1.000,1.000)" d="M3.8,0 L6.5,0 L6.5,13 L3.8,13 L3.8,3.4 L0.9,4.9 L0.9,2.3 Z" fill="#000" fill-rule="evenodd" stroke="none"/>
<path transform="translate(163.60,944.70) scale(1.000,1.000)" d="M1.3,1.3 L9.4,1.3 Q6.2,6.2 5.2,13" fill="none" stroke="#000" stroke-width="2.8" stroke-linecap="butt" stroke-linejoin="miter"/>
<path transform="translate(174.90,944.70) scale(1.000,1.000)" d="M3.8,0 L6.5,0 L6.5,13 L3.8,13 L3.8,3.4 L0.9,4.9 L0.9,2.3 Z" fill="#000" fill-rule="evenodd" stroke="none"/>
<path transform="translate(186.20,944.70) scale(1.000,1.000)" d="M3.8,0 L6.5,0 L6.5,13 L3.8,13 L3.8,3.4 L0.9,4.9 L0.9,2.3 Z" fill="#000" fill-rule="evenodd" stroke="none"/>
<path transform="translate(230.90,919.00) scale(1.000,1.000)" d="M3.8,0 L6.5,0 L6.5,13 L3.8,13 L3.8,3.4 L0.9,4.9 L0.9,2.3 Z" fill="#000" fill-rule="evenodd" stroke="none"/>
<path transform="translate(242.20,919.00) scale(1.000,1.000)" d="M3.8,0 L6.5,0 L6.5,13 L3.8,13 L3.8,3.4 L0.9,4.9 L0.9,2.3 Z" fill="#000" fill-rule="evenodd" stroke="none"/>
<path transform="translate(253.50,919.00) scale(1.000,1.000)" d="M1.3,1.3 L9.4,1.3 Q6.2,6.2 5.2,13" fill="none" stroke="#000" stroke-width="2.8" stroke-linecap="butt" stroke-linejoin="miter"/>
<path transform="translate(264.80,919.00) scale(1.000,1.000)" d="M3.8,0 L6.5,0 L6.5,13 L3.8,13 L3.8,3.4 L0.9,4.9 L0.9,2.3 Z" fill="#000" fill-rule="evenodd" stroke="none"/>
<path transform="translate(276.10,919.00) scale(1.000,1.000)" d="M3.8,0 L6.5,0 L6.5,13 L3.8,13 L3.8,3.4 L0.9,4.9 L0.9,2.3 Z" fill="#000" fill-rule="evenodd" stroke="none"/>
<path transform="translate(311.00,895.40) scale(1.000,1.000)" d="M3.8,0 L6.5,0 L6.5,13 L3.8,13 L3.8,3.4 L0.9,4.9 L0.9,2.3 Z" fill="#000" fill-rule="evenodd" stroke="none"/>
<path transform="translate(322.30,895.40) scale(1.000,1.000)" d="M3.8,0 L6.5,0 L6.5,13 L3.8,13 L3.8,3.4 L0.9,4.9 L0.9,2.3 Z" fill="#000" fill-rule="evenodd" stroke="none"/>
<path transform="translate(333.60,895.40) scale(1.000,1.000)" d="M1.3,1.3 L9.4,1.3 Q6.2,6.2 5.2,13" fill="none" stroke="#000" stroke-width="2.8" stroke-linecap="butt" stroke-linejoin="miter"/>
<path transform="translate(344.90,895.40) scale(1.000,1.000)" d="M3.8,0 L6.5,0 L6.5,13 L3.8,13 L3.8,3.4 L0.9,4.9 L0.9,2.3 Z" fill="#000" fill-rule="evenodd" stroke="none"/>
<path transform="translate(356.20,895.40) scale(1.000,1.000)" d="M3.8,0 L6.5,0 L6.5,13 L3.8,13 L3.8,3.4 L0.9,4.9 L0.9,2.3 Z" fill="#000" fill-rule="evenodd" stroke="none"/>
<path transform="translate(35.10,983.60) scale(1.000,1.015)" d="M3.9,-1.2 Q1.3,2.2 1.3,6.5 Q1.3,10.8 3.9,14.2" fill="none" stroke="#000" stroke-width="2.8" stroke-linecap="butt" stroke-linejoin="miter"/>
<path transform="translate(37.95,983.60) scale(1.000,1.015)" d="M0.8,0 L3.6,0 L9.4,8.6 L9.4,0 L12,0 L12,13 L9.3,13 L3.4,4.3 L3.4,13 L0.8,13 Z" fill="#000" fill-rule="evenodd" stroke="none"/>
<path transform="translate(51.20,983.60) scale(1.000,1.015)" d="M2.2,5.0 Q2.2,1.3 6.0,1.3 Q9.8,1.3 9.8,5.0 L9.8,8.0 Q9.8,11.7 6.0,11.7 Q2.2,11.7 2.2,8.0 Z" fill="none" stroke="#000" stroke-width="2.8" stroke-linecap="butt" stroke-linejoin="miter"/>
<path transform="translate(62.40,983.60) scale(1.000,1.015)" d="M0.6,10.4 L3.0,10.4 L3.0,13 L0.6,13 Z" fill="#000" fill-rule="evenodd" stroke="none"/>
<path transform="translate(74.60,983.60) scale(1.000,1.015)" d="M3.8,0 L6.5,0 L6.5,13 L3.8,13 L3.8,3.4 L0.9,4.9 L0.9,2.3 Z" fill="#000" fill-rule="evenodd" stroke="none"/>
<path transform="translate(86.30,983.60) scale(1.000,1.015)" d="M1.2,-1.2 Q3.8,2.2 3.8,6.5 Q3.8,10.8 1.2,14.2" fill="none" stroke="#000" stroke-width="2.8" stroke-linecap="butt" stroke-linejoin="miter"/>
<path transform="translate(141.10,960.90) scale(1.000,1.015)" d="M3.9,-1.2 Q1.3,2.2 1.3,6.5 Q1.3,10.8 3.9,14.2" fill="none" stroke="#000" stroke-width="2.8" stroke-linecap="butt" stroke-linejoin="miter"/>
<path transform="translate(143.95,960.90) scale(1.000,1.015)" d="M0.8,0 L3.6,0 L9.4,8.6 L9.4,0 L12,0 L12,13 L9.3,13 L3.4,4.3 L3.4,13 L0.8,13 Z" fill="#000" fill-rule="evenodd" stroke="none"/>
<path transform="translate(157.20,960.90) scale(1.000,1.015)" d="M2.2,5.0 Q2.2,1.3 6.0,1.3 Q9.8,1.3 9.8,5.0 L9.8,8.0 Q9.8,11.7 6.0,11.7 Q2.2,11.7 2.2,8.0 Z" fill="none" stroke="#000" stroke-width="2.8" stroke-linecap="butt" stroke-linejoin="miter"/>
<path transform="translate(168.40,960.90) scale(1.000,1.015)" d="M0.6,10.4 L3.0,10.4 L3.0,13 L0.6,13 Z" fill="#000" fill-rule="evenodd" stroke="none"/>
<path transform="translate(180.60,960.90) scale(1.000,1.015)" d="M2.1,4.4 Q2.3,1.3 5.7,1.3 Q9.2,1.3 9.2,4.2 Q9.2,6.2 6.6,7.5 Q2.2,9.6 2.2,11.7 L10.4,11.7" fill="none" stroke="#000" stroke-width="2.8" stroke-linecap="butt" stroke-linejoin="miter"/>
<path transform="translate(192.30,960.90) scale(1.000,1.015)" d="M1.2,-1.2 Q3.8,2.2 3.8,6.5 Q3.8,10.8 1.2,14.2" fill="none" stroke="#000" stroke-width="2.8" stroke-linecap="butt" stroke-linejoin="miter"/>
<path transform="translate(230.90,936.10) scale(1.000,1.015)" d="M3.9,-1.2 Q1.3,2.2 1.3,6.5 Q1.3,10.8 3.9,14.2" fill="none" stroke="#000" stroke-width="2.8" stroke-linecap="butt" stroke-linejoin="miter"/>
<path transform="translate(233.75,936.10) scale(1.000,1.015)" d="M0.8,0 L3.6,0 L9.4,8.6 L9.4,0 L12,0 L12,13 L9.3,13 L3.4,4.3 L3.4,13 L0.8,13 Z" fill="#000" fill-rule="evenodd" stroke="none"/>
<path transform="translate(247.00,936.10) scale(1.000,1.015)" d="M2.2,5.0 Q2.2,1.3 6.0,1.3 Q9.8,1.3 9.8,5.0 L9.8,8.0 Q9.8,11.7 6.0,11.7 Q2.2,11.7 2.2,8.0 Z" fill="none" stroke="#000" stroke-width="2.8" stroke-linecap="butt" stroke-linejoin="miter"/>
<path transform="translate(258.20,936.10) scale(1.000,1.015)" d="M0.6,10.4 L3.0,10.4 L3.0,13 L0.6,13 Z" fill="#000" fill-rule="evenodd" stroke="none"/>
<path transform="translate(270.40,936.10) scale(1.000,1.015)" d="M2.1,4.4 Q2.3,1.3 5.7,1.3 Q9.2,1.3 9.2,4.2 Q9.2,6.2 6.6,7.5 Q2.2,9.6 2.2,11.7 L10.4,11.7" fill="none" stroke="#000" stroke-width="2.8" stroke-linecap="butt" stroke-linejoin="miter"/>
<path transform="translate(282.10,936.10) scale(1.000,1.015)" d="M1.2,-1.2 Q3.8,2.2 3.8,6.5 Q3.8,10.8 1.2,14.2" fill="none" stroke="#000" stroke-width="2.8" stroke-linecap="butt" stroke-linejoin="miter"/>
<path transform="translate(309.80,911.60) scale(1.000,1.015)" d="M3.9,-1.2 Q1.3,2.2 1.3,6.5 Q1.3,10.8 3.9,14.2" fill="none" stroke="#000" stroke-width="2.8" stroke-linecap="butt" stroke-linejoin="miter"/>
<path transform="translate(312.65,911.60) scale(1.000,1.015)" d="M0.8,0 L3.6,0 L9.4,8.6 L9.4,0 L12,0 L12,13 L9.3,13 L3.4,4.3 L3.4,13 L0.8,13 Z" fill="#000" fill-rule="evenodd" stroke="none"/>
<path transform="translate(325.90,911.60) scale(1.000,1.015)" d="M2.2,5.0 Q2.2,1.3 6.0,1.3 Q9.8,1.3 9.8,5.0 L9.8,8.0 Q9.8,11.7 6.0,11.7 Q2.2,11.7 2.2,8.0 Z" fill="none" stroke="#000" stroke-width="2.8" stroke-linecap="butt" stroke-linejoin="miter"/>
<path transform="translate(337.10,911.60) scale(1.000,1.015)" d="M0.6,10.4 L3.0,10.4 L3.0,13 L0.6,13 Z" fill="#000" fill-rule="evenodd" stroke="none"/>
<path transform="translate(349.30,911.60) scale(1.000,1.015)" d="M3.8,0 L6.5,0 L6.5,13 L3.8,13 L3.8,3.4 L0.9,4.9 L0.9,2.3 Z" fill="#000" fill-rule="evenodd" stroke="none"/>
<path transform="translate(361.00,911.60) scale(1.000,1.015)" d="M1.2,-1.2 Q3.8,2.2 3.8,6.5 Q3.8,10.8 1.2,14.2" fill="none" stroke="#000" stroke-width="2.8" stroke-linecap="butt" stroke-linejoin="miter"/>
<path transform="translate(687.90,1089.80) scale(1.000,1.054)" d="M3.8,0 L6.5,0 L6.5,13 L3.8,13 L3.8,3.4 L0.9,4.9 L0.9,2.3 Z" fill="#000" fill-rule="evenodd" stroke="none"/>
<path transform="translate(699.20,1089.80) scale(1.000,1.054)" d="M1.9,4.0 Q2.4,1.4 5.4,1.4 Q8.3,1.4 8.3,3.8 Q8.3,6.2 4.9,6.3 M4.9,6.3 Q8.5,6.4 8.5,9.0 Q8.5,11.6 5.4,11.6 Q2.2,11.6 1.8,9.0" fill="none" stroke="#000" stroke-width="2.8" stroke-linecap="butt" stroke-linejoin="miter"/>
<path transform="translate(710.50,1089.80) scale(1.000,1.054)" d="M2.2,4.6 Q2.2,1.3 5.7,1.3 Q9.2,1.3 9.2,4.6 L9.2,8.4 Q9.2,11.7 5.7,11.7 Q2.2,11.7 2.2,8.4 Z" fill="none" stroke="#000" stroke-width="2.8" stroke-linecap="butt" stroke-linejoin="miter"/>
<path transform="translate(721.80,1089.80) scale(1.000,1.054)" d="M2.2,4.6 Q2.2,1.3 5.7,1.3 Q9.2,1.3 9.2,4.6 L9.2,8.4 Q9.2,11.7 5.7,11.7 Q2.2,11.7 2.2,8.4 Z" fill="none" stroke="#000" stroke-width="2.8" stroke-linecap="butt" stroke-linejoin="miter"/>
<path transform="translate(733.10,1089.80) scale(1.000,1.054)" d="M3.8,0 L6.5,0 L6.5,13 L3.8,13 L3.8,3.4 L0.9,4.9 L0.9,2.3 Z" fill="#000" fill-rule="evenodd" stroke="none"/>
<path transform="translate(744.40,1089.80) scale(1.000,1.054)" d="M5.6,0 L9.4,0 L9.4,13 L6.6,13 L6.6,10.8 L-0.4,10.8 L-0.4,8.1 Z M6.6,3.7 L6.6,8.1 L3.3,8.1 Z" fill="#000" fill-rule="evenodd" stroke="none"/>
</g>
</svg>
</body></html>
